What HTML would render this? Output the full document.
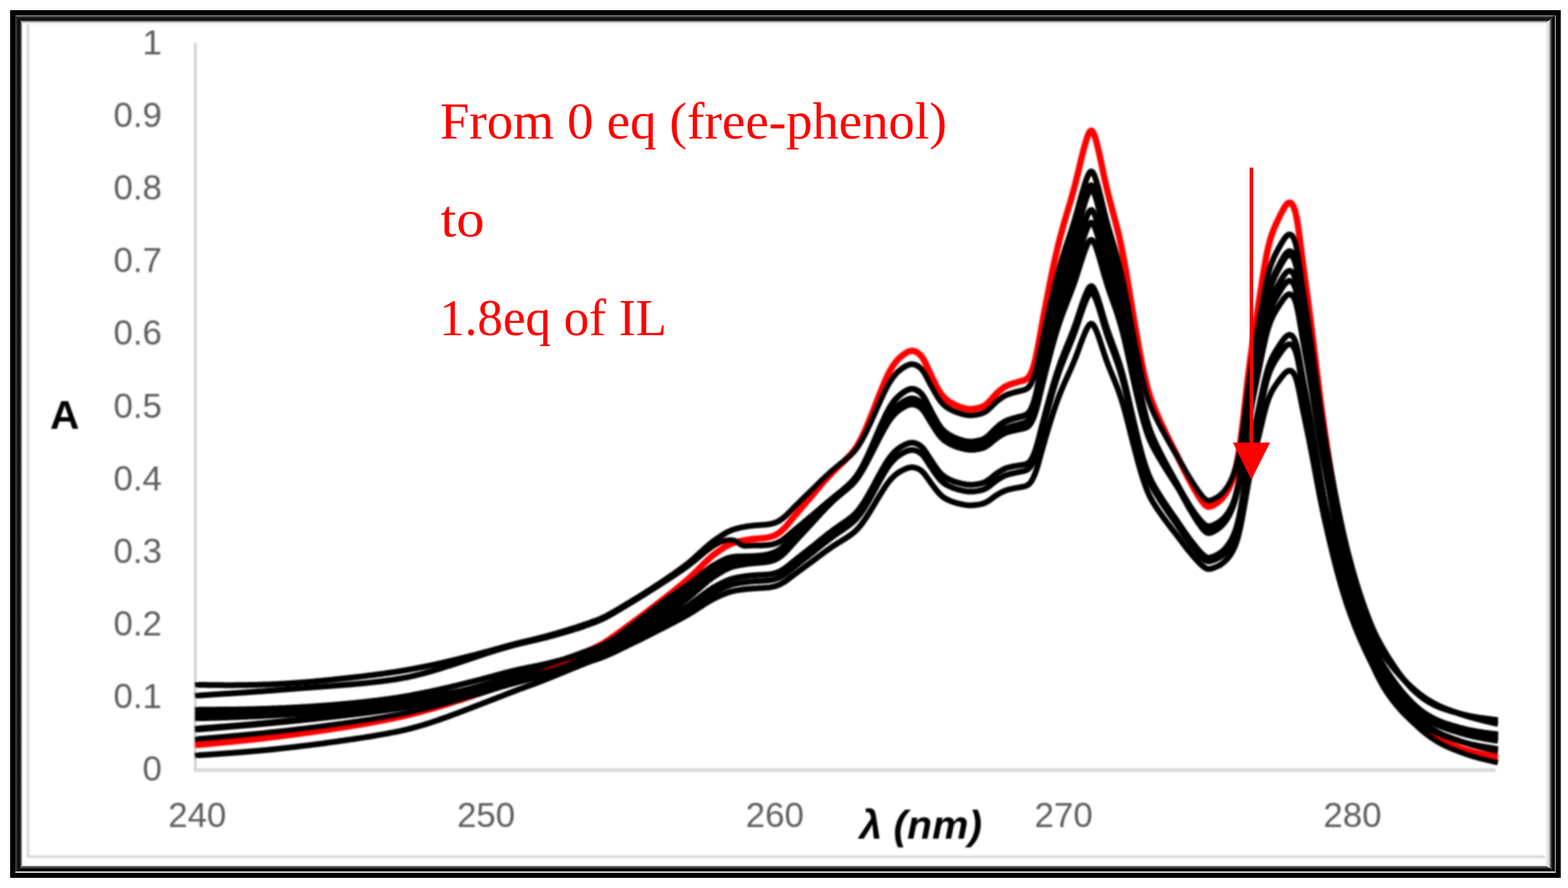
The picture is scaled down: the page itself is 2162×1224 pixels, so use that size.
<!DOCTYPE html>
<html lang="en">
<head>
<meta charset="utf-8">
<title>UV absorption spectra of phenol with increasing IL equivalents</title>
<style>
html,body{margin:0;padding:0;background:#fff;}
body{width:2162px;height:1224px;overflow:hidden;}
svg{display:block;}
.tick{font-family:"Liberation Sans",sans-serif;font-size:48px;fill:#5e5e5e;}
.ttl{font-family:"Liberation Sans",sans-serif;font-weight:bold;fill:#000;}
.note{font-family:"Liberation Serif",serif;font-size:71px;fill:#ff0000;}
.blk{fill:none;stroke:#000;stroke-width:8.0;stroke-linejoin:round;stroke-linecap:butt;}
.red{fill:none;stroke:#ff0000;stroke-width:8.8;stroke-linejoin:round;stroke-linecap:butt;}
</style>
</head>
<body>
<svg xmlns="http://www.w3.org/2000/svg" width="2162" height="1224" viewBox="0 0 2162 1224">
<defs><filter id="soft" x="-2%" y="-2%" width="104%" height="104%"><feGaussianBlur stdDeviation="1.25"/></filter><filter id="soft2" x="-2%" y="-2%" width="104%" height="104%"><feGaussianBlur stdDeviation="1.2"/></filter></defs>
<rect x="0" y="0" width="2162" height="1224" fill="#ffffff"/>
<defs><linearGradient id="gT" x1="0" y1="0" x2="0" y2="1"><stop offset="0" stop-color="#8c8c8c"/><stop offset="0.10" stop-color="#6a6a6a"/><stop offset="0.20" stop-color="#303030"/><stop offset="0.36" stop-color="#141414"/><stop offset="0.52" stop-color="#101010"/><stop offset="0.62" stop-color="#4a4a4a"/><stop offset="0.70" stop-color="#9a9a9a"/><stop offset="0.80" stop-color="#d2d2d2"/><stop offset="0.90" stop-color="#f0f0f0"/><stop offset="1" stop-color="#ffffff"/></linearGradient><linearGradient id="gL" x1="0" y1="0" x2="1" y2="0"><stop offset="0" stop-color="#3a3a3a"/><stop offset="0.22" stop-color="#2c2c2c"/><stop offset="0.34" stop-color="#0c0c0c"/><stop offset="0.62" stop-color="#101010"/><stop offset="0.72" stop-color="#6e6e6e"/><stop offset="0.82" stop-color="#9a9a9a"/><stop offset="0.90" stop-color="#e8e8e8"/><stop offset="1" stop-color="#ffffff"/></linearGradient><linearGradient id="gR" x1="0" y1="0" x2="1" y2="0"><stop offset="0" stop-color="#ffffff"/><stop offset="0.15" stop-color="#f0f0f0"/><stop offset="0.40" stop-color="#d8d8d8"/><stop offset="0.52" stop-color="#8a8a8a"/><stop offset="0.62" stop-color="#404040"/><stop offset="0.72" stop-color="#0c0c0c"/><stop offset="1" stop-color="#080808"/></linearGradient><linearGradient id="gB" x1="0" y1="0" x2="0" y2="1"><stop offset="0" stop-color="#ffffff"/><stop offset="0.12" stop-color="#e2e2e2"/><stop offset="0.22" stop-color="#d0d0d0"/><stop offset="0.26" stop-color="#4c4c4c"/><stop offset="0.48" stop-color="#484848"/><stop offset="0.56" stop-color="#000000"/><stop offset="1" stop-color="#000000"/></linearGradient></defs>
<g id="frame">
<g filter="url(#soft2)"><rect x="38.5" y="31" width="2095" height="1150" fill="none" stroke="#dcdcdc" stroke-width="4"/></g>
<polygon points="20.5,21 2144.7,21 2130,33.5 32,33.5" fill="url(#gT)"/>
<polygon points="20.5,1201.2 32,1192 2130,1192 2144.7,1201.2" fill="url(#gB)"/>
<polygon points="21,20.5 32,33.5 32,1192 21,1201.7" fill="url(#gL)"/>
<polygon points="2144.2,20.5 2144.2,1201.7 2130,1192 2130,33.5" fill="url(#gR)"/>
<rect x="17.5" y="17.5" width="2131" height="1189" fill="none" stroke="#000" stroke-width="7"/>
</g>
<g id="chart" filter="url(#soft)">
<rect x="267.4" y="59" width="3.9" height="1005" fill="#d4d4d4"/>
<rect x="267.4" y="1058.9" width="1795" height="5.2" fill="#dadada"/>
<text class="tick" x="223.2" y="1076.0" text-anchor="end">0</text>
<text class="tick" x="223.2" y="975.9" text-anchor="end">0.1</text>
<text class="tick" x="223.2" y="875.8" text-anchor="end">0.2</text>
<text class="tick" x="223.2" y="775.7" text-anchor="end">0.3</text>
<text class="tick" x="223.2" y="675.6" text-anchor="end">0.4</text>
<text class="tick" x="223.2" y="575.5" text-anchor="end">0.5</text>
<text class="tick" x="223.2" y="475.4" text-anchor="end">0.6</text>
<text class="tick" x="223.2" y="375.3" text-anchor="end">0.7</text>
<text class="tick" x="223.2" y="275.2" text-anchor="end">0.8</text>
<text class="tick" x="223.2" y="175.1" text-anchor="end">0.9</text>
<text class="tick" x="223.2" y="75.0" text-anchor="end">1</text>
<text class="tick" x="272.0" y="1140.3" text-anchor="middle">240</text>
<text class="tick" x="670.2" y="1140.3" text-anchor="middle">250</text>
<text class="tick" x="1068.4" y="1140.3" text-anchor="middle">260</text>
<text class="tick" x="1466.6" y="1140.3" text-anchor="middle">270</text>
<text class="tick" x="1864.8" y="1140.3" text-anchor="middle">280</text>
<text class="ttl" x="69" y="590.5" font-size="56">A</text>
<text class="ttl" x="1185" y="1156" font-size="56" font-style="italic" textLength="169" lengthAdjust="spacingAndGlyphs">λ (nm)</text>
<path class="red" d="M268.4 1027.0L269.9 1026.9L271.4 1026.8L272.9 1026.6L274.4 1026.5L275.9 1026.4L277.4 1026.2L278.9 1026.1L280.4 1026.0L281.9 1025.8L283.4 1025.7L284.9 1025.6L286.4 1025.4L287.9 1025.3L289.4 1025.1L290.9 1025.0L292.4 1024.9L293.9 1024.7L295.4 1024.6L296.9 1024.4L298.4 1024.3L299.9 1024.2L301.4 1024.0L302.9 1023.9L304.4 1023.7L305.9 1023.6L307.4 1023.4L308.9 1023.3L310.4 1023.1L311.9 1023.0L313.4 1022.8L314.9 1022.7L316.4 1022.6L317.9 1022.4L319.4 1022.3L320.9 1022.1L322.4 1022.0L323.9 1021.8L325.4 1021.7L326.9 1021.5L328.4 1021.3L329.9 1021.2L331.4 1021.0L332.9 1020.9L334.4 1020.7L335.9 1020.6L337.4 1020.4L338.9 1020.3L340.4 1020.1L341.9 1019.9L343.4 1019.8L344.9 1019.6L346.4 1019.5L347.9 1019.3L349.4 1019.1L350.9 1019.0L352.4 1018.8L353.9 1018.6L355.4 1018.5L356.9 1018.3L358.4 1018.1L359.9 1017.9L361.4 1017.8L362.9 1017.6L364.4 1017.4L365.9 1017.3L367.4 1017.1L368.9 1016.9L370.4 1016.7L371.9 1016.5L373.4 1016.4L374.9 1016.2L376.4 1016.0L377.9 1015.8L379.4 1015.6L380.9 1015.5L382.4 1015.3L383.9 1015.1L385.4 1014.9L386.9 1014.7L388.4 1014.5L389.9 1014.3L391.4 1014.2L392.9 1014.0L394.4 1013.8L395.9 1013.6L397.4 1013.4L398.9 1013.2L400.4 1013.0L401.9 1012.8L403.4 1012.6L404.9 1012.4L406.4 1012.2L407.9 1012.0L409.4 1011.8L410.9 1011.6L412.4 1011.4L413.9 1011.2L415.4 1011.0L416.9 1010.8L418.4 1010.6L419.9 1010.4L421.4 1010.2L422.9 1010.0L424.4 1009.8L425.9 1009.6L427.4 1009.4L428.9 1009.2L430.4 1008.9L431.9 1008.7L433.4 1008.5L434.9 1008.3L436.4 1008.1L437.9 1007.9L439.4 1007.6L440.9 1007.4L442.4 1007.2L443.9 1007.0L445.4 1006.8L446.9 1006.5L448.4 1006.3L449.9 1006.1L451.4 1005.8L452.9 1005.6L454.4 1005.4L455.9 1005.2L457.4 1004.9L458.9 1004.7L460.4 1004.5L461.9 1004.2L463.4 1004.0L464.9 1003.8L466.4 1003.5L467.9 1003.3L469.4 1003.1L470.9 1002.8L472.4 1002.6L473.9 1002.3L475.4 1002.1L476.9 1001.9L478.4 1001.6L479.9 1001.4L481.4 1001.1L482.9 1000.9L484.4 1000.7L485.9 1000.4L487.4 1000.2L488.9 999.9L490.4 999.7L491.9 999.4L493.4 999.2L494.9 998.9L496.4 998.7L497.9 998.4L499.4 998.2L500.9 997.9L502.4 997.7L503.9 997.4L505.4 997.1L506.9 996.9L508.4 996.6L509.9 996.3L511.4 996.1L512.9 995.8L514.4 995.5L515.9 995.2L517.4 995.0L518.9 994.7L520.4 994.4L521.9 994.1L523.4 993.8L524.9 993.6L526.4 993.3L527.9 993.0L529.4 992.7L530.9 992.4L532.4 992.1L533.9 991.8L535.4 991.5L536.9 991.2L538.4 990.9L539.9 990.6L541.4 990.3L542.9 990.0L544.4 989.6L545.9 989.3L547.4 989.0L548.9 988.7L550.4 988.3L551.9 988.0L553.4 987.7L554.9 987.3L556.4 987.0L557.9 986.6L559.4 986.3L560.9 985.9L562.4 985.5L563.9 985.2L565.4 984.8L566.9 984.4L568.4 984.0L569.9 983.7L571.4 983.3L572.9 982.9L574.4 982.5L575.9 982.1L577.4 981.7L578.9 981.3L580.4 980.9L581.9 980.5L583.4 980.1L584.9 979.7L586.4 979.3L587.9 978.9L589.4 978.5L590.9 978.1L592.4 977.7L593.9 977.2L595.4 976.8L596.9 976.4L598.4 975.9L599.9 975.5L601.4 975.1L602.9 974.6L604.4 974.2L605.9 973.7L607.4 973.3L608.9 972.8L610.4 972.4L611.9 971.9L613.4 971.4L614.9 971.0L616.4 970.5L617.9 970.0L619.4 969.6L620.9 969.1L622.4 968.6L623.9 968.2L625.4 967.7L626.9 967.2L628.4 966.7L629.9 966.2L631.4 965.8L632.9 965.3L634.4 964.8L635.9 964.3L637.4 963.8L638.9 963.3L640.4 962.8L641.9 962.3L643.4 961.8L644.9 961.3L646.4 960.8L647.9 960.3L649.4 959.8L650.9 959.3L652.4 958.8L653.9 958.2L655.4 957.7L656.9 957.2L658.4 956.7L659.9 956.2L661.4 955.6L662.9 955.1L664.4 954.6L665.9 954.0L667.4 953.5L668.9 953.0L670.4 952.4L671.9 951.9L673.4 951.4L674.9 950.8L676.4 950.3L677.9 949.7L679.4 949.1L680.9 948.6L682.4 948.0L683.9 947.5L685.4 946.9L686.9 946.3L688.4 945.8L689.9 945.2L691.4 944.6L692.9 944.0L694.4 943.5L695.9 942.9L697.4 942.3L698.9 941.7L700.4 941.1L701.9 940.6L703.4 940.0L704.9 939.4L706.4 938.8L707.9 938.3L709.4 937.7L710.9 937.2L712.4 936.6L713.9 936.1L715.4 935.5L716.9 935.0L718.4 934.4L719.9 933.9L721.4 933.4L722.9 932.8L724.4 932.3L725.9 931.8L727.4 931.2L728.9 930.7L730.4 930.1L731.9 929.6L733.4 929.1L734.9 928.5L736.4 928.0L737.9 927.4L739.4 926.9L740.9 926.3L742.4 925.8L743.9 925.2L745.4 924.6L746.9 924.1L748.4 923.5L749.9 922.9L751.4 922.3L752.9 921.7L754.4 921.1L755.9 920.5L757.4 919.9L758.9 919.3L760.4 918.7L761.9 918.1L763.4 917.5L764.9 916.8L766.4 916.2L767.9 915.6L769.4 915.0L770.9 914.3L772.4 913.7L773.9 913.1L775.4 912.4L776.9 911.8L778.4 911.2L779.9 910.5L781.4 909.9L782.9 909.2L784.4 908.6L785.9 908.0L787.4 907.3L788.9 906.7L790.4 906.0L791.9 905.4L793.4 904.8L794.9 904.1L796.4 903.5L797.9 902.8L799.4 902.2L800.9 901.5L802.4 900.9L803.9 900.2L805.4 899.6L806.9 898.9L808.4 898.2L809.9 897.6L811.4 896.9L812.9 896.2L814.4 895.5L815.9 894.9L817.4 894.2L818.9 893.5L820.4 892.8L821.9 892.1L823.4 891.3L824.9 890.6L826.4 889.8L827.9 889.0L829.4 888.1L830.9 887.3L832.4 886.4L833.9 885.5L835.4 884.5L836.9 883.6L838.4 882.6L839.9 881.6L841.4 880.6L842.9 879.5L844.4 878.5L845.9 877.4L847.4 876.4L848.9 875.3L850.4 874.2L851.9 873.1L853.4 872.0L854.9 870.9L856.4 869.8L857.9 868.7L859.4 867.6L860.9 866.5L862.4 865.4L863.9 864.3L865.4 863.2L866.9 862.1L868.4 861.0L869.9 859.9L871.4 858.8L872.9 857.7L874.4 856.6L875.9 855.5L877.4 854.4L878.9 853.3L880.4 852.2L881.9 851.1L883.4 849.9L884.9 848.8L886.4 847.7L887.9 846.5L889.4 845.4L890.9 844.3L892.4 843.1L893.9 842.0L895.4 840.8L896.9 839.7L898.4 838.5L899.9 837.4L901.4 836.2L902.9 835.1L904.4 833.9L905.9 832.7L907.4 831.6L908.9 830.4L910.4 829.2L911.9 828.1L913.4 826.9L914.9 825.7L916.4 824.6L917.9 823.4L919.4 822.2L920.9 821.0L922.4 819.8L923.9 818.7L925.4 817.5L926.9 816.3L928.4 815.1L929.9 813.9L931.4 812.7L932.9 811.5L934.4 810.2L935.9 809.0L937.4 807.8L938.9 806.6L940.4 805.3L941.9 804.0L943.4 802.8L944.9 801.5L946.4 800.2L947.9 798.9L949.4 797.6L950.9 796.2L952.4 794.8L953.9 793.4L955.4 791.9L956.9 790.5L958.4 789.0L959.9 787.5L961.4 786.0L962.9 784.5L964.4 783.0L965.9 781.5L967.4 780.0L968.9 778.5L970.4 777.0L971.9 775.6L973.4 774.1L974.9 772.7L976.4 771.3L977.9 770.0L979.4 768.7L980.9 767.4L982.4 766.1L983.9 764.9L985.4 763.8L986.9 762.7L988.4 761.6L989.9 760.5L991.4 759.4L992.9 758.4L994.4 757.4L995.9 756.3L997.4 755.4L998.9 754.4L1000.4 753.5L1001.9 752.6L1003.4 751.8L1004.9 751.0L1006.4 750.3L1007.9 749.7L1009.4 749.1L1010.9 748.6L1012.4 748.1L1013.9 747.6L1015.4 747.2L1016.9 746.8L1018.4 746.4L1019.9 746.1L1021.4 745.8L1022.9 745.4L1024.4 745.1L1025.9 744.9L1027.4 744.6L1028.9 744.3L1030.4 744.1L1031.9 743.8L1033.4 743.6L1034.9 743.4L1036.4 743.2L1037.9 743.1L1039.4 742.9L1040.9 742.7L1042.4 742.6L1043.9 742.5L1045.4 742.3L1046.9 742.2L1048.4 742.1L1049.9 741.9L1051.4 741.8L1052.9 741.6L1054.4 741.5L1055.9 741.3L1057.4 741.0L1058.9 740.8L1060.4 740.4L1061.9 740.1L1063.4 739.7L1064.9 739.2L1066.4 738.6L1067.9 738.0L1069.4 737.3L1070.9 736.5L1072.4 735.6L1073.9 734.6L1075.4 733.5L1076.9 732.3L1078.4 730.9L1079.9 729.5L1081.4 728.0L1082.9 726.5L1084.4 724.8L1085.9 723.1L1087.4 721.3L1088.9 719.5L1090.4 717.6L1091.9 715.8L1093.4 714.0L1094.9 712.2L1096.4 710.4L1097.9 708.6L1099.4 706.8L1100.9 705.1L1102.4 703.3L1103.9 701.5L1105.4 699.8L1106.9 698.0L1108.4 696.3L1109.9 694.5L1111.4 692.8L1112.9 691.1L1114.4 689.3L1115.9 687.6L1117.4 685.8L1118.9 684.1L1120.4 682.3L1121.9 680.6L1123.4 678.8L1124.9 677.0L1126.4 675.2L1127.9 673.4L1129.4 671.7L1130.9 669.9L1132.4 668.1L1133.9 666.4L1135.4 664.6L1136.9 662.9L1138.4 661.3L1139.9 659.6L1141.4 658.0L1142.9 656.4L1144.4 654.8L1145.9 653.2L1147.4 651.6L1148.9 650.1L1150.4 648.6L1151.9 647.1L1153.4 645.6L1154.9 644.2L1156.4 642.7L1157.9 641.3L1159.4 639.9L1160.9 638.5L1162.4 637.1L1163.9 635.6L1165.4 634.2L1166.9 632.7L1168.4 631.2L1169.9 629.7L1171.4 628.1L1172.9 626.5L1174.4 624.8L1175.9 623.0L1177.4 621.1L1178.9 619.1L1180.4 616.9L1181.9 614.6L1183.4 612.0L1184.9 609.4L1186.4 606.6L1187.9 603.7L1189.4 600.7L1190.9 597.5L1192.4 594.3L1193.9 590.9L1195.4 587.3L1196.9 583.8L1198.4 580.1L1199.9 576.4L1201.4 572.6L1202.9 568.8L1204.4 565.0L1205.9 561.2L1207.4 557.3L1208.9 553.4L1210.4 549.6L1211.9 545.7L1213.4 542.0L1214.9 538.3L1216.4 534.6L1217.9 531.0L1219.4 527.4L1220.9 523.9L1222.4 520.6L1223.9 517.4L1225.4 514.4L1226.9 511.5L1228.4 508.9L1229.9 506.4L1231.4 504.1L1232.9 501.9L1234.4 499.8L1235.9 498.0L1237.4 496.3L1238.9 494.7L1240.4 493.3L1241.9 492.0L1243.4 490.7L1244.9 489.5L1246.4 488.4L1247.9 487.3L1249.4 486.4L1250.9 485.5L1252.4 484.8L1253.9 484.2L1255.4 483.8L1256.9 483.6L1258.4 483.6L1259.9 483.9L1261.4 484.3L1262.9 484.9L1264.4 485.8L1265.9 486.7L1267.4 487.9L1268.9 489.3L1270.4 491.0L1271.9 493.0L1273.4 495.4L1274.9 498.1L1276.4 501.1L1277.9 504.4L1279.4 507.6L1280.9 510.9L1282.4 514.1L1283.9 517.3L1285.4 520.4L1286.9 523.4L1288.4 526.5L1289.9 529.5L1291.4 532.5L1292.9 535.3L1294.4 537.9L1295.9 540.4L1297.4 542.6L1298.9 544.6L1300.4 546.4L1301.9 548.0L1303.4 549.4L1304.9 550.7L1306.4 551.9L1307.9 553.0L1309.4 554.0L1310.9 555.0L1312.4 555.8L1313.9 556.7L1315.4 557.4L1316.9 558.1L1318.4 558.8L1319.9 559.4L1321.4 560.0L1322.9 560.6L1324.4 561.1L1325.9 561.6L1327.4 562.1L1328.9 562.5L1330.4 562.9L1331.9 563.3L1333.4 563.5L1334.9 563.7L1336.4 563.9L1337.9 563.9L1339.4 563.9L1340.9 563.8L1342.4 563.6L1343.9 563.4L1345.4 563.2L1346.9 562.9L1348.4 562.5L1349.9 562.2L1351.4 561.7L1352.9 561.2L1354.4 560.7L1355.9 560.0L1357.4 559.2L1358.9 558.1L1360.4 557.0L1361.9 555.6L1363.4 554.1L1364.9 552.5L1366.4 550.9L1367.9 549.2L1369.4 547.5L1370.9 545.8L1372.4 544.2L1373.9 542.7L1375.4 541.2L1376.9 539.9L1378.4 538.5L1379.9 537.3L1381.4 536.1L1382.9 535.0L1384.4 534.0L1385.9 533.0L1387.4 532.2L1388.9 531.5L1390.4 530.8L1391.9 530.2L1393.4 529.7L1394.9 529.2L1396.4 528.7L1397.9 528.2L1399.4 527.8L1400.9 527.3L1402.4 526.9L1403.9 526.4L1405.4 526.0L1406.9 525.6L1408.4 525.2L1409.9 524.8L1411.4 524.3L1412.9 523.7L1414.4 523.0L1415.9 522.1L1417.4 520.8L1418.9 519.0L1420.4 516.6L1421.9 513.5L1423.4 509.8L1424.9 505.3L1426.4 500.0L1427.9 494.0L1429.4 487.1L1430.9 479.6L1432.4 471.5L1433.9 463.1L1435.4 454.7L1436.9 446.5L1438.4 438.4L1439.9 430.4L1441.4 422.5L1442.9 414.7L1444.4 407.0L1445.9 399.3L1447.4 391.7L1448.9 384.3L1450.4 376.9L1451.9 369.7L1453.4 362.7L1454.9 355.9L1456.4 349.3L1457.9 342.8L1459.4 336.6L1460.9 330.7L1462.4 324.9L1463.9 319.3L1465.4 313.8L1466.9 308.5L1468.4 303.3L1469.9 298.2L1471.4 293.1L1472.9 288.1L1474.4 283.0L1475.9 277.9L1477.4 272.7L1478.9 267.3L1480.4 261.9L1481.9 256.2L1483.4 250.4L1484.9 244.3L1486.4 238.1L1487.9 231.8L1489.4 225.4L1490.9 219.1L1492.4 213.0L1493.9 207.2L1495.4 201.6L1496.9 196.4L1498.4 191.5L1499.9 187.1L1501.4 183.6L1502.9 181.1L1504.4 180.1L1505.9 180.7L1507.4 182.9L1508.9 186.3L1510.4 190.9L1511.9 196.2L1513.4 202.0L1514.9 208.3L1516.4 215.0L1517.9 221.9L1519.4 229.1L1520.9 236.2L1522.4 243.3L1523.9 250.1L1525.4 256.7L1526.9 263.0L1528.4 269.0L1529.9 274.9L1531.4 280.6L1532.9 286.2L1534.4 291.8L1535.9 297.4L1537.4 303.0L1538.9 308.8L1540.4 314.7L1541.9 320.8L1543.4 327.2L1544.9 334.0L1546.4 341.0L1547.9 348.5L1549.4 356.4L1550.9 364.6L1552.4 373.1L1553.9 381.9L1555.4 390.9L1556.9 400.0L1558.4 409.1L1559.9 418.3L1561.4 427.3L1562.9 436.2L1564.4 445.0L1565.9 453.7L1567.4 462.3L1568.9 470.8L1570.4 479.2L1571.9 487.4L1573.4 495.3L1574.9 502.8L1576.4 510.0L1577.9 516.9L1579.4 523.3L1580.9 529.4L1582.4 535.1L1583.9 540.3L1585.4 545.2L1586.9 549.7L1588.4 553.8L1589.9 557.7L1591.4 561.5L1592.9 565.0L1594.4 568.6L1595.9 572.0L1597.4 575.4L1598.9 578.7L1600.4 582.0L1601.9 585.3L1603.4 588.4L1604.9 591.6L1606.4 594.7L1607.9 597.8L1609.4 600.9L1610.9 603.9L1612.4 606.9L1613.9 609.9L1615.4 612.9L1616.9 615.9L1618.4 618.8L1619.9 621.8L1621.4 624.8L1622.9 627.8L1624.4 630.8L1625.9 633.9L1627.4 637.0L1628.9 640.1L1630.4 643.1L1631.9 646.2L1633.4 649.2L1634.9 652.1L1636.4 655.1L1637.9 658.0L1639.4 660.8L1640.9 663.6L1642.4 666.4L1643.9 669.1L1645.4 671.7L1646.9 674.4L1648.4 676.9L1649.9 679.5L1651.4 681.9L1652.9 684.4L1654.4 686.7L1655.9 688.9L1657.4 691.0L1658.9 693.0L1660.4 694.8L1661.9 696.3L1663.4 697.5L1664.9 698.2L1666.4 698.5L1667.9 698.4L1669.4 698.0L1670.9 697.4L1672.4 696.7L1673.9 695.9L1675.4 695.0L1676.9 694.0L1678.4 693.0L1679.9 691.9L1681.4 690.7L1682.9 689.3L1684.4 687.8L1685.9 686.1L1687.4 684.2L1688.9 682.2L1690.4 680.0L1691.9 677.6L1693.4 674.9L1694.9 672.0L1696.4 668.8L1697.9 665.2L1699.4 661.2L1700.9 656.7L1702.4 651.6L1703.9 645.8L1705.4 639.1L1706.9 631.4L1708.4 622.5L1709.9 612.5L1711.4 601.4L1712.9 589.4L1714.4 576.8L1715.9 563.6L1717.4 550.2L1718.9 536.8L1720.4 523.7L1721.9 511.1L1723.4 499.2L1724.9 488.0L1726.4 477.3L1727.9 467.0L1729.4 457.1L1730.9 447.4L1732.4 437.9L1733.9 428.4L1735.4 418.9L1736.9 409.3L1738.4 399.6L1739.9 390.0L1741.4 380.4L1742.9 371.2L1744.4 362.3L1745.9 354.1L1747.4 346.6L1748.9 339.9L1750.4 334.0L1751.9 328.7L1753.4 324.0L1754.9 319.8L1756.4 315.9L1757.9 312.3L1759.4 308.9L1760.9 305.7L1762.4 302.6L1763.9 299.5L1765.4 296.4L1766.9 293.4L1768.4 290.5L1769.9 287.8L1771.4 285.3L1772.9 283.1L1774.4 281.4L1775.9 280.1L1777.4 279.4L1778.9 279.5L1780.4 280.2L1781.9 281.9L1783.4 284.5L1784.9 288.2L1786.4 293.4L1787.9 300.3L1789.4 309.2L1790.9 319.6L1792.4 331.0L1793.9 342.8L1795.4 354.5L1796.9 365.9L1798.4 376.9L1799.9 387.9L1801.4 398.8L1802.9 409.8L1804.4 421.1L1805.9 432.6L1807.4 444.3L1808.9 456.3L1810.4 468.5L1811.9 480.7L1813.4 493.0L1814.9 505.3L1816.4 517.5L1817.9 529.6L1819.4 541.5L1820.9 553.2L1822.4 564.5L1823.9 575.6L1825.4 586.3L1826.9 596.8L1828.4 607.0L1829.9 617.1L1831.4 627.0L1832.9 636.8L1834.4 646.5L1835.9 656.0L1837.4 665.4L1838.9 674.7L1840.4 683.8L1841.9 692.7L1843.4 701.5L1844.9 710.1L1846.4 718.5L1847.9 726.8L1849.4 734.8L1850.9 742.6L1852.4 750.2L1853.9 757.7L1855.4 764.9L1856.9 771.9L1858.4 778.7L1859.9 785.4L1861.4 791.9L1862.9 798.3L1864.4 804.5L1865.9 810.6L1867.4 816.6L1868.9 822.4L1870.4 828.0L1871.9 833.6L1873.4 839.0L1874.9 844.3L1876.4 849.5L1877.9 854.6L1879.4 859.6L1880.9 864.4L1882.4 869.2L1883.9 873.9L1885.4 878.5L1886.9 882.9L1888.4 887.3L1889.9 891.5L1891.4 895.7L1892.9 899.7L1894.4 903.5L1895.9 907.2L1897.4 910.8L1898.9 914.3L1900.4 917.6L1901.9 920.8L1903.4 923.9L1904.9 926.9L1906.4 929.9L1907.9 932.7L1909.4 935.5L1910.9 938.3L1912.4 940.9L1913.9 943.5L1915.4 946.1L1916.9 948.6L1918.4 951.0L1919.9 953.4L1921.4 955.7L1922.9 958.1L1924.4 960.3L1925.9 962.6L1927.4 964.7L1928.9 966.9L1930.4 969.0L1931.9 971.1L1933.4 973.1L1934.9 975.1L1936.4 977.0L1937.9 978.9L1939.4 980.8L1940.9 982.6L1942.4 984.4L1943.9 986.1L1945.4 987.8L1946.9 989.5L1948.4 991.1L1949.9 992.7L1951.4 994.3L1952.9 995.9L1954.4 997.4L1955.9 998.9L1957.4 1000.3L1958.9 1001.7L1960.4 1003.1L1961.9 1004.4L1963.4 1005.7L1964.9 1006.9L1966.4 1008.1L1967.9 1009.2L1969.4 1010.4L1970.9 1011.4L1972.4 1012.5L1973.9 1013.5L1975.4 1014.5L1976.9 1015.4L1978.4 1016.3L1979.9 1017.2L1981.4 1018.1L1982.9 1018.9L1984.4 1019.7L1985.9 1020.5L1987.4 1021.3L1988.9 1022.0L1990.4 1022.7L1991.9 1023.3L1993.4 1024.0L1994.9 1024.6L1996.4 1025.2L1997.9 1025.8L1999.4 1026.4L2000.9 1027.0L2002.4 1027.5L2003.9 1028.1L2005.4 1028.6L2006.9 1029.2L2008.4 1029.7L2009.9 1030.2L2011.4 1030.8L2012.9 1031.3L2014.4 1031.8L2015.9 1032.3L2017.4 1032.8L2018.9 1033.3L2020.4 1033.8L2021.9 1034.2L2023.4 1034.7L2024.9 1035.1L2026.4 1035.6L2027.9 1036.0L2029.4 1036.4L2030.9 1036.8L2032.4 1037.2L2033.9 1037.5L2035.4 1037.9L2036.9 1038.2L2038.4 1038.6L2039.9 1038.9L2041.4 1039.3L2042.9 1039.6L2044.4 1039.9L2045.9 1040.2L2047.4 1040.5L2048.9 1040.8L2050.4 1041.1L2051.9 1041.4L2053.4 1041.7L2054.9 1042.0L2056.4 1042.3L2057.9 1042.6L2059.4 1042.9L2060.9 1043.1L2062.4 1043.4L2063.9 1043.7L2065.4 1043.9"/>
<path class="blk" d="M268.4 990.3L269.9 990.3L271.4 990.2L272.9 990.2L274.4 990.1L275.9 990.1L277.4 990.0L278.9 990.0L280.4 989.9L281.9 989.9L283.4 989.9L284.9 989.8L286.4 989.8L287.9 989.7L289.4 989.7L290.9 989.6L292.4 989.6L293.9 989.5L295.4 989.5L296.9 989.4L298.4 989.4L299.9 989.3L301.4 989.3L302.9 989.3L304.4 989.2L305.9 989.1L307.4 989.1L308.9 989.0L310.4 989.0L311.9 988.9L313.4 988.9L314.9 988.8L316.4 988.8L317.9 988.7L319.4 988.7L320.9 988.6L322.4 988.6L323.9 988.5L325.4 988.4L326.9 988.4L328.4 988.3L329.9 988.3L331.4 988.2L332.9 988.1L334.4 988.1L335.9 988.0L337.4 988.0L338.9 987.9L340.4 987.8L341.9 987.8L343.4 987.7L344.9 987.6L346.4 987.6L347.9 987.5L349.4 987.4L350.9 987.4L352.4 987.3L353.9 987.2L355.4 987.2L356.9 987.1L358.4 987.0L359.9 986.9L361.4 986.9L362.9 986.8L364.4 986.7L365.9 986.6L367.4 986.6L368.9 986.5L370.4 986.4L371.9 986.3L373.4 986.3L374.9 986.2L376.4 986.1L377.9 986.0L379.4 985.9L380.9 985.8L382.4 985.8L383.9 985.7L385.4 985.6L386.9 985.5L388.4 985.4L389.9 985.3L391.4 985.2L392.9 985.2L394.4 985.1L395.9 985.0L397.4 984.9L398.9 984.8L400.4 984.7L401.9 984.6L403.4 984.5L404.9 984.4L406.4 984.3L407.9 984.2L409.4 984.1L410.9 984.0L412.4 983.9L413.9 983.8L415.4 983.7L416.9 983.6L418.4 983.5L419.9 983.4L421.4 983.3L422.9 983.2L424.4 983.1L425.9 983.0L427.4 982.9L428.9 982.8L430.4 982.7L431.9 982.6L433.4 982.5L434.9 982.4L436.4 982.3L437.9 982.1L439.4 982.0L440.9 981.9L442.4 981.8L443.9 981.7L445.4 981.6L446.9 981.4L448.4 981.3L449.9 981.2L451.4 981.1L452.9 981.0L454.4 980.8L455.9 980.7L457.4 980.6L458.9 980.5L460.4 980.3L461.9 980.2L463.4 980.1L464.9 980.0L466.4 979.8L467.9 979.7L469.4 979.6L470.9 979.5L472.4 979.3L473.9 979.2L475.4 979.1L476.9 978.9L478.4 978.8L479.9 978.7L481.4 978.5L482.9 978.4L484.4 978.3L485.9 978.1L487.4 978.0L488.9 977.9L490.4 977.7L491.9 977.6L493.4 977.5L494.9 977.3L496.4 977.2L497.9 977.0L499.4 976.9L500.9 976.7L502.4 976.6L503.9 976.4L505.4 976.3L506.9 976.1L508.4 976.0L509.9 975.8L511.4 975.7L512.9 975.5L514.4 975.4L515.9 975.2L517.4 975.0L518.9 974.9L520.4 974.7L521.9 974.6L523.4 974.4L524.9 974.2L526.4 974.1L527.9 973.9L529.4 973.7L530.9 973.5L532.4 973.4L533.9 973.2L535.4 973.0L536.9 972.8L538.4 972.7L539.9 972.5L541.4 972.3L542.9 972.1L544.4 971.9L545.9 971.7L547.4 971.5L548.9 971.3L550.4 971.1L551.9 970.9L553.4 970.7L554.9 970.5L556.4 970.3L557.9 970.1L559.4 969.8L560.9 969.6L562.4 969.4L563.9 969.2L565.4 969.0L566.9 968.7L568.4 968.5L569.9 968.3L571.4 968.0L572.9 967.8L574.4 967.6L575.9 967.3L577.4 967.1L578.9 966.8L580.4 966.6L581.9 966.3L583.4 966.1L584.9 965.8L586.4 965.6L587.9 965.3L589.4 965.1L590.9 964.8L592.4 964.6L593.9 964.3L595.4 964.1L596.9 963.8L598.4 963.5L599.9 963.2L601.4 963.0L602.9 962.7L604.4 962.4L605.9 962.1L607.4 961.9L608.9 961.6L610.4 961.3L611.9 961.0L613.4 960.7L614.9 960.4L616.4 960.1L617.9 959.8L619.4 959.6L620.9 959.3L622.4 959.0L623.9 958.7L625.4 958.4L626.9 958.1L628.4 957.8L629.9 957.5L631.4 957.2L632.9 956.8L634.4 956.5L635.9 956.2L637.4 955.9L638.9 955.6L640.4 955.3L641.9 955.0L643.4 954.7L644.9 954.3L646.4 954.0L647.9 953.7L649.4 953.4L650.9 953.0L652.4 952.7L653.9 952.4L655.4 952.1L656.9 951.7L658.4 951.4L659.9 951.0L661.4 950.7L662.9 950.4L664.4 950.0L665.9 949.7L667.4 949.4L668.9 949.0L670.4 948.7L671.9 948.3L673.4 948.0L674.9 947.6L676.4 947.2L677.9 946.9L679.4 946.5L680.9 946.2L682.4 945.8L683.9 945.4L685.4 945.1L686.9 944.7L688.4 944.3L689.9 943.9L691.4 943.6L692.9 943.2L694.4 942.8L695.9 942.4L697.4 942.1L698.9 941.7L700.4 941.3L701.9 940.9L703.4 940.5L704.9 940.2L706.4 939.8L707.9 939.4L709.4 939.1L710.9 938.7L712.4 938.3L713.9 938.0L715.4 937.6L716.9 937.3L718.4 936.9L719.9 936.5L721.4 936.2L722.9 935.8L724.4 935.5L725.9 935.1L727.4 934.8L728.9 934.4L730.4 934.1L731.9 933.7L733.4 933.4L734.9 933.0L736.4 932.7L737.9 932.3L739.4 931.9L740.9 931.6L742.4 931.2L743.9 930.8L745.4 930.4L746.9 930.1L748.4 929.7L749.9 929.3L751.4 928.9L752.9 928.5L754.4 928.1L755.9 927.7L757.4 927.3L758.9 926.9L760.4 926.5L761.9 926.1L763.4 925.7L764.9 925.3L766.4 924.9L767.9 924.5L769.4 924.1L770.9 923.6L772.4 923.2L773.9 922.8L775.4 922.4L776.9 922.0L778.4 921.5L779.9 921.1L781.4 920.7L782.9 920.3L784.4 919.9L785.9 919.4L787.4 919.0L788.9 918.6L790.4 918.2L791.9 917.8L793.4 917.3L794.9 916.9L796.4 916.5L797.9 916.1L799.4 915.6L800.9 915.2L802.4 914.8L803.9 914.3L805.4 913.9L806.9 913.5L808.4 913.0L809.9 912.6L811.4 912.1L812.9 911.7L814.4 911.2L815.9 910.8L817.4 910.3L818.9 909.9L820.4 909.4L821.9 908.9L823.4 908.4L824.9 907.9L826.4 907.4L827.9 906.9L829.4 906.3L830.9 905.8L832.4 905.2L833.9 904.6L835.4 903.9L836.9 903.3L838.4 902.7L839.9 902.0L841.4 901.3L842.9 900.7L844.4 900.0L845.9 899.3L847.4 898.6L848.9 897.9L850.4 897.1L851.9 896.4L853.4 895.7L854.9 895.0L856.4 894.2L857.9 893.5L859.4 892.8L860.9 892.0L862.4 891.3L863.9 890.6L865.4 889.8L866.9 889.1L868.4 888.4L869.9 887.7L871.4 886.9L872.9 886.2L874.4 885.5L875.9 884.8L877.4 884.0L878.9 883.3L880.4 882.6L881.9 881.8L883.4 881.1L884.9 880.3L886.4 879.6L887.9 878.8L889.4 878.1L890.9 877.3L892.4 876.6L893.9 875.8L895.4 875.1L896.9 874.3L898.4 873.6L899.9 872.8L901.4 872.0L902.9 871.3L904.4 870.5L905.9 869.7L907.4 869.0L908.9 868.2L910.4 867.4L911.9 866.7L913.4 865.9L914.9 865.1L916.4 864.4L917.9 863.6L919.4 862.8L920.9 862.1L922.4 861.3L923.9 860.5L925.4 859.7L926.9 859.0L928.4 858.2L929.9 857.4L931.4 856.6L932.9 855.8L934.4 855.0L935.9 854.2L937.4 853.4L938.9 852.6L940.4 851.8L941.9 851.0L943.4 850.1L944.9 849.3L946.4 848.5L947.9 847.6L949.4 846.7L950.9 845.8L952.4 844.9L953.9 844.0L955.4 843.1L956.9 842.1L958.4 841.2L959.9 840.2L961.4 839.2L962.9 838.2L964.4 837.2L965.9 836.3L967.4 835.3L968.9 834.3L970.4 833.3L971.9 832.4L973.4 831.5L974.9 830.5L976.4 829.6L977.9 828.7L979.4 827.9L980.9 827.0L982.4 826.2L983.9 825.4L985.4 824.7L986.9 824.0L988.4 823.2L989.9 822.5L991.4 821.9L992.9 821.2L994.4 820.5L995.9 819.8L997.4 819.2L998.9 818.6L1000.4 818.0L1001.9 817.4L1003.4 816.9L1004.9 816.4L1006.4 815.9L1007.9 815.5L1009.4 815.1L1010.9 814.8L1012.4 814.4L1013.9 814.1L1015.4 813.9L1016.9 813.6L1018.4 813.4L1019.9 813.1L1021.4 812.9L1022.9 812.7L1024.4 812.5L1025.9 812.3L1027.4 812.2L1028.9 812.0L1030.4 811.8L1031.9 811.7L1033.4 811.5L1034.9 811.4L1036.4 811.3L1037.9 811.2L1039.4 811.1L1040.9 811.0L1042.4 810.9L1043.9 810.8L1045.4 810.7L1046.9 810.6L1048.4 810.6L1049.9 810.5L1051.4 810.4L1052.9 810.3L1054.4 810.2L1055.9 810.1L1057.4 810.0L1058.9 809.9L1060.4 809.7L1061.9 809.5L1063.4 809.2L1064.9 808.9L1066.4 808.6L1067.9 808.3L1069.4 807.8L1070.9 807.4L1072.4 806.8L1073.9 806.2L1075.4 805.5L1076.9 804.7L1078.4 803.9L1079.9 803.0L1081.4 802.1L1082.9 801.1L1084.4 800.1L1085.9 799.0L1087.4 797.9L1088.9 796.7L1090.4 795.6L1091.9 794.4L1093.4 793.3L1094.9 792.2L1096.4 791.0L1097.9 789.9L1099.4 788.8L1100.9 787.7L1102.4 786.6L1103.9 785.5L1105.4 784.4L1106.9 783.3L1108.4 782.2L1109.9 781.1L1111.4 780.0L1112.9 778.9L1114.4 777.8L1115.9 776.7L1117.4 775.6L1118.9 774.5L1120.4 773.4L1121.9 772.3L1123.4 771.2L1124.9 770.1L1126.4 768.9L1127.9 767.8L1129.4 766.6L1130.9 765.5L1132.4 764.4L1133.9 763.3L1135.4 762.2L1136.9 761.1L1138.4 760.0L1139.9 758.9L1141.4 757.9L1142.9 756.8L1144.4 755.8L1145.9 754.7L1147.4 753.7L1148.9 752.7L1150.4 751.7L1151.9 750.8L1153.4 749.8L1154.9 748.9L1156.4 747.9L1157.9 747.0L1159.4 746.1L1160.9 745.2L1162.4 744.2L1163.9 743.3L1165.4 742.3L1166.9 741.4L1168.4 740.4L1169.9 739.4L1171.4 738.4L1172.9 737.3L1174.4 736.2L1175.9 735.1L1177.4 733.8L1178.9 732.5L1180.4 731.1L1181.9 729.5L1183.4 727.9L1184.9 726.2L1186.4 724.4L1187.9 722.5L1189.4 720.5L1190.9 718.4L1192.4 716.3L1193.9 714.1L1195.4 711.8L1196.9 709.4L1198.4 707.1L1199.9 704.6L1201.4 702.2L1202.9 699.7L1204.4 697.2L1205.9 694.7L1207.4 692.2L1208.9 689.6L1210.4 687.1L1211.9 684.6L1213.4 682.2L1214.9 679.8L1216.4 677.4L1217.9 675.0L1219.4 672.7L1220.9 670.4L1222.4 668.2L1223.9 666.2L1225.4 664.2L1226.9 662.3L1228.4 660.6L1229.9 659.0L1231.4 657.5L1232.9 656.0L1234.4 654.7L1235.9 653.5L1237.4 652.4L1238.9 651.4L1240.4 650.4L1241.9 649.6L1243.4 648.7L1244.9 648.0L1246.4 647.2L1247.9 646.5L1249.4 645.9L1250.9 645.4L1252.4 644.9L1253.9 644.5L1255.4 644.3L1256.9 644.1L1258.4 644.1L1259.9 644.3L1261.4 644.6L1262.9 645.0L1264.4 645.5L1265.9 646.2L1267.4 646.9L1268.9 647.8L1270.4 648.9L1271.9 650.2L1273.4 651.8L1274.9 653.6L1276.4 655.6L1277.9 657.7L1279.4 659.8L1280.9 661.9L1282.4 664.0L1283.9 666.1L1285.4 668.1L1286.9 670.1L1288.4 672.1L1289.9 674.1L1291.4 676.0L1292.9 677.8L1294.4 679.5L1295.9 681.2L1297.4 682.6L1298.9 683.9L1300.4 685.1L1301.9 686.1L1303.4 687.1L1304.9 687.9L1306.4 688.7L1307.9 689.4L1309.4 690.0L1310.9 690.7L1312.4 691.2L1313.9 691.8L1315.4 692.3L1316.9 692.7L1318.4 693.2L1319.9 693.6L1321.4 694.0L1322.9 694.3L1324.4 694.7L1325.9 695.0L1327.4 695.3L1328.9 695.6L1330.4 695.9L1331.9 696.1L1333.4 696.3L1334.9 696.4L1336.4 696.5L1337.9 696.5L1339.4 696.5L1340.9 696.4L1342.4 696.3L1343.9 696.2L1345.4 696.0L1346.9 695.8L1348.4 695.6L1349.9 695.4L1351.4 695.1L1352.9 694.8L1354.4 694.4L1355.9 693.9L1357.4 693.4L1358.9 692.7L1360.4 692.0L1361.9 691.1L1363.4 690.1L1364.9 689.1L1366.4 688.0L1367.9 686.9L1369.4 685.8L1370.9 684.7L1372.4 683.6L1373.9 682.6L1375.4 681.7L1376.9 680.8L1378.4 680.0L1379.9 679.1L1381.4 678.4L1382.9 677.6L1384.4 677.0L1385.9 676.4L1387.4 675.8L1388.9 675.3L1390.4 674.9L1391.9 674.5L1393.4 674.2L1394.9 673.9L1396.4 673.5L1397.9 673.2L1399.4 672.9L1400.9 672.6L1402.4 672.3L1403.9 672.1L1405.4 671.8L1406.9 671.5L1408.4 671.3L1409.9 671.0L1411.4 670.7L1412.9 670.3L1414.4 669.8L1415.9 669.2L1417.4 668.3L1418.9 667.2L1420.4 665.6L1421.9 663.6L1423.4 661.2L1424.9 658.2L1426.4 654.8L1427.9 650.9L1429.4 646.4L1430.9 641.5L1432.4 636.2L1433.9 630.8L1435.4 625.3L1436.9 619.9L1438.4 614.6L1439.9 609.4L1441.4 604.2L1442.9 599.2L1444.4 594.1L1445.9 589.1L1447.4 584.2L1448.9 579.3L1450.4 574.5L1451.9 569.8L1453.4 565.3L1454.9 560.8L1456.4 556.5L1457.9 552.3L1459.4 548.2L1460.9 544.3L1462.4 540.6L1463.9 536.9L1465.4 533.4L1466.9 529.9L1468.4 526.5L1469.9 523.2L1471.4 519.8L1472.9 516.5L1474.4 513.2L1475.9 509.9L1477.4 506.5L1478.9 503.0L1480.4 499.5L1481.9 495.8L1483.4 492.0L1484.9 488.0L1486.4 483.9L1487.9 479.8L1489.4 475.7L1490.9 471.6L1492.4 467.6L1493.9 463.8L1495.4 460.2L1496.9 456.7L1498.4 453.5L1499.9 450.7L1501.4 448.4L1502.9 446.8L1504.4 446.1L1505.9 446.5L1507.4 447.9L1508.9 450.2L1510.4 453.1L1511.9 456.6L1513.4 460.4L1514.9 464.5L1516.4 468.9L1517.9 473.4L1519.4 478.1L1520.9 482.7L1522.4 487.3L1523.9 491.8L1525.4 496.1L1526.9 500.2L1528.4 504.1L1529.9 507.9L1531.4 511.7L1532.9 515.3L1534.4 519.0L1535.9 522.6L1537.4 526.3L1538.9 530.1L1540.4 533.9L1541.9 537.9L1543.4 542.1L1544.9 546.5L1546.4 551.1L1547.9 556.0L1549.4 561.1L1550.9 566.5L1552.4 572.0L1553.9 577.8L1555.4 583.6L1556.9 589.6L1558.4 595.5L1559.9 601.5L1561.4 607.4L1562.9 613.2L1564.4 618.9L1565.9 624.6L1567.4 630.2L1568.9 635.8L1570.4 641.2L1571.9 646.6L1573.4 651.7L1574.9 656.7L1576.4 661.4L1577.9 665.8L1579.4 670.0L1580.9 674.0L1582.4 677.7L1583.9 681.1L1585.4 684.3L1586.9 687.2L1588.4 689.9L1589.9 692.5L1591.4 694.9L1592.9 697.2L1594.4 699.5L1595.9 701.8L1597.4 704.0L1598.9 706.2L1600.4 708.3L1601.9 710.4L1603.4 712.5L1604.9 714.6L1606.4 716.6L1607.9 718.6L1609.4 720.6L1610.9 722.6L1612.4 724.6L1613.9 726.5L1615.4 728.5L1616.9 730.4L1618.4 732.3L1619.9 734.3L1621.4 736.2L1622.9 738.2L1624.4 740.2L1625.9 742.2L1627.4 744.2L1628.9 746.2L1630.4 748.2L1631.9 750.2L1633.4 752.1L1634.9 754.1L1636.4 756.0L1637.9 757.9L1639.4 759.7L1640.9 761.5L1642.4 763.3L1643.9 765.1L1645.4 766.9L1646.9 768.6L1648.4 770.2L1649.9 771.9L1651.4 773.5L1652.9 775.1L1654.4 776.6L1655.9 778.1L1657.4 779.4L1658.9 780.7L1660.4 781.9L1661.9 782.9L1663.4 783.6L1664.9 784.1L1666.4 784.3L1667.9 784.3L1669.4 784.0L1670.9 783.6L1672.4 783.1L1673.9 782.6L1675.4 782.0L1676.9 781.4L1678.4 780.7L1679.9 780.0L1681.4 779.2L1682.9 778.3L1684.4 777.3L1685.9 776.2L1687.4 775.0L1688.9 773.7L1690.4 772.2L1691.9 770.7L1693.4 768.9L1694.9 767.0L1696.4 764.9L1697.9 762.6L1699.4 760.0L1700.9 757.0L1702.4 753.7L1703.9 750.0L1705.4 745.6L1706.9 740.5L1708.4 734.7L1709.9 728.2L1711.4 721.0L1712.9 713.2L1714.4 704.9L1715.9 696.3L1717.4 687.5L1718.9 678.8L1720.4 670.2L1721.9 662.1L1723.4 654.3L1724.9 647.0L1726.4 640.0L1727.9 633.3L1729.4 626.8L1730.9 620.5L1732.4 614.3L1733.9 608.1L1735.4 601.9L1736.9 595.6L1738.4 589.3L1739.9 583.0L1741.4 576.8L1742.9 570.8L1744.4 565.0L1745.9 559.6L1747.4 554.7L1748.9 550.4L1750.4 546.5L1751.9 543.1L1753.4 540.0L1754.9 537.2L1756.4 534.7L1757.9 532.4L1759.4 530.2L1760.9 528.0L1762.4 526.0L1763.9 524.0L1765.4 522.0L1766.9 520.0L1768.4 518.1L1769.9 516.4L1771.4 514.7L1772.9 513.3L1774.4 512.2L1775.9 511.4L1777.4 510.9L1778.9 510.9L1780.4 511.4L1781.9 512.5L1783.4 514.2L1784.9 516.6L1786.4 520.0L1787.9 524.5L1789.4 530.3L1790.9 537.1L1792.4 544.6L1793.9 552.3L1795.4 559.9L1796.9 567.3L1798.4 574.5L1799.9 581.6L1801.4 588.8L1802.9 596.0L1804.4 603.3L1805.9 610.8L1807.4 618.5L1808.9 626.3L1810.4 634.2L1811.9 642.2L1813.4 650.3L1814.9 658.3L1816.4 666.3L1817.9 674.1L1819.4 681.9L1820.9 689.5L1822.4 696.9L1823.9 704.1L1825.4 711.1L1826.9 717.9L1828.4 724.6L1829.9 731.2L1831.4 737.7L1832.9 744.1L1834.4 750.4L1835.9 756.6L1837.4 762.7L1838.9 768.8L1840.4 774.7L1841.9 780.6L1843.4 786.3L1844.9 791.9L1846.4 797.4L1847.9 802.7L1849.4 808.0L1850.9 813.1L1852.4 818.1L1853.9 822.9L1855.4 827.6L1856.9 832.2L1858.4 836.6L1859.9 841.0L1861.4 845.3L1862.9 849.4L1864.4 853.5L1865.9 857.4L1867.4 861.3L1868.9 865.1L1870.4 868.8L1871.9 872.5L1873.4 876.0L1874.9 879.5L1876.4 882.9L1877.9 886.2L1879.4 889.4L1880.9 892.6L1882.4 895.7L1883.9 898.8L1885.4 901.8L1886.9 904.7L1888.4 907.6L1889.9 910.4L1891.4 913.1L1892.9 915.7L1894.4 918.2L1895.9 920.7L1897.4 923.0L1898.9 925.3L1900.4 927.5L1901.9 929.6L1903.4 931.7L1904.9 933.7L1906.4 935.6L1907.9 937.5L1909.4 939.3L1910.9 941.1L1912.4 942.9L1913.9 944.6L1915.4 946.3L1916.9 948.0L1918.4 949.6L1919.9 951.2L1921.4 952.7L1922.9 954.3L1924.4 955.8L1925.9 957.3L1927.4 958.7L1928.9 960.2L1930.4 961.6L1931.9 963.0L1933.4 964.3L1934.9 965.6L1936.4 966.9L1937.9 968.2L1939.4 969.5L1940.9 970.7L1942.4 971.9L1943.9 973.0L1945.4 974.2L1946.9 975.3L1948.4 976.4L1949.9 977.5L1951.4 978.6L1952.9 979.6L1954.4 980.7L1955.9 981.7L1957.4 982.7L1958.9 983.6L1960.4 984.6L1961.9 985.5L1963.4 986.3L1964.9 987.2L1966.4 988.0L1967.9 988.8L1969.4 989.6L1970.9 990.3L1972.4 991.0L1973.9 991.7L1975.4 992.4L1976.9 993.1L1978.4 993.7L1979.9 994.4L1981.4 995.0L1982.9 995.5L1984.4 996.1L1985.9 996.7L1987.4 997.2L1988.9 997.7L1990.4 998.2L1991.9 998.7L1993.4 999.2L1994.9 999.6L1996.4 1000.1L1997.9 1000.5L1999.4 1000.9L2000.9 1001.3L2002.4 1001.7L2003.9 1002.1L2005.4 1002.6L2006.9 1003.0L2008.4 1003.3L2009.9 1003.7L2011.4 1004.1L2012.9 1004.5L2014.4 1004.9L2015.9 1005.3L2017.4 1005.7L2018.9 1006.0L2020.4 1006.4L2021.9 1006.7L2023.4 1007.1L2024.9 1007.4L2026.4 1007.7L2027.9 1008.1L2029.4 1008.4L2030.9 1008.7L2032.4 1009.0L2033.9 1009.3L2035.4 1009.5L2036.9 1009.8L2038.4 1010.1L2039.9 1010.3L2041.4 1010.6L2042.9 1010.9L2044.4 1011.1L2045.9 1011.4L2047.4 1011.6L2048.9 1011.9L2050.4 1012.1L2051.9 1012.3L2053.4 1012.6L2054.9 1012.8L2056.4 1013.0L2057.9 1013.3L2059.4 1013.5L2060.9 1013.7L2062.4 1013.9L2063.9 1014.1L2065.4 1014.3"/>
<path class="blk" d="M268.4 1005.8L269.9 1005.7L271.4 1005.6L272.9 1005.5L274.4 1005.4L275.9 1005.2L277.4 1005.1L278.9 1005.0L280.4 1004.9L281.9 1004.7L283.4 1004.6L284.9 1004.5L286.4 1004.4L287.9 1004.2L289.4 1004.1L290.9 1004.0L292.4 1003.9L293.9 1003.7L295.4 1003.6L296.9 1003.5L298.4 1003.4L299.9 1003.2L301.4 1003.1L302.9 1003.0L304.4 1002.9L305.9 1002.7L307.4 1002.6L308.9 1002.5L310.4 1002.4L311.9 1002.2L313.4 1002.1L314.9 1002.0L316.4 1001.9L317.9 1001.7L319.4 1001.6L320.9 1001.5L322.4 1001.4L323.9 1001.2L325.4 1001.1L326.9 1001.0L328.4 1000.8L329.9 1000.7L331.4 1000.6L332.9 1000.5L334.4 1000.3L335.9 1000.2L337.4 1000.1L338.9 999.9L340.4 999.8L341.9 999.7L343.4 999.6L344.9 999.4L346.4 999.3L347.9 999.2L349.4 999.0L350.9 998.9L352.4 998.8L353.9 998.6L355.4 998.5L356.9 998.3L358.4 998.2L359.9 998.1L361.4 997.9L362.9 997.8L364.4 997.7L365.9 997.5L367.4 997.4L368.9 997.2L370.4 997.1L371.9 997.0L373.4 996.8L374.9 996.7L376.4 996.5L377.9 996.4L379.4 996.3L380.9 996.1L382.4 996.0L383.9 995.8L385.4 995.7L386.9 995.5L388.4 995.4L389.9 995.3L391.4 995.1L392.9 995.0L394.4 994.8L395.9 994.7L397.4 994.5L398.9 994.4L400.4 994.2L401.9 994.1L403.4 993.9L404.9 993.8L406.4 993.6L407.9 993.5L409.4 993.3L410.9 993.2L412.4 993.0L413.9 992.9L415.4 992.7L416.9 992.6L418.4 992.4L419.9 992.3L421.4 992.1L422.9 992.0L424.4 991.8L425.9 991.6L427.4 991.5L428.9 991.3L430.4 991.2L431.9 991.0L433.4 990.9L434.9 990.7L436.4 990.5L437.9 990.4L439.4 990.2L440.9 990.1L442.4 989.9L443.9 989.7L445.4 989.6L446.9 989.4L448.4 989.2L449.9 989.1L451.4 988.9L452.9 988.7L454.4 988.6L455.9 988.4L457.4 988.2L458.9 988.0L460.4 987.9L461.9 987.7L463.4 987.5L464.9 987.4L466.4 987.2L467.9 987.0L469.4 986.8L470.9 986.7L472.4 986.5L473.9 986.3L475.4 986.2L476.9 986.0L478.4 985.8L479.9 985.6L481.4 985.5L482.9 985.3L484.4 985.1L485.9 984.9L487.4 984.8L488.9 984.6L490.4 984.4L491.9 984.2L493.4 984.0L494.9 983.9L496.4 983.7L497.9 983.5L499.4 983.3L500.9 983.1L502.4 982.9L503.9 982.7L505.4 982.6L506.9 982.4L508.4 982.2L509.9 982.0L511.4 981.8L512.9 981.6L514.4 981.4L515.9 981.2L517.4 981.0L518.9 980.8L520.4 980.6L521.9 980.4L523.4 980.2L524.9 980.0L526.4 979.8L527.9 979.6L529.4 979.4L530.9 979.2L532.4 979.0L533.9 978.7L535.4 978.5L536.9 978.3L538.4 978.1L539.9 977.9L541.4 977.7L542.9 977.4L544.4 977.2L545.9 977.0L547.4 976.7L548.9 976.5L550.4 976.3L551.9 976.0L553.4 975.8L554.9 975.5L556.4 975.3L557.9 975.1L559.4 974.8L560.9 974.6L562.4 974.3L563.9 974.1L565.4 973.8L566.9 973.5L568.4 973.3L569.9 973.0L571.4 972.8L572.9 972.5L574.4 972.2L575.9 972.0L577.4 971.7L578.9 971.4L580.4 971.2L581.9 970.9L583.4 970.6L584.9 970.4L586.4 970.1L587.9 969.8L589.4 969.5L590.9 969.3L592.4 969.0L593.9 968.7L595.4 968.4L596.9 968.1L598.4 967.9L599.9 967.6L601.4 967.3L602.9 967.0L604.4 966.7L605.9 966.4L607.4 966.1L608.9 965.8L610.4 965.5L611.9 965.2L613.4 964.9L614.9 964.6L616.4 964.3L617.9 964.0L619.4 963.7L620.9 963.3L622.4 963.0L623.9 962.7L625.4 962.4L626.9 962.1L628.4 961.8L629.9 961.4L631.4 961.1L632.9 960.8L634.4 960.5L635.9 960.1L637.4 959.8L638.9 959.5L640.4 959.2L641.9 958.8L643.4 958.5L644.9 958.1L646.4 957.8L647.9 957.5L649.4 957.1L650.9 956.8L652.4 956.4L653.9 956.1L655.4 955.7L656.9 955.4L658.4 955.0L659.9 954.6L661.4 954.3L662.9 953.9L664.4 953.6L665.9 953.2L667.4 952.8L668.9 952.5L670.4 952.1L671.9 951.7L673.4 951.3L674.9 950.9L676.4 950.5L677.9 950.2L679.4 949.8L680.9 949.4L682.4 949.0L683.9 948.6L685.4 948.2L686.9 947.8L688.4 947.4L689.9 946.9L691.4 946.5L692.9 946.1L694.4 945.7L695.9 945.3L697.4 944.9L698.9 944.5L700.4 944.0L701.9 943.6L703.4 943.2L704.9 942.8L706.4 942.4L707.9 942.0L709.4 941.6L710.9 941.2L712.4 940.8L713.9 940.4L715.4 940.0L716.9 939.6L718.4 939.2L719.9 938.8L721.4 938.4L722.9 938.0L724.4 937.6L725.9 937.3L727.4 936.9L728.9 936.5L730.4 936.1L731.9 935.7L733.4 935.3L734.9 934.9L736.4 934.5L737.9 934.1L739.4 933.7L740.9 933.3L742.4 932.9L743.9 932.5L745.4 932.1L746.9 931.7L748.4 931.3L749.9 930.8L751.4 930.4L752.9 930.0L754.4 929.5L755.9 929.1L757.4 928.7L758.9 928.2L760.4 927.8L761.9 927.3L763.4 926.9L764.9 926.4L766.4 926.0L767.9 925.5L769.4 925.0L770.9 924.6L772.4 924.1L773.9 923.7L775.4 923.2L776.9 922.7L778.4 922.3L779.9 921.8L781.4 921.4L782.9 920.9L784.4 920.4L785.9 920.0L787.4 919.5L788.9 919.0L790.4 918.6L791.9 918.1L793.4 917.6L794.9 917.2L796.4 916.7L797.9 916.2L799.4 915.8L800.9 915.3L802.4 914.8L803.9 914.4L805.4 913.9L806.9 913.4L808.4 912.9L809.9 912.4L811.4 911.9L812.9 911.4L814.4 911.0L815.9 910.5L817.4 910.0L818.9 909.5L820.4 909.0L821.9 908.4L823.4 907.9L824.9 907.4L826.4 906.8L827.9 906.2L829.4 905.6L830.9 905.0L832.4 904.3L833.9 903.7L835.4 903.0L836.9 902.3L838.4 901.6L839.9 900.9L841.4 900.2L842.9 899.4L844.4 898.7L845.9 897.9L847.4 897.1L848.9 896.4L850.4 895.6L851.9 894.8L853.4 894.0L854.9 893.2L856.4 892.4L857.9 891.6L859.4 890.8L860.9 890.0L862.4 889.2L863.9 888.4L865.4 887.6L866.9 886.8L868.4 886.0L869.9 885.3L871.4 884.5L872.9 883.7L874.4 882.9L875.9 882.1L877.4 881.3L878.9 880.5L880.4 879.7L881.9 878.9L883.4 878.1L884.9 877.3L886.4 876.5L887.9 875.6L889.4 874.8L890.9 874.0L892.4 873.2L893.9 872.4L895.4 871.5L896.9 870.7L898.4 869.9L899.9 869.0L901.4 868.2L902.9 867.4L904.4 866.5L905.9 865.7L907.4 864.9L908.9 864.0L910.4 863.2L911.9 862.3L913.4 861.5L914.9 860.7L916.4 859.8L917.9 859.0L919.4 858.1L920.9 857.3L922.4 856.4L923.9 855.6L925.4 854.7L926.9 853.9L928.4 853.0L929.9 852.2L931.4 851.3L932.9 850.4L934.4 849.6L935.9 848.7L937.4 847.8L938.9 846.9L940.4 846.0L941.9 845.1L943.4 844.2L944.9 843.3L946.4 842.4L947.9 841.4L949.4 840.5L950.9 839.5L952.4 838.5L953.9 837.5L955.4 836.4L956.9 835.4L958.4 834.3L959.9 833.3L961.4 832.2L962.9 831.1L964.4 830.0L965.9 828.9L967.4 827.9L968.9 826.8L970.4 825.7L971.9 824.7L973.4 823.7L974.9 822.7L976.4 821.7L977.9 820.7L979.4 819.7L980.9 818.8L982.4 817.9L983.9 817.1L985.4 816.2L986.9 815.4L988.4 814.6L989.9 813.9L991.4 813.1L992.9 812.4L994.4 811.6L995.9 810.9L997.4 810.2L998.9 809.5L1000.4 808.9L1001.9 808.2L1003.4 807.7L1004.9 807.1L1006.4 806.6L1007.9 806.1L1009.4 805.7L1010.9 805.3L1012.4 805.0L1013.9 804.6L1015.4 804.3L1016.9 804.1L1018.4 803.8L1019.9 803.5L1021.4 803.3L1022.9 803.1L1024.4 802.9L1025.9 802.6L1027.4 802.5L1028.9 802.3L1030.4 802.1L1031.9 801.9L1033.4 801.8L1034.9 801.6L1036.4 801.5L1037.9 801.4L1039.4 801.2L1040.9 801.1L1042.4 801.0L1043.9 801.0L1045.4 800.9L1046.9 800.8L1048.4 800.7L1049.9 800.7L1051.4 800.6L1052.9 800.5L1054.4 800.4L1055.9 800.3L1057.4 800.2L1058.9 800.1L1060.4 799.9L1061.9 799.7L1063.4 799.4L1064.9 799.2L1066.4 798.8L1067.9 798.5L1069.4 798.0L1070.9 797.5L1072.4 797.0L1073.9 796.3L1075.4 795.6L1076.9 794.8L1078.4 793.9L1079.9 793.0L1081.4 792.0L1082.9 791.0L1084.4 789.9L1085.9 788.7L1087.4 787.6L1088.9 786.3L1090.4 785.1L1091.9 783.9L1093.4 782.7L1094.9 781.5L1096.4 780.3L1097.9 779.1L1099.4 777.9L1100.9 776.8L1102.4 775.6L1103.9 774.4L1105.4 773.2L1106.9 772.1L1108.4 770.9L1109.9 769.7L1111.4 768.6L1112.9 767.4L1114.4 766.3L1115.9 765.1L1117.4 763.9L1118.9 762.7L1120.4 761.6L1121.9 760.4L1123.4 759.2L1124.9 758.0L1126.4 756.7L1127.9 755.5L1129.4 754.3L1130.9 753.0L1132.4 751.8L1133.9 750.6L1135.4 749.4L1136.9 748.2L1138.4 747.1L1139.9 745.9L1141.4 744.8L1142.9 743.6L1144.4 742.5L1145.9 741.4L1147.4 740.3L1148.9 739.2L1150.4 738.1L1151.9 737.0L1153.4 736.0L1154.9 734.9L1156.4 733.9L1157.9 732.9L1159.4 731.9L1160.9 730.9L1162.4 729.9L1163.9 728.8L1165.4 727.8L1166.9 726.7L1168.4 725.7L1169.9 724.6L1171.4 723.4L1172.9 722.3L1174.4 721.1L1175.9 719.8L1177.4 718.5L1178.9 717.0L1180.4 715.5L1181.9 713.8L1183.4 712.0L1184.9 710.1L1186.4 708.1L1187.9 706.0L1189.4 703.9L1190.9 701.6L1192.4 699.3L1193.9 696.8L1195.4 694.3L1196.9 691.8L1198.4 689.2L1199.9 686.5L1201.4 683.8L1202.9 681.1L1204.4 678.4L1205.9 675.6L1207.4 672.9L1208.9 670.1L1210.4 667.3L1211.9 664.6L1213.4 661.9L1214.9 659.3L1216.4 656.7L1217.9 654.1L1219.4 651.5L1220.9 649.1L1222.4 646.7L1223.9 644.4L1225.4 642.2L1226.9 640.2L1228.4 638.3L1229.9 636.5L1231.4 634.8L1232.9 633.3L1234.4 631.8L1235.9 630.5L1237.4 629.3L1238.9 628.2L1240.4 627.2L1241.9 626.2L1243.4 625.3L1244.9 624.4L1246.4 623.6L1247.9 622.9L1249.4 622.2L1250.9 621.6L1252.4 621.1L1253.9 620.7L1255.4 620.4L1256.9 620.3L1258.4 620.3L1259.9 620.4L1261.4 620.7L1262.9 621.2L1264.4 621.8L1265.9 622.5L1267.4 623.3L1268.9 624.3L1270.4 625.5L1271.9 626.9L1273.4 628.6L1274.9 630.6L1276.4 632.8L1277.9 635.1L1279.4 637.4L1280.9 639.7L1282.4 642.0L1283.9 644.3L1285.4 646.5L1286.9 648.7L1288.4 650.9L1289.9 653.0L1291.4 655.1L1292.9 657.1L1294.4 659.0L1295.9 660.8L1297.4 662.4L1298.9 663.8L1300.4 665.1L1301.9 666.2L1303.4 667.3L1304.9 668.2L1306.4 669.0L1307.9 669.8L1309.4 670.5L1310.9 671.2L1312.4 671.8L1313.9 672.4L1315.4 673.0L1316.9 673.5L1318.4 674.0L1319.9 674.4L1321.4 674.8L1322.9 675.2L1324.4 675.6L1325.9 675.9L1327.4 676.3L1328.9 676.6L1330.4 676.9L1331.9 677.1L1333.4 677.3L1334.9 677.5L1336.4 677.6L1337.9 677.6L1339.4 677.6L1340.9 677.5L1342.4 677.4L1343.9 677.3L1345.4 677.1L1346.9 676.9L1348.4 676.6L1349.9 676.3L1351.4 676.0L1352.9 675.7L1354.4 675.3L1355.9 674.8L1357.4 674.2L1358.9 673.5L1360.4 672.6L1361.9 671.7L1363.4 670.6L1364.9 669.5L1366.4 668.3L1367.9 667.1L1369.4 665.8L1370.9 664.7L1372.4 663.5L1373.9 662.4L1375.4 661.4L1376.9 660.4L1378.4 659.5L1379.9 658.6L1381.4 657.7L1382.9 656.9L1384.4 656.2L1385.9 655.5L1387.4 654.9L1388.9 654.4L1390.4 654.0L1391.9 653.5L1393.4 653.2L1394.9 652.8L1396.4 652.5L1397.9 652.1L1399.4 651.8L1400.9 651.5L1402.4 651.1L1403.9 650.8L1405.4 650.5L1406.9 650.3L1408.4 650.0L1409.9 649.6L1411.4 649.3L1412.9 648.9L1414.4 648.4L1415.9 647.7L1417.4 646.8L1418.9 645.5L1420.4 643.8L1421.9 641.6L1423.4 638.9L1424.9 635.7L1426.4 632.0L1427.9 627.7L1429.4 622.8L1430.9 617.4L1432.4 611.6L1433.9 605.6L1435.4 599.6L1436.9 593.7L1438.4 587.9L1439.9 582.2L1441.4 576.6L1442.9 571.0L1444.4 565.5L1445.9 560.0L1447.4 554.6L1448.9 549.3L1450.4 544.0L1451.9 538.9L1453.4 533.9L1454.9 529.0L1456.4 524.3L1457.9 519.7L1459.4 515.3L1460.9 511.0L1462.4 506.9L1463.9 502.9L1465.4 499.0L1466.9 495.2L1468.4 491.5L1469.9 487.8L1471.4 484.2L1472.9 480.6L1474.4 476.9L1475.9 473.3L1477.4 469.6L1478.9 465.8L1480.4 461.9L1481.9 457.8L1483.4 453.7L1484.9 449.3L1486.4 444.9L1487.9 440.3L1489.4 435.8L1490.9 431.3L1492.4 427.0L1493.9 422.8L1495.4 418.8L1496.9 415.1L1498.4 411.6L1499.9 408.5L1501.4 405.9L1502.9 404.2L1504.4 403.5L1505.9 403.9L1507.4 405.4L1508.9 407.9L1510.4 411.2L1511.9 414.9L1513.4 419.1L1514.9 423.6L1516.4 428.4L1517.9 433.3L1519.4 438.4L1520.9 443.5L1522.4 448.6L1523.9 453.5L1525.4 458.2L1526.9 462.7L1528.4 467.0L1529.9 471.1L1531.4 475.2L1532.9 479.2L1534.4 483.2L1535.9 487.2L1537.4 491.2L1538.9 495.4L1540.4 499.6L1541.9 504.0L1543.4 508.5L1544.9 513.3L1546.4 518.4L1547.9 523.7L1549.4 529.3L1550.9 535.2L1552.4 541.3L1553.9 547.6L1555.4 554.0L1556.9 560.5L1558.4 567.0L1559.9 573.6L1561.4 580.0L1562.9 586.4L1564.4 592.7L1565.9 598.9L1567.4 605.0L1568.9 611.1L1570.4 617.1L1571.9 622.9L1573.4 628.6L1574.9 634.0L1576.4 639.1L1577.9 644.0L1579.4 648.6L1580.9 653.0L1582.4 657.0L1583.9 660.8L1585.4 664.2L1586.9 667.4L1588.4 670.4L1589.9 673.2L1591.4 675.8L1592.9 678.4L1594.4 680.9L1595.9 683.4L1597.4 685.8L1598.9 688.2L1600.4 690.5L1601.9 692.8L1603.4 695.1L1604.9 697.4L1606.4 699.6L1607.9 701.8L1609.4 704.0L1610.9 706.2L1612.4 708.3L1613.9 710.5L1615.4 712.6L1616.9 714.7L1618.4 716.8L1619.9 718.9L1621.4 721.1L1622.9 723.2L1624.4 725.4L1625.9 727.6L1627.4 729.8L1628.9 732.0L1630.4 734.2L1631.9 736.4L1633.4 738.5L1634.9 740.6L1636.4 742.7L1637.9 744.8L1639.4 746.8L1640.9 748.8L1642.4 750.8L1643.9 752.7L1645.4 754.6L1646.9 756.5L1648.4 758.3L1649.9 760.1L1651.4 761.9L1652.9 763.6L1654.4 765.3L1655.9 766.9L1657.4 768.4L1658.9 769.8L1660.4 771.1L1661.9 772.2L1663.4 773.0L1664.9 773.5L1666.4 773.7L1667.9 773.7L1669.4 773.4L1670.9 773.0L1672.4 772.4L1673.9 771.9L1675.4 771.2L1676.9 770.6L1678.4 769.8L1679.9 769.0L1681.4 768.2L1682.9 767.2L1684.4 766.1L1685.9 764.9L1687.4 763.6L1688.9 762.1L1690.4 760.5L1691.9 758.8L1693.4 756.9L1694.9 754.8L1696.4 752.5L1697.9 749.9L1699.4 747.1L1700.9 743.9L1702.4 740.3L1703.9 736.1L1705.4 731.3L1706.9 725.8L1708.4 719.4L1709.9 712.3L1711.4 704.4L1712.9 695.8L1714.4 686.8L1715.9 677.4L1717.4 667.8L1718.9 658.2L1720.4 648.8L1721.9 639.9L1723.4 631.4L1724.9 623.4L1726.4 615.7L1727.9 608.4L1729.4 601.3L1730.9 594.4L1732.4 587.6L1733.9 580.8L1735.4 574.0L1736.9 567.1L1738.4 560.2L1739.9 553.4L1741.4 546.5L1742.9 539.9L1744.4 533.6L1745.9 527.7L1747.4 522.4L1748.9 517.6L1750.4 513.3L1751.9 509.6L1753.4 506.3L1754.9 503.2L1756.4 500.5L1757.9 497.9L1759.4 495.5L1760.9 493.2L1762.4 490.9L1763.9 488.7L1765.4 486.5L1766.9 484.4L1768.4 482.3L1769.9 480.4L1771.4 478.6L1772.9 477.0L1774.4 475.8L1775.9 474.9L1777.4 474.4L1778.9 474.4L1780.4 475.0L1781.9 476.1L1783.4 478.0L1784.9 480.6L1786.4 484.3L1787.9 489.3L1789.4 495.6L1790.9 503.1L1792.4 511.3L1793.9 519.7L1795.4 528.0L1796.9 536.1L1798.4 544.1L1799.9 551.9L1801.4 559.7L1802.9 567.5L1804.4 575.6L1805.9 583.8L1807.4 592.2L1808.9 600.8L1810.4 609.4L1811.9 618.2L1813.4 627.0L1814.9 635.8L1816.4 644.5L1817.9 653.1L1819.4 661.6L1820.9 669.9L1822.4 678.0L1823.9 685.9L1825.4 693.6L1826.9 701.1L1828.4 708.4L1829.9 715.6L1831.4 722.7L1832.9 729.7L1834.4 736.6L1835.9 743.4L1837.4 750.1L1838.9 756.7L1840.4 763.2L1841.9 769.6L1843.4 775.9L1844.9 782.0L1846.4 788.1L1847.9 793.9L1849.4 799.7L1850.9 805.3L1852.4 810.7L1853.9 816.0L1855.4 821.1L1856.9 826.2L1858.4 831.0L1859.9 835.8L1861.4 840.5L1862.9 845.0L1864.4 849.5L1865.9 853.8L1867.4 858.1L1868.9 862.2L1870.4 866.3L1871.9 870.2L1873.4 874.1L1874.9 877.9L1876.4 881.6L1877.9 885.2L1879.4 888.8L1880.9 892.3L1882.4 895.7L1883.9 899.0L1885.4 902.3L1886.9 905.5L1888.4 908.6L1889.9 911.6L1891.4 914.6L1892.9 917.4L1894.4 920.2L1895.9 922.8L1897.4 925.4L1898.9 927.9L1900.4 930.2L1901.9 932.5L1903.4 934.7L1904.9 936.9L1906.4 939.0L1907.9 941.1L1909.4 943.1L1910.9 945.1L1912.4 947.0L1913.9 949.0L1915.4 950.8L1916.9 952.7L1918.4 954.5L1919.9 956.3L1921.4 958.0L1922.9 959.8L1924.4 961.5L1925.9 963.2L1927.4 964.8L1928.9 966.5L1930.4 968.1L1931.9 969.7L1933.4 971.3L1934.9 972.8L1936.4 974.3L1937.9 975.8L1939.4 977.3L1940.9 978.7L1942.4 980.1L1943.9 981.5L1945.4 982.9L1946.9 984.2L1948.4 985.6L1949.9 986.9L1951.4 988.2L1952.9 989.5L1954.4 990.7L1955.9 991.9L1957.4 993.1L1958.9 994.3L1960.4 995.5L1961.9 996.6L1963.4 997.7L1964.9 998.7L1966.4 999.8L1967.9 1000.8L1969.4 1001.7L1970.9 1002.7L1972.4 1003.6L1973.9 1004.5L1975.4 1005.4L1976.9 1006.3L1978.4 1007.1L1979.9 1007.9L1981.4 1008.7L1982.9 1009.5L1984.4 1010.2L1985.9 1011.0L1987.4 1011.7L1988.9 1012.4L1990.4 1013.0L1991.9 1013.7L1993.4 1014.3L1994.9 1014.9L1996.4 1015.5L1997.9 1016.1L1999.4 1016.6L2000.9 1017.2L2002.4 1017.8L2003.9 1018.3L2005.4 1018.8L2006.9 1019.4L2008.4 1019.9L2009.9 1020.4L2011.4 1020.9L2012.9 1021.5L2014.4 1022.0L2015.9 1022.5L2017.4 1023.0L2018.9 1023.5L2020.4 1024.0L2021.9 1024.5L2023.4 1025.0L2024.9 1025.4L2026.4 1025.9L2027.9 1026.4L2029.4 1026.8L2030.9 1027.2L2032.4 1027.7L2033.9 1028.1L2035.4 1028.5L2036.9 1028.9L2038.4 1029.3L2039.9 1029.7L2041.4 1030.1L2042.9 1030.5L2044.4 1030.9L2045.9 1031.3L2047.4 1031.7L2048.9 1032.0L2050.4 1032.4L2051.9 1032.8L2053.4 1033.2L2054.9 1033.5L2056.4 1033.9L2057.9 1034.3L2059.4 1034.6L2060.9 1035.0L2062.4 1035.3L2063.9 1035.5L2065.4 1035.7"/>
<path class="blk" d="M268.4 984.4L269.9 984.3L271.4 984.2L272.9 984.2L274.4 984.1L275.9 984.1L277.4 984.0L278.9 984.0L280.4 983.9L281.9 983.9L283.4 983.8L284.9 983.8L286.4 983.7L287.9 983.6L289.4 983.6L290.9 983.5L292.4 983.5L293.9 983.4L295.4 983.4L296.9 983.3L298.4 983.3L299.9 983.2L301.4 983.1L302.9 983.1L304.4 983.0L305.9 983.0L307.4 982.9L308.9 982.9L310.4 982.8L311.9 982.7L313.4 982.7L314.9 982.6L316.4 982.6L317.9 982.5L319.4 982.4L320.9 982.4L322.4 982.3L323.9 982.3L325.4 982.2L326.9 982.1L328.4 982.1L329.9 982.0L331.4 981.9L332.9 981.9L334.4 981.8L335.9 981.8L337.4 981.7L338.9 981.6L340.4 981.6L341.9 981.5L343.4 981.4L344.9 981.4L346.4 981.3L347.9 981.2L349.4 981.1L350.9 981.1L352.4 981.0L353.9 980.9L355.4 980.9L356.9 980.8L358.4 980.7L359.9 980.6L361.4 980.6L362.9 980.5L364.4 980.4L365.9 980.3L367.4 980.3L368.9 980.2L370.4 980.1L371.9 980.0L373.4 980.0L374.9 979.9L376.4 979.8L377.9 979.7L379.4 979.6L380.9 979.5L382.4 979.5L383.9 979.4L385.4 979.3L386.9 979.2L388.4 979.1L389.9 979.0L391.4 979.0L392.9 978.9L394.4 978.8L395.9 978.7L397.4 978.6L398.9 978.5L400.4 978.4L401.9 978.4L403.4 978.3L404.9 978.2L406.4 978.1L407.9 978.0L409.4 977.9L410.9 977.8L412.4 977.7L413.9 977.6L415.4 977.5L416.9 977.4L418.4 977.3L419.9 977.2L421.4 977.1L422.9 977.0L424.4 976.9L425.9 976.9L427.4 976.8L428.9 976.7L430.4 976.6L431.9 976.4L433.4 976.3L434.9 976.2L436.4 976.1L437.9 976.0L439.4 975.9L440.9 975.8L442.4 975.7L443.9 975.6L445.4 975.5L446.9 975.4L448.4 975.3L449.9 975.2L451.4 975.1L452.9 975.0L454.4 974.8L455.9 974.7L457.4 974.6L458.9 974.5L460.4 974.4L461.9 974.3L463.4 974.2L464.9 974.0L466.4 973.9L467.9 973.8L469.4 973.7L470.9 973.6L472.4 973.5L473.9 973.3L475.4 973.2L476.9 973.1L478.4 973.0L479.9 972.9L481.4 972.7L482.9 972.6L484.4 972.5L485.9 972.4L487.4 972.3L488.9 972.1L490.4 972.0L491.9 971.9L493.4 971.8L494.9 971.6L496.4 971.5L497.9 971.4L499.4 971.3L500.9 971.1L502.4 971.0L503.9 970.9L505.4 970.7L506.9 970.6L508.4 970.5L509.9 970.3L511.4 970.2L512.9 970.0L514.4 969.9L515.9 969.8L517.4 969.6L518.9 969.5L520.4 969.3L521.9 969.2L523.4 969.0L524.9 968.9L526.4 968.7L527.9 968.6L529.4 968.4L530.9 968.3L532.4 968.1L533.9 967.9L535.4 967.8L536.9 967.6L538.4 967.5L539.9 967.3L541.4 967.1L542.9 967.0L544.4 966.8L545.9 966.6L547.4 966.4L548.9 966.2L550.4 966.1L551.9 965.9L553.4 965.7L554.9 965.5L556.4 965.3L557.9 965.1L559.4 964.9L560.9 964.7L562.4 964.5L563.9 964.3L565.4 964.1L566.9 963.9L568.4 963.7L569.9 963.5L571.4 963.2L572.9 963.0L574.4 962.8L575.9 962.6L577.4 962.4L578.9 962.1L580.4 961.9L581.9 961.7L583.4 961.5L584.9 961.2L586.4 961.0L587.9 960.8L589.4 960.5L590.9 960.3L592.4 960.1L593.9 959.8L595.4 959.6L596.9 959.3L598.4 959.1L599.9 958.8L601.4 958.6L602.9 958.3L604.4 958.1L605.9 957.8L607.4 957.5L608.9 957.3L610.4 957.0L611.9 956.7L613.4 956.5L614.9 956.2L616.4 955.9L617.9 955.7L619.4 955.4L620.9 955.1L622.4 954.8L623.9 954.6L625.4 954.3L626.9 954.0L628.4 953.7L629.9 953.4L631.4 953.1L632.9 952.9L634.4 952.6L635.9 952.3L637.4 952.0L638.9 951.7L640.4 951.4L641.9 951.1L643.4 950.8L644.9 950.5L646.4 950.2L647.9 949.9L649.4 949.6L650.9 949.3L652.4 949.0L653.9 948.7L655.4 948.3L656.9 948.0L658.4 947.7L659.9 947.4L661.4 947.1L662.9 946.8L664.4 946.4L665.9 946.1L667.4 945.8L668.9 945.5L670.4 945.1L671.9 944.8L673.4 944.5L674.9 944.1L676.4 943.8L677.9 943.4L679.4 943.1L680.9 942.7L682.4 942.4L683.9 942.0L685.4 941.7L686.9 941.3L688.4 941.0L689.9 940.6L691.4 940.3L692.9 939.9L694.4 939.5L695.9 939.2L697.4 938.8L698.9 938.5L700.4 938.1L701.9 937.7L703.4 937.4L704.9 937.0L706.4 936.7L707.9 936.3L709.4 936.0L710.9 935.7L712.4 935.3L713.9 935.0L715.4 934.7L716.9 934.3L718.4 934.0L719.9 933.7L721.4 933.4L722.9 933.0L724.4 932.7L725.9 932.4L727.4 932.1L728.9 931.7L730.4 931.4L731.9 931.1L733.4 930.8L734.9 930.4L736.4 930.1L737.9 929.8L739.4 929.4L740.9 929.1L742.4 928.8L743.9 928.4L745.4 928.1L746.9 927.7L748.4 927.3L749.9 927.0L751.4 926.6L752.9 926.2L754.4 925.9L755.9 925.5L757.4 925.1L758.9 924.7L760.4 924.3L761.9 923.9L763.4 923.5L764.9 923.1L766.4 922.7L767.9 922.3L769.4 921.9L770.9 921.5L772.4 921.1L773.9 920.7L775.4 920.2L776.9 919.8L778.4 919.4L779.9 919.0L781.4 918.6L782.9 918.1L784.4 917.7L785.9 917.3L787.4 916.8L788.9 916.4L790.4 916.0L791.9 915.5L793.4 915.1L794.9 914.6L796.4 914.2L797.9 913.7L799.4 913.3L800.9 912.8L802.4 912.4L803.9 911.9L805.4 911.4L806.9 911.0L808.4 910.5L809.9 910.0L811.4 909.5L812.9 909.0L814.4 908.5L815.9 908.0L817.4 907.5L818.9 907.0L820.4 906.5L821.9 906.0L823.4 905.4L824.9 904.8L826.4 904.3L827.9 903.7L829.4 903.0L830.9 902.4L832.4 901.7L833.9 901.0L835.4 900.3L836.9 899.6L838.4 898.9L839.9 898.1L841.4 897.4L842.9 896.6L844.4 895.8L845.9 895.0L847.4 894.2L848.9 893.4L850.4 892.6L851.9 891.7L853.4 890.9L854.9 890.1L856.4 889.2L857.9 888.4L859.4 887.6L860.9 886.7L862.4 885.9L863.9 885.0L865.4 884.2L866.9 883.4L868.4 882.5L869.9 881.7L871.4 880.9L872.9 880.0L874.4 879.2L875.9 878.3L877.4 877.5L878.9 876.6L880.4 875.8L881.9 874.9L883.4 874.1L884.9 873.2L886.4 872.3L887.9 871.5L889.4 870.6L890.9 869.7L892.4 868.9L893.9 868.0L895.4 867.1L896.9 866.2L898.4 865.3L899.9 864.5L901.4 863.6L902.9 862.7L904.4 861.8L905.9 860.9L907.4 860.0L908.9 859.1L910.4 858.2L911.9 857.4L913.4 856.5L914.9 855.6L916.4 854.7L917.9 853.8L919.4 852.9L920.9 852.0L922.4 851.1L923.9 850.2L925.4 849.3L926.9 848.4L928.4 847.5L929.9 846.6L931.4 845.7L932.9 844.8L934.4 843.9L935.9 843.0L937.4 842.0L938.9 841.1L940.4 840.2L941.9 839.2L943.4 838.3L944.9 837.3L946.4 836.3L947.9 835.3L949.4 834.3L950.9 833.3L952.4 832.3L953.9 831.2L955.4 830.1L956.9 829.0L958.4 827.9L959.9 826.8L961.4 825.7L962.9 824.5L964.4 823.4L965.9 822.3L967.4 821.2L968.9 820.0L970.4 818.9L971.9 817.8L973.4 816.8L974.9 815.7L976.4 814.6L977.9 813.6L979.4 812.6L980.9 811.7L982.4 810.7L983.9 809.8L985.4 808.9L986.9 808.1L988.4 807.2L989.9 806.4L991.4 805.6L992.9 804.8L994.4 804.1L995.9 803.3L997.4 802.6L998.9 801.8L1000.4 801.1L1001.9 800.5L1003.4 799.9L1004.9 799.3L1006.4 798.7L1007.9 798.2L1009.4 797.8L1010.9 797.3L1012.4 797.0L1013.9 796.6L1015.4 796.3L1016.9 796.0L1018.4 795.7L1019.9 795.4L1021.4 795.2L1022.9 794.9L1024.4 794.7L1025.9 794.5L1027.4 794.2L1028.9 794.0L1030.4 793.9L1031.9 793.7L1033.4 793.5L1034.9 793.4L1036.4 793.2L1037.9 793.1L1039.4 793.0L1040.9 792.9L1042.4 792.8L1043.9 792.7L1045.4 792.6L1046.9 792.5L1048.4 792.5L1049.9 792.4L1051.4 792.3L1052.9 792.2L1054.4 792.2L1055.9 792.1L1057.4 791.9L1058.9 791.8L1060.4 791.6L1061.9 791.4L1063.4 791.2L1064.9 790.9L1066.4 790.6L1067.9 790.2L1069.4 789.8L1070.9 789.3L1072.4 788.7L1073.9 788.1L1075.4 787.4L1076.9 786.6L1078.4 785.7L1079.9 784.8L1081.4 783.8L1082.9 782.7L1084.4 781.6L1085.9 780.5L1087.4 779.3L1088.9 778.1L1090.4 776.8L1091.9 775.6L1093.4 774.4L1094.9 773.2L1096.4 772.0L1097.9 770.8L1099.4 769.6L1100.9 768.4L1102.4 767.3L1103.9 766.1L1105.4 764.9L1106.9 763.7L1108.4 762.6L1109.9 761.4L1111.4 760.2L1112.9 759.1L1114.4 757.9L1115.9 756.7L1117.4 755.6L1118.9 754.4L1120.4 753.2L1121.9 752.0L1123.4 750.8L1124.9 749.5L1126.4 748.3L1127.9 747.1L1129.4 745.8L1130.9 744.6L1132.4 743.4L1133.9 742.2L1135.4 741.0L1136.9 739.8L1138.4 738.6L1139.9 737.4L1141.4 736.2L1142.9 735.1L1144.4 734.0L1145.9 732.8L1147.4 731.7L1148.9 730.6L1150.4 729.5L1151.9 728.4L1153.4 727.3L1154.9 726.3L1156.4 725.3L1157.9 724.2L1159.4 723.2L1160.9 722.2L1162.4 721.2L1163.9 720.1L1165.4 719.1L1166.9 718.0L1168.4 716.9L1169.9 715.8L1171.4 714.7L1172.9 713.5L1174.4 712.3L1175.9 711.0L1177.4 709.6L1178.9 708.2L1180.4 706.6L1181.9 704.9L1183.4 703.1L1184.9 701.2L1186.4 699.1L1187.9 697.0L1189.4 694.9L1190.9 692.6L1192.4 690.2L1193.9 687.7L1195.4 685.2L1196.9 682.6L1198.4 680.0L1199.9 677.3L1201.4 674.6L1202.9 671.8L1204.4 669.1L1205.9 666.3L1207.4 663.5L1208.9 660.7L1210.4 657.9L1211.9 655.1L1213.4 652.4L1214.9 649.7L1216.4 647.1L1217.9 644.5L1219.4 641.9L1220.9 639.4L1222.4 636.9L1223.9 634.6L1225.4 632.4L1226.9 630.4L1228.4 628.5L1229.9 626.7L1231.4 625.0L1232.9 623.4L1234.4 621.9L1235.9 620.6L1237.4 619.4L1238.9 618.2L1240.4 617.2L1241.9 616.2L1243.4 615.3L1244.9 614.5L1246.4 613.6L1247.9 612.9L1249.4 612.2L1250.9 611.6L1252.4 611.1L1253.9 610.7L1255.4 610.4L1256.9 610.2L1258.4 610.2L1259.9 610.4L1261.4 610.7L1262.9 611.2L1264.4 611.8L1265.9 612.5L1267.4 613.3L1268.9 614.3L1270.4 615.5L1271.9 617.0L1273.4 618.7L1274.9 620.7L1276.4 622.9L1277.9 625.2L1279.4 627.6L1280.9 629.9L1282.4 632.3L1283.9 634.5L1285.4 636.8L1286.9 639.0L1288.4 641.2L1289.9 643.4L1291.4 645.5L1292.9 647.6L1294.4 649.5L1295.9 651.3L1297.4 652.9L1298.9 654.3L1300.4 655.6L1301.9 656.8L1303.4 657.8L1304.9 658.7L1306.4 659.6L1307.9 660.4L1309.4 661.1L1310.9 661.8L1312.4 662.4L1313.9 663.0L1315.4 663.6L1316.9 664.1L1318.4 664.6L1319.9 665.0L1321.4 665.4L1322.9 665.8L1324.4 666.2L1325.9 666.6L1327.4 666.9L1328.9 667.3L1330.4 667.5L1331.9 667.8L1333.4 668.0L1334.9 668.1L1336.4 668.2L1337.9 668.3L1339.4 668.2L1340.9 668.2L1342.4 668.1L1343.9 667.9L1345.4 667.7L1346.9 667.5L1348.4 667.3L1349.9 667.0L1351.4 666.7L1352.9 666.3L1354.4 665.9L1355.9 665.4L1357.4 664.8L1358.9 664.1L1360.4 663.2L1361.9 662.3L1363.4 661.2L1364.9 660.0L1366.4 658.8L1367.9 657.6L1369.4 656.4L1370.9 655.2L1372.4 654.0L1373.9 652.9L1375.4 651.9L1376.9 650.9L1378.4 649.9L1379.9 649.0L1381.4 648.2L1382.9 647.4L1384.4 646.6L1385.9 645.9L1387.4 645.3L1388.9 644.8L1390.4 644.4L1391.9 644.0L1393.4 643.6L1394.9 643.3L1396.4 643.0L1397.9 642.7L1399.4 642.4L1400.9 642.2L1402.4 641.9L1403.9 641.7L1405.4 641.4L1406.9 641.2L1408.4 641.0L1409.9 640.8L1411.4 640.5L1412.9 640.2L1414.4 639.7L1415.9 639.2L1417.4 638.3L1418.9 637.1L1420.4 635.5L1421.9 633.4L1423.4 630.7L1424.9 627.6L1426.4 623.9L1427.9 619.6L1429.4 614.8L1430.9 609.4L1432.4 603.7L1433.9 597.7L1435.4 591.7L1436.9 585.9L1438.4 580.1L1439.9 574.4L1441.4 568.8L1442.9 563.2L1444.4 557.7L1445.9 552.2L1447.4 546.8L1448.9 541.5L1450.4 536.3L1451.9 531.1L1453.4 526.1L1454.9 521.2L1456.4 516.5L1457.9 511.9L1459.4 507.4L1460.9 503.1L1462.4 498.9L1463.9 494.9L1465.4 491.0L1466.9 487.1L1468.4 483.4L1469.9 479.7L1471.4 476.0L1472.9 472.3L1474.4 468.7L1475.9 465.0L1477.4 461.2L1478.9 457.4L1480.4 453.4L1481.9 449.3L1483.4 445.1L1484.9 440.7L1486.4 436.2L1487.9 431.6L1489.4 427.0L1490.9 422.5L1492.4 418.1L1493.9 413.9L1495.4 409.8L1496.9 406.0L1498.4 402.5L1499.9 399.3L1501.4 396.8L1502.9 395.0L1504.4 394.3L1505.9 394.7L1507.4 396.3L1508.9 398.8L1510.4 402.1L1511.9 405.9L1513.4 410.1L1514.9 414.7L1516.4 419.5L1517.9 424.5L1519.4 429.7L1520.9 434.8L1522.4 439.9L1523.9 444.9L1525.4 449.6L1526.9 454.2L1528.4 458.5L1529.9 462.8L1531.4 466.9L1532.9 470.9L1534.4 475.0L1535.9 479.0L1537.4 483.1L1538.9 487.3L1540.4 491.5L1541.9 496.0L1543.4 500.6L1544.9 505.5L1546.4 510.6L1547.9 516.0L1549.4 521.7L1550.9 527.6L1552.4 533.8L1553.9 540.1L1555.4 546.6L1556.9 553.2L1558.4 559.8L1559.9 566.4L1561.4 572.9L1562.9 579.4L1564.4 585.7L1565.9 592.0L1567.4 598.3L1568.9 604.4L1570.4 610.5L1571.9 616.4L1573.4 622.1L1574.9 627.5L1576.4 632.7L1577.9 637.7L1579.4 642.3L1580.9 646.7L1582.4 650.8L1583.9 654.6L1585.4 658.1L1586.9 661.4L1588.4 664.4L1589.9 667.2L1591.4 669.9L1592.9 672.5L1594.4 675.0L1595.9 677.5L1597.4 679.9L1598.9 682.3L1600.4 684.7L1601.9 687.1L1603.4 689.4L1604.9 691.6L1606.4 693.9L1607.9 696.1L1609.4 698.3L1610.9 700.5L1612.4 702.7L1613.9 704.9L1615.4 707.0L1616.9 709.2L1618.4 711.3L1619.9 713.4L1621.4 715.6L1622.9 717.8L1624.4 720.0L1625.9 722.2L1627.4 724.4L1628.9 726.6L1630.4 728.8L1631.9 731.0L1633.4 733.2L1634.9 735.3L1636.4 737.5L1637.9 739.5L1639.4 741.6L1640.9 743.6L1642.4 745.6L1643.9 747.6L1645.4 749.5L1646.9 751.4L1648.4 753.2L1649.9 755.1L1651.4 756.8L1652.9 758.6L1654.4 760.3L1655.9 761.9L1657.4 763.4L1658.9 764.8L1660.4 766.1L1661.9 767.2L1663.4 768.0L1664.9 768.6L1666.4 768.8L1667.9 768.7L1669.4 768.4L1670.9 767.9L1672.4 767.4L1673.9 766.8L1675.4 766.1L1676.9 765.4L1678.4 764.6L1679.9 763.8L1681.4 762.8L1682.9 761.8L1684.4 760.7L1685.9 759.4L1687.4 758.0L1688.9 756.5L1690.4 754.8L1691.9 753.0L1693.4 751.0L1694.9 748.8L1696.4 746.4L1697.9 743.8L1699.4 740.8L1700.9 737.5L1702.4 733.8L1703.9 729.5L1705.4 724.6L1706.9 718.9L1708.4 712.4L1709.9 705.1L1711.4 697.0L1712.9 688.3L1714.4 679.0L1715.9 669.4L1717.4 659.6L1718.9 649.8L1720.4 640.3L1721.9 631.1L1723.4 622.5L1724.9 614.3L1726.4 606.4L1727.9 599.0L1729.4 591.7L1730.9 584.6L1732.4 577.7L1733.9 570.7L1735.4 563.7L1736.9 556.7L1738.4 549.7L1739.9 542.6L1741.4 535.7L1742.9 528.9L1744.4 522.4L1745.9 516.4L1747.4 510.9L1748.9 506.0L1750.4 501.7L1751.9 497.8L1753.4 494.4L1754.9 491.3L1756.4 488.4L1757.9 485.8L1759.4 483.3L1760.9 480.9L1762.4 478.6L1763.9 476.3L1765.4 474.0L1766.9 471.8L1768.4 469.7L1769.9 467.7L1771.4 465.9L1772.9 464.3L1774.4 463.0L1775.9 462.1L1777.4 461.6L1778.9 461.6L1780.4 462.2L1781.9 463.4L1783.4 465.2L1784.9 467.9L1786.4 471.7L1787.9 476.7L1789.4 483.1L1790.9 490.7L1792.4 499.0L1793.9 507.6L1795.4 516.0L1796.9 524.3L1798.4 532.3L1799.9 540.2L1801.4 548.2L1802.9 556.2L1804.4 564.4L1805.9 572.7L1807.4 581.3L1808.9 590.0L1810.4 598.8L1811.9 607.7L1813.4 616.7L1814.9 625.6L1816.4 634.5L1817.9 643.3L1819.4 651.9L1820.9 660.4L1822.4 668.7L1823.9 676.7L1825.4 684.5L1826.9 692.2L1828.4 699.7L1829.9 707.0L1831.4 714.2L1832.9 721.4L1834.4 728.4L1835.9 735.4L1837.4 742.3L1838.9 749.0L1840.4 755.7L1841.9 762.2L1843.4 768.6L1844.9 774.9L1846.4 781.0L1847.9 787.0L1849.4 792.9L1850.9 798.6L1852.4 804.2L1853.9 809.6L1855.4 814.9L1856.9 820.0L1858.4 825.0L1859.9 829.9L1861.4 834.7L1862.9 839.4L1864.4 843.9L1865.9 848.4L1867.4 852.7L1868.9 857.0L1870.4 861.1L1871.9 865.2L1873.4 869.2L1874.9 873.1L1876.4 876.8L1877.9 880.6L1879.4 884.2L1880.9 887.7L1882.4 891.2L1883.9 894.6L1885.4 898.0L1886.9 901.3L1888.4 904.4L1889.9 907.5L1891.4 910.5L1892.9 913.4L1894.4 916.3L1895.9 919.0L1897.4 921.6L1898.9 924.1L1900.4 926.5L1901.9 928.8L1903.4 931.0L1904.9 933.2L1906.4 935.4L1907.9 937.4L1909.4 939.5L1910.9 941.4L1912.4 943.3L1913.9 945.2L1915.4 947.1L1916.9 948.9L1918.4 950.6L1919.9 952.4L1921.4 954.1L1922.9 955.7L1924.4 957.4L1925.9 959.0L1927.4 960.6L1928.9 962.1L1930.4 963.7L1931.9 965.1L1933.4 966.6L1934.9 968.0L1936.4 969.4L1937.9 970.8L1939.4 972.2L1940.9 973.5L1942.4 974.8L1943.9 976.0L1945.4 977.2L1946.9 978.4L1948.4 979.6L1949.9 980.8L1951.4 981.9L1952.9 983.1L1954.4 984.2L1955.9 985.2L1957.4 986.3L1958.9 987.3L1960.4 988.3L1961.9 989.3L1963.4 990.2L1964.9 991.1L1966.4 991.9L1967.9 992.7L1969.4 993.5L1970.9 994.3L1972.4 995.1L1973.9 995.8L1975.4 996.5L1976.9 997.2L1978.4 997.9L1979.9 998.5L1981.4 999.2L1982.9 999.8L1984.4 1000.3L1985.9 1000.9L1987.4 1001.4L1988.9 1002.0L1990.4 1002.5L1991.9 1002.9L1993.4 1003.4L1994.9 1003.9L1996.4 1004.3L1997.9 1004.7L1999.4 1005.1L2000.9 1005.6L2002.4 1006.0L2003.9 1006.4L2005.4 1006.8L2006.9 1007.1L2008.4 1007.5L2009.9 1007.9L2011.4 1008.3L2012.9 1008.7L2014.4 1009.0L2015.9 1009.4L2017.4 1009.8L2018.9 1010.1L2020.4 1010.5L2021.9 1010.8L2023.4 1011.1L2024.9 1011.5L2026.4 1011.8L2027.9 1012.1L2029.4 1012.4L2030.9 1012.7L2032.4 1012.9L2033.9 1013.2L2035.4 1013.5L2036.9 1013.7L2038.4 1014.0L2039.9 1014.2L2041.4 1014.4L2042.9 1014.7L2044.4 1014.9L2045.9 1015.1L2047.4 1015.4L2048.9 1015.6L2050.4 1015.8L2051.9 1016.0L2053.4 1016.2L2054.9 1016.4L2056.4 1016.6L2057.9 1016.8L2059.4 1017.0L2060.9 1017.2L2062.4 1017.4L2063.9 1017.6L2065.4 1017.8"/>
<path class="blk" d="M268.4 978.3L269.9 978.2L271.4 978.2L272.9 978.2L274.4 978.2L275.9 978.2L277.4 978.2L278.9 978.2L280.4 978.2L281.9 978.2L283.4 978.2L284.9 978.2L286.4 978.2L287.9 978.2L289.4 978.2L290.9 978.2L292.4 978.2L293.9 978.2L295.4 978.2L296.9 978.2L298.4 978.2L299.9 978.1L301.4 978.1L302.9 978.1L304.4 978.1L305.9 978.1L307.4 978.1L308.9 978.1L310.4 978.1L311.9 978.0L313.4 978.0L314.9 978.0L316.4 978.0L317.9 978.0L319.4 978.0L320.9 977.9L322.4 977.9L323.9 977.9L325.4 977.9L326.9 977.9L328.4 977.8L329.9 977.8L331.4 977.8L332.9 977.8L334.4 977.7L335.9 977.7L337.4 977.7L338.9 977.7L340.4 977.6L341.9 977.6L343.4 977.6L344.9 977.5L346.4 977.5L347.9 977.5L349.4 977.4L350.9 977.4L352.4 977.3L353.9 977.3L355.4 977.3L356.9 977.2L358.4 977.2L359.9 977.1L361.4 977.1L362.9 977.0L364.4 977.0L365.9 976.9L367.4 976.9L368.9 976.8L370.4 976.8L371.9 976.7L373.4 976.7L374.9 976.6L376.4 976.6L377.9 976.5L379.4 976.4L380.9 976.4L382.4 976.3L383.9 976.3L385.4 976.2L386.9 976.1L388.4 976.1L389.9 976.0L391.4 975.9L392.9 975.9L394.4 975.8L395.9 975.7L397.4 975.6L398.9 975.6L400.4 975.5L401.9 975.4L403.4 975.3L404.9 975.3L406.4 975.2L407.9 975.1L409.4 975.0L410.9 974.9L412.4 974.9L413.9 974.8L415.4 974.7L416.9 974.6L418.4 974.5L419.9 974.4L421.4 974.3L422.9 974.2L424.4 974.2L425.9 974.1L427.4 974.0L428.9 973.9L430.4 973.8L431.9 973.7L433.4 973.6L434.9 973.5L436.4 973.4L437.9 973.2L439.4 973.1L440.9 973.0L442.4 972.9L443.9 972.8L445.4 972.7L446.9 972.6L448.4 972.5L449.9 972.4L451.4 972.2L452.9 972.1L454.4 972.0L455.9 971.9L457.4 971.8L458.9 971.6L460.4 971.5L461.9 971.4L463.4 971.2L464.9 971.1L466.4 971.0L467.9 970.9L469.4 970.7L470.9 970.6L472.4 970.5L473.9 970.3L475.4 970.2L476.9 970.1L478.4 969.9L479.9 969.8L481.4 969.6L482.9 969.5L484.4 969.4L485.9 969.2L487.4 969.1L488.9 968.9L490.4 968.8L491.9 968.6L493.4 968.5L494.9 968.3L496.4 968.2L497.9 968.0L499.4 967.8L500.9 967.7L502.4 967.5L503.9 967.4L505.4 967.2L506.9 967.0L508.4 966.8L509.9 966.7L511.4 966.5L512.9 966.3L514.4 966.1L515.9 966.0L517.4 965.8L518.9 965.6L520.4 965.4L521.9 965.2L523.4 965.0L524.9 964.8L526.4 964.6L527.9 964.4L529.4 964.3L530.9 964.0L532.4 963.8L533.9 963.6L535.4 963.4L536.9 963.2L538.4 963.0L539.9 962.8L541.4 962.6L542.9 962.3L544.4 962.1L545.9 961.9L547.4 961.7L548.9 961.4L550.4 961.2L551.9 960.9L553.4 960.7L554.9 960.4L556.4 960.2L557.9 959.9L559.4 959.7L560.9 959.4L562.4 959.1L563.9 958.9L565.4 958.6L566.9 958.3L568.4 958.0L569.9 957.8L571.4 957.5L572.9 957.2L574.4 956.9L575.9 956.6L577.4 956.3L578.9 956.0L580.4 955.7L581.9 955.4L583.4 955.1L584.9 954.8L586.4 954.5L587.9 954.2L589.4 953.9L590.9 953.6L592.4 953.3L593.9 953.0L595.4 952.7L596.9 952.3L598.4 952.0L599.9 951.7L601.4 951.4L602.9 951.0L604.4 950.7L605.9 950.4L607.4 950.0L608.9 949.7L610.4 949.3L611.9 949.0L613.4 948.7L614.9 948.3L616.4 948.0L617.9 947.6L619.4 947.3L620.9 946.9L622.4 946.6L623.9 946.2L625.4 945.8L626.9 945.5L628.4 945.1L629.9 944.8L631.4 944.4L632.9 944.0L634.4 943.7L635.9 943.3L637.4 943.0L638.9 942.6L640.4 942.2L641.9 941.8L643.4 941.5L644.9 941.1L646.4 940.7L647.9 940.3L649.4 940.0L650.9 939.6L652.4 939.2L653.9 938.8L655.4 938.4L656.9 938.0L658.4 937.6L659.9 937.3L661.4 936.9L662.9 936.5L664.4 936.1L665.9 935.7L667.4 935.3L668.9 934.9L670.4 934.5L671.9 934.1L673.4 933.7L674.9 933.3L676.4 932.9L677.9 932.5L679.4 932.1L680.9 931.7L682.4 931.3L683.9 930.8L685.4 930.4L686.9 930.0L688.4 929.6L689.9 929.2L691.4 928.8L692.9 928.4L694.4 928.0L695.9 927.6L697.4 927.2L698.9 926.8L700.4 926.4L701.9 926.0L703.4 925.7L704.9 925.3L706.4 924.9L707.9 924.6L709.4 924.2L710.9 923.9L712.4 923.5L713.9 923.2L715.4 922.9L716.9 922.5L718.4 922.2L719.9 921.9L721.4 921.6L722.9 921.3L724.4 921.0L725.9 920.7L727.4 920.3L728.9 920.0L730.4 919.7L731.9 919.4L733.4 919.1L734.9 918.8L736.4 918.5L737.9 918.2L739.4 917.9L740.9 917.6L742.4 917.3L743.9 916.9L745.4 916.6L746.9 916.3L748.4 916.0L749.9 915.6L751.4 915.3L752.9 914.9L754.4 914.6L755.9 914.2L757.4 913.9L758.9 913.5L760.4 913.2L761.9 912.8L763.4 912.4L764.9 912.1L766.4 911.7L767.9 911.3L769.4 910.9L770.9 910.5L772.4 910.2L773.9 909.8L775.4 909.4L776.9 909.0L778.4 908.6L779.9 908.2L781.4 907.8L782.9 907.3L784.4 906.9L785.9 906.5L787.4 906.1L788.9 905.7L790.4 905.2L791.9 904.8L793.4 904.4L794.9 903.9L796.4 903.5L797.9 903.1L799.4 902.6L800.9 902.1L802.4 901.7L803.9 901.2L805.4 900.7L806.9 900.2L808.4 899.7L809.9 899.2L811.4 898.7L812.9 898.2L814.4 897.6L815.9 897.1L817.4 896.5L818.9 895.9L820.4 895.3L821.9 894.6L823.4 893.9L824.9 893.3L826.4 892.5L827.9 891.8L829.4 891.0L830.9 890.2L832.4 889.3L833.9 888.5L835.4 887.6L836.9 886.6L838.4 885.7L839.9 884.7L841.4 883.7L842.9 882.7L844.4 881.7L845.9 880.6L847.4 879.6L848.9 878.5L850.4 877.4L851.9 876.3L853.4 875.2L854.9 874.1L856.4 873.0L857.9 871.9L859.4 870.7L860.9 869.6L862.4 868.5L863.9 867.3L865.4 866.2L866.9 865.1L868.4 864.0L869.9 862.8L871.4 861.7L872.9 860.5L874.4 859.4L875.9 858.2L877.4 857.1L878.9 855.9L880.4 854.8L881.9 853.6L883.4 852.5L884.9 851.3L886.4 850.2L887.9 849.0L889.4 847.8L890.9 846.7L892.4 845.5L893.9 844.4L895.4 843.2L896.9 842.1L898.4 840.9L899.9 839.8L901.4 838.6L902.9 837.5L904.4 836.3L905.9 835.2L907.4 834.1L908.9 833.0L910.4 831.9L911.9 830.8L913.4 829.7L914.9 828.6L916.4 827.5L917.9 826.4L919.4 825.3L920.9 824.3L922.4 823.2L923.9 822.2L925.4 821.1L926.9 820.1L928.4 819.1L929.9 818.1L931.4 817.1L932.9 816.1L934.4 815.1L935.9 814.1L937.4 813.1L938.9 812.1L940.4 811.1L941.9 810.1L943.4 809.1L944.9 808.0L946.4 807.0L947.9 806.0L949.4 804.9L950.9 803.8L952.4 802.7L953.9 801.6L955.4 800.4L956.9 799.3L958.4 798.1L959.9 797.0L961.4 795.8L962.9 794.6L964.4 793.4L965.9 792.2L967.4 791.0L968.9 789.9L970.4 788.7L971.9 787.6L973.4 786.5L974.9 785.4L976.4 784.3L977.9 783.2L979.4 782.2L980.9 781.2L982.4 780.2L983.9 779.3L985.4 778.4L986.9 777.5L988.4 776.7L989.9 775.8L991.4 775.0L992.9 774.2L994.4 773.4L995.9 772.7L997.4 771.9L998.9 771.2L1000.4 770.5L1001.9 769.9L1003.4 769.4L1004.9 768.9L1006.4 768.5L1007.9 768.1L1009.4 767.8L1010.9 767.6L1012.4 767.4L1013.9 767.2L1015.4 767.1L1016.9 767.0L1018.4 767.0L1019.9 766.9L1021.4 766.9L1022.9 766.9L1024.4 766.9L1025.9 766.8L1027.4 766.8L1028.9 766.8L1030.4 766.8L1031.9 766.8L1033.4 766.7L1034.9 766.7L1036.4 766.6L1037.9 766.6L1039.4 766.5L1040.9 766.4L1042.4 766.3L1043.9 766.1L1045.4 766.0L1046.9 765.9L1048.4 765.7L1049.9 765.6L1051.4 765.4L1052.9 765.2L1054.4 764.9L1055.9 764.7L1057.4 764.4L1058.9 764.1L1060.4 763.7L1061.9 763.3L1063.4 762.9L1064.9 762.4L1066.4 761.8L1067.9 761.2L1069.4 760.5L1070.9 759.8L1072.4 758.9L1073.9 758.0L1075.4 757.0L1076.9 755.8L1078.4 754.7L1079.9 753.4L1081.4 752.1L1082.9 750.7L1084.4 749.3L1085.9 747.8L1087.4 746.3L1088.9 744.7L1090.4 743.2L1091.9 741.6L1093.4 740.0L1094.9 738.5L1096.4 737.0L1097.9 735.4L1099.4 733.9L1100.9 732.4L1102.4 731.0L1103.9 729.5L1105.4 728.0L1106.9 726.5L1108.4 725.1L1109.9 723.6L1111.4 722.1L1112.9 720.7L1114.4 719.2L1115.9 717.7L1117.4 716.2L1118.9 714.7L1120.4 713.2L1121.9 711.7L1123.4 710.2L1124.9 708.7L1126.4 707.2L1127.9 705.7L1129.4 704.1L1130.9 702.6L1132.4 701.1L1133.9 699.7L1135.4 698.2L1136.9 696.8L1138.4 695.4L1139.9 694.0L1141.4 692.6L1142.9 691.3L1144.4 690.0L1145.9 688.7L1147.4 687.4L1148.9 686.1L1150.4 684.9L1151.9 683.7L1153.4 682.5L1154.9 681.4L1156.4 680.2L1157.9 679.1L1159.4 678.0L1160.9 676.9L1162.4 675.7L1163.9 674.6L1165.4 673.4L1166.9 672.2L1168.4 671.0L1169.9 669.8L1171.4 668.6L1172.9 667.3L1174.4 666.0L1175.9 664.6L1177.4 663.1L1178.9 661.5L1180.4 659.8L1181.9 658.0L1183.4 656.0L1184.9 654.0L1186.4 651.8L1187.9 649.6L1189.4 647.2L1190.9 644.8L1192.4 642.3L1193.9 639.7L1195.4 637.0L1196.9 634.2L1198.4 631.4L1199.9 628.5L1201.4 625.7L1202.9 622.7L1204.4 619.8L1205.9 616.8L1207.4 613.9L1208.9 610.9L1210.4 608.0L1211.9 605.0L1213.4 602.2L1214.9 599.3L1216.4 596.5L1217.9 593.7L1219.4 591.0L1220.9 588.4L1222.4 585.8L1223.9 583.3L1225.4 581.0L1226.9 578.9L1228.4 576.8L1229.9 574.9L1231.4 573.1L1232.9 571.4L1234.4 569.9L1235.9 568.5L1237.4 567.1L1238.9 565.9L1240.4 564.8L1241.9 563.8L1243.4 562.9L1244.9 561.9L1246.4 561.1L1247.9 560.2L1249.4 559.5L1250.9 558.9L1252.4 558.3L1253.9 557.9L1255.4 557.6L1256.9 557.4L1258.4 557.4L1259.9 557.6L1261.4 557.9L1262.9 558.4L1264.4 559.0L1265.9 559.7L1267.4 560.6L1268.9 561.7L1270.4 563.0L1271.9 564.5L1273.4 566.3L1274.9 568.4L1276.4 570.7L1277.9 573.2L1279.4 575.7L1280.9 578.2L1282.4 580.6L1283.9 583.1L1285.4 585.4L1286.9 587.8L1288.4 590.2L1289.9 592.5L1291.4 594.7L1292.9 596.9L1294.4 599.0L1295.9 600.9L1297.4 602.6L1298.9 604.2L1300.4 605.6L1301.9 606.9L1303.4 608.0L1304.9 609.0L1306.4 610.0L1307.9 610.8L1309.4 611.7L1310.9 612.4L1312.4 613.2L1313.9 613.8L1315.4 614.5L1316.9 615.1L1318.4 615.6L1319.9 616.1L1321.4 616.6L1322.9 617.1L1324.4 617.5L1325.9 618.0L1327.4 618.4L1328.9 618.7L1330.4 619.1L1331.9 619.4L1333.4 619.6L1334.9 619.8L1336.4 619.9L1337.9 620.0L1339.4 620.0L1340.9 620.0L1342.4 619.9L1343.9 619.7L1345.4 619.5L1346.9 619.3L1348.4 619.1L1349.9 618.8L1351.4 618.5L1352.9 618.1L1354.4 617.7L1355.9 617.2L1357.4 616.6L1358.9 615.8L1360.4 615.0L1361.9 614.0L1363.4 612.8L1364.9 611.6L1366.4 610.4L1367.9 609.1L1369.4 607.8L1370.9 606.6L1372.4 605.4L1373.9 604.3L1375.4 603.2L1376.9 602.1L1378.4 601.2L1379.9 600.2L1381.4 599.3L1382.9 598.5L1384.4 597.7L1385.9 597.0L1387.4 596.4L1388.9 595.9L1390.4 595.4L1391.9 595.0L1393.4 594.6L1394.9 594.2L1396.4 593.8L1397.9 593.5L1399.4 593.2L1400.9 592.8L1402.4 592.5L1403.9 592.2L1405.4 591.9L1406.9 591.6L1408.4 591.3L1409.9 590.9L1411.4 590.6L1412.9 590.2L1414.4 589.6L1415.9 588.9L1417.4 587.9L1418.9 586.6L1420.4 584.8L1421.9 582.5L1423.4 579.6L1424.9 576.3L1426.4 572.3L1427.9 567.7L1429.4 562.6L1430.9 556.9L1432.4 550.7L1433.9 544.4L1435.4 538.1L1436.9 531.8L1438.4 525.7L1439.9 519.7L1441.4 513.7L1442.9 507.8L1444.4 502.0L1445.9 496.2L1447.4 490.5L1448.9 484.8L1450.4 479.3L1451.9 473.9L1453.4 468.6L1454.9 463.4L1456.4 458.4L1457.9 453.5L1459.4 448.8L1460.9 444.3L1462.4 439.9L1463.9 435.7L1465.4 431.6L1466.9 427.6L1468.4 423.7L1469.9 419.8L1471.4 416.0L1472.9 412.1L1474.4 408.3L1475.9 404.4L1477.4 400.5L1478.9 396.5L1480.4 392.3L1481.9 388.1L1483.4 383.7L1484.9 379.1L1486.4 374.4L1487.9 369.6L1489.4 364.7L1490.9 360.0L1492.4 355.4L1493.9 351.0L1495.4 346.8L1496.9 342.8L1498.4 339.1L1499.9 335.8L1501.4 333.1L1502.9 331.3L1504.4 330.5L1505.9 331.0L1507.4 332.6L1508.9 335.2L1510.4 338.7L1511.9 342.7L1513.4 347.1L1514.9 351.8L1516.4 356.9L1517.9 362.1L1519.4 367.5L1520.9 373.0L1522.4 378.3L1523.9 383.5L1525.4 388.4L1526.9 393.2L1528.4 397.8L1529.9 402.2L1531.4 406.5L1532.9 410.7L1534.4 415.0L1535.9 419.2L1537.4 423.5L1538.9 427.8L1540.4 432.3L1541.9 436.9L1543.4 441.8L1544.9 446.9L1546.4 452.2L1547.9 457.9L1549.4 463.8L1550.9 470.0L1552.4 476.5L1553.9 483.1L1555.4 489.9L1556.9 496.8L1558.4 503.7L1559.9 510.6L1561.4 517.5L1562.9 524.2L1564.4 530.9L1565.9 537.5L1567.4 544.0L1568.9 550.4L1570.4 556.7L1571.9 562.9L1573.4 568.9L1574.9 574.6L1576.4 580.1L1577.9 585.2L1579.4 590.1L1580.9 594.7L1582.4 599.0L1583.9 603.0L1585.4 606.6L1586.9 610.0L1588.4 613.2L1589.9 616.2L1591.4 619.0L1592.9 621.8L1594.4 624.4L1595.9 627.1L1597.4 629.7L1598.9 632.3L1600.4 634.8L1601.9 637.3L1603.4 639.8L1604.9 642.2L1606.4 644.6L1607.9 647.0L1609.4 649.4L1610.9 651.8L1612.4 654.1L1613.9 656.5L1615.4 658.8L1616.9 661.1L1618.4 663.4L1619.9 665.7L1621.4 668.1L1622.9 670.4L1624.4 672.8L1625.9 675.2L1627.4 677.6L1628.9 680.0L1630.4 682.4L1631.9 684.8L1633.4 687.2L1634.9 689.5L1636.4 691.8L1637.9 694.0L1639.4 696.3L1640.9 698.4L1642.4 700.6L1643.9 702.7L1645.4 704.8L1646.9 706.8L1648.4 708.8L1649.9 710.8L1651.4 712.7L1652.9 714.6L1654.4 716.4L1655.9 718.1L1657.4 719.7L1658.9 721.2L1660.4 722.6L1661.9 723.7L1663.4 724.6L1664.9 725.2L1666.4 725.4L1667.9 725.3L1669.4 725.0L1670.9 724.5L1672.4 724.0L1673.9 723.3L1675.4 722.6L1676.9 721.9L1678.4 721.0L1679.9 720.1L1681.4 719.2L1682.9 718.1L1684.4 716.9L1685.9 715.5L1687.4 714.1L1688.9 712.4L1690.4 710.7L1691.9 708.8L1693.4 706.7L1694.9 704.4L1696.4 701.9L1697.9 699.1L1699.4 696.0L1700.9 692.5L1702.4 688.6L1703.9 684.2L1705.4 679.0L1706.9 673.1L1708.4 666.3L1709.9 658.6L1711.4 650.2L1712.9 641.1L1714.4 631.4L1715.9 621.4L1717.4 611.1L1718.9 600.9L1720.4 590.9L1721.9 581.4L1723.4 572.3L1724.9 563.8L1726.4 555.6L1727.9 547.8L1729.4 540.3L1730.9 532.9L1732.4 525.6L1733.9 518.4L1735.4 511.2L1736.9 503.9L1738.4 496.6L1739.9 489.3L1741.4 482.0L1742.9 475.0L1744.4 468.3L1745.9 462.1L1747.4 456.4L1748.9 451.4L1750.4 446.9L1751.9 442.9L1753.4 439.4L1754.9 436.2L1756.4 433.2L1757.9 430.5L1759.4 428.0L1760.9 425.5L1762.4 423.1L1763.9 420.8L1765.4 418.5L1766.9 416.2L1768.4 414.0L1769.9 411.9L1771.4 410.1L1772.9 408.4L1774.4 407.1L1775.9 406.1L1777.4 405.6L1778.9 405.6L1780.4 406.2L1781.9 407.5L1783.4 409.4L1784.9 412.2L1786.4 416.2L1787.9 421.4L1789.4 428.1L1790.9 436.0L1792.4 444.7L1793.9 453.6L1795.4 462.5L1796.9 471.0L1798.4 479.4L1799.9 487.7L1801.4 496.0L1802.9 504.3L1804.4 512.9L1805.9 521.6L1807.4 530.5L1808.9 539.6L1810.4 548.8L1811.9 558.0L1813.4 567.4L1814.9 576.7L1816.4 586.0L1817.9 595.1L1819.4 604.1L1820.9 613.0L1822.4 621.6L1823.9 629.9L1825.4 638.1L1826.9 646.0L1828.4 653.8L1829.9 661.5L1831.4 669.0L1832.9 676.4L1834.4 683.8L1835.9 691.0L1837.4 698.2L1838.9 705.2L1840.4 712.1L1841.9 718.9L1843.4 725.6L1844.9 732.1L1846.4 738.5L1847.9 744.8L1849.4 750.9L1850.9 756.9L1852.4 762.7L1853.9 768.3L1855.4 773.8L1856.9 779.2L1858.4 784.4L1859.9 789.5L1861.4 794.4L1862.9 799.3L1864.4 804.1L1865.9 808.7L1867.4 813.3L1868.9 817.7L1870.4 822.1L1871.9 826.3L1873.4 830.5L1874.9 834.5L1876.4 838.5L1877.9 842.4L1879.4 846.2L1880.9 849.9L1882.4 853.6L1883.9 857.2L1885.4 860.7L1886.9 864.2L1888.4 867.5L1889.9 870.8L1891.4 874.0L1892.9 877.1L1894.4 880.0L1895.9 882.9L1897.4 885.7L1898.9 888.3L1900.4 890.9L1901.9 893.4L1903.4 895.8L1904.9 898.2L1906.4 900.5L1907.9 902.7L1909.4 904.9L1910.9 907.0L1912.4 909.1L1913.9 911.2L1915.4 913.2L1916.9 915.1L1918.4 917.0L1919.9 918.9L1921.4 920.8L1922.9 922.6L1924.4 924.4L1925.9 926.2L1927.4 927.9L1928.9 929.6L1930.4 931.3L1931.9 932.9L1933.4 934.5L1934.9 936.1L1936.4 937.7L1937.9 939.2L1939.4 940.7L1940.9 942.1L1942.4 943.6L1943.9 945.0L1945.4 946.3L1946.9 947.7L1948.4 949.0L1949.9 950.3L1951.4 951.6L1952.9 952.9L1954.4 954.1L1955.9 955.3L1957.4 956.5L1958.9 957.7L1960.4 958.8L1961.9 959.9L1963.4 961.0L1964.9 962.0L1966.4 963.0L1967.9 964.0L1969.4 964.9L1970.9 965.8L1972.4 966.7L1973.9 967.6L1975.4 968.4L1976.9 969.2L1978.4 970.0L1979.9 970.8L1981.4 971.6L1982.9 972.3L1984.4 973.0L1985.9 973.7L1987.4 974.4L1988.9 975.0L1990.4 975.7L1991.9 976.3L1993.4 976.9L1994.9 977.5L1996.4 978.0L1997.9 978.6L1999.4 979.1L2000.9 979.7L2002.4 980.2L2003.9 980.8L2005.4 981.3L2006.9 981.8L2008.4 982.3L2009.9 982.9L2011.4 983.4L2012.9 983.9L2014.4 984.4L2015.9 984.9L2017.4 985.4L2018.9 985.9L2020.4 986.4L2021.9 986.9L2023.4 987.3L2024.9 987.8L2026.4 988.2L2027.9 988.7L2029.4 989.1L2030.9 989.5L2032.4 989.9L2033.9 990.3L2035.4 990.7L2036.9 991.1L2038.4 991.5L2039.9 991.9L2041.4 992.3L2042.9 992.7L2044.4 993.0L2045.9 993.4L2047.4 993.8L2048.9 994.1L2050.4 994.5L2051.9 994.9L2053.4 995.2L2054.9 995.6L2056.4 995.9L2057.9 996.3L2059.4 996.6L2060.9 997.0L2062.4 997.3L2063.9 997.5L2065.4 997.7"/>
<path class="blk" d="M268.4 959.0L269.9 958.8L271.4 958.8L272.9 958.7L274.4 958.6L275.9 958.5L277.4 958.4L278.9 958.3L280.4 958.2L281.9 958.1L283.4 958.0L284.9 957.9L286.4 957.8L287.9 957.7L289.4 957.6L290.9 957.5L292.4 957.4L293.9 957.3L295.4 957.2L296.9 957.1L298.4 957.0L299.9 956.9L301.4 956.8L302.9 956.7L304.4 956.6L305.9 956.5L307.4 956.4L308.9 956.3L310.4 956.2L311.9 956.1L313.4 956.0L314.9 956.0L316.4 955.9L317.9 955.8L319.4 955.7L320.9 955.6L322.4 955.5L323.9 955.4L325.4 955.3L326.9 955.2L328.4 955.1L329.9 955.0L331.4 954.9L332.9 954.8L334.4 954.7L335.9 954.6L337.4 954.5L338.9 954.4L340.4 954.3L341.9 954.2L343.4 954.1L344.9 954.0L346.4 953.8L347.9 953.7L349.4 953.6L350.9 953.5L352.4 953.4L353.9 953.3L355.4 953.2L356.9 953.1L358.4 953.0L359.9 952.9L361.4 952.8L362.9 952.7L364.4 952.6L365.9 952.4L367.4 952.3L368.9 952.2L370.4 952.1L371.9 952.0L373.4 951.9L374.9 951.8L376.4 951.7L377.9 951.5L379.4 951.4L380.9 951.3L382.4 951.2L383.9 951.1L385.4 951.0L386.9 950.8L388.4 950.7L389.9 950.6L391.4 950.5L392.9 950.4L394.4 950.2L395.9 950.1L397.4 950.0L398.9 949.9L400.4 949.7L401.9 949.6L403.4 949.5L404.9 949.4L406.4 949.3L407.9 949.1L409.4 949.0L410.9 948.9L412.4 948.8L413.9 948.7L415.4 948.6L416.9 948.4L418.4 948.3L419.9 948.2L421.4 948.1L422.9 948.0L424.4 947.9L425.9 947.8L427.4 947.7L428.9 947.5L430.4 947.4L431.9 947.3L433.4 947.2L434.9 947.1L436.4 947.0L437.9 946.9L439.4 946.8L440.9 946.7L442.4 946.5L443.9 946.4L445.4 946.3L446.9 946.2L448.4 946.1L449.9 946.0L451.4 945.9L452.9 945.8L454.4 945.6L455.9 945.5L457.4 945.4L458.9 945.3L460.4 945.2L461.9 945.1L463.4 945.0L464.9 944.8L466.4 944.7L467.9 944.6L469.4 944.5L470.9 944.4L472.4 944.3L473.9 944.1L475.4 944.0L476.9 943.9L478.4 943.8L479.9 943.7L481.4 943.5L482.9 943.4L484.4 943.3L485.9 943.2L487.4 943.0L488.9 942.9L490.4 942.8L491.9 942.6L493.4 942.5L494.9 942.4L496.4 942.2L497.9 942.1L499.4 941.9L500.9 941.8L502.4 941.7L503.9 941.5L505.4 941.4L506.9 941.2L508.4 941.1L509.9 940.9L511.4 940.7L512.9 940.6L514.4 940.4L515.9 940.2L517.4 940.1L518.9 939.9L520.4 939.7L521.9 939.5L523.4 939.4L524.9 939.2L526.4 939.0L527.9 938.8L529.4 938.6L530.9 938.4L532.4 938.2L533.9 938.0L535.4 937.8L536.9 937.6L538.4 937.4L539.9 937.2L541.4 936.9L542.9 936.7L544.4 936.5L545.9 936.2L547.4 936.0L548.9 935.7L550.4 935.5L551.9 935.2L553.4 935.0L554.9 934.7L556.4 934.4L557.9 934.1L559.4 933.9L560.9 933.6L562.4 933.3L563.9 933.0L565.4 932.6L566.9 932.3L568.4 932.0L569.9 931.6L571.4 931.3L572.9 931.0L574.4 930.6L575.9 930.2L577.4 929.9L578.9 929.5L580.4 929.1L581.9 928.7L583.4 928.3L584.9 927.9L586.4 927.5L587.9 927.1L589.4 926.7L590.9 926.3L592.4 925.9L593.9 925.5L595.4 925.0L596.9 924.6L598.4 924.1L599.9 923.7L601.4 923.2L602.9 922.8L604.4 922.3L605.9 921.9L607.4 921.4L608.9 920.9L610.4 920.5L611.9 920.0L613.4 919.5L614.9 919.0L616.4 918.5L617.9 918.0L619.4 917.6L620.9 917.1L622.4 916.6L623.9 916.1L625.4 915.6L626.9 915.1L628.4 914.6L629.9 914.1L631.4 913.6L632.9 913.1L634.4 912.6L635.9 912.1L637.4 911.6L638.9 911.1L640.4 910.6L641.9 910.1L643.4 909.6L644.9 909.1L646.4 908.6L647.9 908.1L649.4 907.6L650.9 907.1L652.4 906.6L653.9 906.1L655.4 905.6L656.9 905.1L658.4 904.6L659.9 904.1L661.4 903.6L662.9 903.1L664.4 902.6L665.9 902.1L667.4 901.6L668.9 901.2L670.4 900.7L671.9 900.2L673.4 899.7L674.9 899.2L676.4 898.8L677.9 898.3L679.4 897.8L680.9 897.4L682.4 896.9L683.9 896.4L685.4 896.0L686.9 895.5L688.4 895.1L689.9 894.6L691.4 894.2L692.9 893.7L694.4 893.3L695.9 892.9L697.4 892.4L698.9 892.0L700.4 891.6L701.9 891.1L703.4 890.7L704.9 890.3L706.4 889.9L707.9 889.5L709.4 889.1L710.9 888.7L712.4 888.3L713.9 888.0L715.4 887.6L716.9 887.2L718.4 886.9L719.9 886.5L721.4 886.1L722.9 885.8L724.4 885.4L725.9 885.1L727.4 884.7L728.9 884.4L730.4 884.1L731.9 883.7L733.4 883.4L734.9 883.0L736.4 882.7L737.9 882.3L739.4 882.0L740.9 881.6L742.4 881.3L743.9 880.9L745.4 880.5L746.9 880.2L748.4 879.8L749.9 879.4L751.4 879.0L752.9 878.7L754.4 878.3L755.9 877.9L757.4 877.5L758.9 877.1L760.4 876.7L761.9 876.3L763.4 875.9L764.9 875.5L766.4 875.0L767.9 874.6L769.4 874.2L770.9 873.8L772.4 873.3L773.9 872.9L775.4 872.5L776.9 872.0L778.4 871.6L779.9 871.2L781.4 870.7L782.9 870.3L784.4 869.8L785.9 869.4L787.4 868.9L788.9 868.4L790.4 868.0L791.9 867.5L793.4 867.0L794.9 866.6L796.4 866.1L797.9 865.6L799.4 865.1L800.9 864.6L802.4 864.1L803.9 863.6L805.4 863.1L806.9 862.5L808.4 862.0L809.9 861.5L811.4 860.9L812.9 860.4L814.4 859.8L815.9 859.3L817.4 858.7L818.9 858.2L820.4 857.6L821.9 857.0L823.4 856.4L824.9 855.8L826.4 855.1L827.9 854.5L829.4 853.8L830.9 853.1L832.4 852.4L833.9 851.6L835.4 850.9L836.9 850.1L838.4 849.3L839.9 848.5L841.4 847.6L842.9 846.8L844.4 845.9L845.9 845.1L847.4 844.2L848.9 843.3L850.4 842.4L851.9 841.5L853.4 840.6L854.9 839.7L856.4 838.8L857.9 837.9L859.4 837.0L860.9 836.1L862.4 835.2L863.9 834.3L865.4 833.4L866.9 832.5L868.4 831.6L869.9 830.7L871.4 829.8L872.9 828.9L874.4 828.0L875.9 827.1L877.4 826.2L878.9 825.2L880.4 824.3L881.9 823.4L883.4 822.5L884.9 821.5L886.4 820.6L887.9 819.7L889.4 818.7L890.9 817.8L892.4 816.9L893.9 815.9L895.4 815.0L896.9 814.0L898.4 813.1L899.9 812.1L901.4 811.1L902.9 810.2L904.4 809.2L905.9 808.3L907.4 807.3L908.9 806.3L910.4 805.4L911.9 804.4L913.4 803.5L914.9 802.5L916.4 801.5L917.9 800.6L919.4 799.6L920.9 798.6L922.4 797.6L923.9 796.7L925.4 795.7L926.9 794.7L928.4 793.7L929.9 792.7L931.4 791.7L932.9 790.7L934.4 789.7L935.9 788.7L937.4 787.7L938.9 786.7L940.4 785.6L941.9 784.6L943.4 783.5L944.9 782.5L946.4 781.4L947.9 780.3L949.4 779.2L950.9 778.0L952.4 776.9L953.9 775.7L955.4 774.5L956.9 773.3L958.4 772.0L959.9 770.8L961.4 769.6L962.9 768.3L964.4 767.1L965.9 765.8L967.4 764.6L968.9 763.3L970.4 762.1L971.9 760.9L973.4 759.7L974.9 758.5L976.4 757.4L977.9 756.3L979.4 755.2L980.9 754.1L982.4 753.1L983.9 752.2L985.4 751.2L986.9 750.3L988.4 749.4L989.9 748.7L991.4 748.0L992.9 747.3L994.4 746.8L995.9 746.3L997.4 745.8L998.9 745.5L1000.4 745.2L1001.9 744.9L1003.4 744.8L1004.9 744.7L1006.4 744.6L1007.9 744.7L1009.4 744.7L1010.9 744.9L1012.4 745.2L1013.9 745.7L1015.4 746.5L1016.9 747.4L1018.4 748.4L1019.9 749.4L1021.4 750.4L1022.9 751.2L1024.4 751.8L1025.9 752.2L1027.4 752.3L1028.9 752.2L1030.4 752.2L1031.9 752.1L1033.4 752.0L1034.9 752.0L1036.4 751.9L1037.9 751.8L1039.4 751.8L1040.9 751.8L1042.4 751.8L1043.9 751.7L1045.4 751.7L1046.9 751.7L1048.4 751.7L1049.9 751.7L1051.4 751.7L1052.9 751.6L1054.4 751.6L1055.9 751.5L1057.4 751.4L1058.9 751.2L1060.4 751.1L1061.9 750.9L1063.4 750.6L1064.9 750.3L1066.4 749.9L1067.9 749.5L1069.4 749.1L1070.9 748.5L1072.4 747.9L1073.9 747.2L1075.4 746.4L1076.9 745.5L1078.4 744.5L1079.9 743.5L1081.4 742.4L1082.9 741.3L1084.4 740.1L1085.9 738.9L1087.4 737.6L1088.9 736.3L1090.4 735.0L1091.9 733.7L1093.4 732.5L1094.9 731.2L1096.4 729.9L1097.9 728.7L1099.4 727.5L1100.9 726.2L1102.4 725.0L1103.9 723.7L1105.4 722.5L1106.9 721.2L1108.4 719.9L1109.9 718.7L1111.4 717.4L1112.9 716.2L1114.4 714.9L1115.9 713.7L1117.4 712.4L1118.9 711.2L1120.4 709.9L1121.9 708.6L1123.4 707.4L1124.9 706.1L1126.4 704.8L1127.9 703.5L1129.4 702.2L1130.9 700.9L1132.4 699.6L1133.9 698.3L1135.4 697.0L1136.9 695.8L1138.4 694.5L1139.9 693.3L1141.4 692.0L1142.9 690.8L1144.4 689.6L1145.9 688.4L1147.4 687.2L1148.9 686.0L1150.4 684.7L1151.9 683.6L1153.4 682.4L1154.9 681.2L1156.4 680.1L1157.9 678.9L1159.4 677.8L1160.9 676.7L1162.4 675.5L1163.9 674.4L1165.4 673.2L1166.9 672.0L1168.4 670.8L1169.9 669.6L1171.4 668.3L1172.9 667.0L1174.4 665.7L1175.9 664.2L1177.4 662.7L1178.9 661.1L1180.4 659.3L1181.9 657.4L1183.4 655.4L1184.9 653.3L1186.4 651.0L1187.9 648.7L1189.4 646.2L1190.9 643.7L1192.4 641.1L1193.9 638.3L1195.4 635.5L1196.9 632.6L1198.4 629.6L1199.9 626.7L1201.4 623.6L1202.9 620.6L1204.4 617.5L1205.9 614.4L1207.4 611.2L1208.9 608.1L1210.4 605.0L1211.9 601.9L1213.4 598.9L1214.9 595.9L1216.4 593.0L1217.9 590.0L1219.4 587.2L1220.9 584.4L1222.4 581.7L1223.9 579.1L1225.4 576.6L1226.9 574.4L1228.4 572.2L1229.9 570.2L1231.4 568.3L1232.9 566.6L1234.4 564.9L1235.9 563.4L1237.4 562.1L1238.9 560.8L1240.4 559.6L1241.9 558.6L1243.4 557.6L1244.9 556.6L1246.4 555.7L1247.9 554.8L1249.4 554.1L1250.9 553.4L1252.4 552.8L1253.9 552.3L1255.4 552.0L1256.9 551.9L1258.4 551.9L1259.9 552.0L1261.4 552.4L1262.9 552.9L1264.4 553.6L1265.9 554.4L1267.4 555.3L1268.9 556.4L1270.4 557.8L1271.9 559.4L1273.4 561.3L1274.9 563.5L1276.4 566.0L1277.9 568.6L1279.4 571.2L1280.9 573.9L1282.4 576.5L1283.9 579.0L1285.4 581.5L1286.9 584.0L1288.4 586.5L1289.9 588.9L1291.4 591.3L1292.9 593.5L1294.4 595.7L1295.9 597.7L1297.4 599.5L1298.9 601.1L1300.4 602.5L1301.9 603.8L1303.4 605.0L1304.9 606.0L1306.4 606.9L1307.9 607.8L1309.4 608.6L1310.9 609.4L1312.4 610.1L1313.9 610.8L1315.4 611.4L1316.9 612.0L1318.4 612.5L1319.9 613.0L1321.4 613.5L1322.9 613.9L1324.4 614.4L1325.9 614.8L1327.4 615.2L1328.9 615.5L1330.4 615.8L1331.9 616.1L1333.4 616.3L1334.9 616.5L1336.4 616.6L1337.9 616.6L1339.4 616.6L1340.9 616.5L1342.4 616.4L1343.9 616.3L1345.4 616.0L1346.9 615.8L1348.4 615.5L1349.9 615.2L1351.4 614.9L1352.9 614.5L1354.4 614.0L1355.9 613.5L1357.4 612.8L1358.9 612.0L1360.4 611.0L1361.9 609.9L1363.4 608.7L1364.9 607.4L1366.4 606.1L1367.9 604.7L1369.4 603.4L1370.9 602.0L1372.4 600.7L1373.9 599.5L1375.4 598.3L1376.9 597.2L1378.4 596.2L1379.9 595.2L1381.4 594.2L1382.9 593.3L1384.4 592.5L1385.9 591.7L1387.4 591.0L1388.9 590.5L1390.4 589.9L1391.9 589.5L1393.4 589.0L1394.9 588.6L1396.4 588.2L1397.9 587.9L1399.4 587.5L1400.9 587.1L1402.4 586.8L1403.9 586.4L1405.4 586.1L1406.9 585.7L1408.4 585.4L1409.9 585.1L1411.4 584.7L1412.9 584.2L1414.4 583.6L1415.9 582.9L1417.4 581.8L1418.9 580.4L1420.4 578.5L1421.9 576.0L1423.4 572.9L1424.9 569.3L1426.4 565.1L1427.9 560.2L1429.4 554.7L1430.9 548.6L1432.4 542.1L1433.9 535.3L1435.4 528.5L1436.9 521.9L1438.4 515.3L1439.9 508.9L1441.4 502.5L1442.9 496.2L1444.4 490.0L1445.9 483.8L1447.4 477.7L1448.9 471.7L1450.4 465.7L1451.9 460.0L1453.4 454.3L1454.9 448.8L1456.4 443.4L1457.9 438.2L1459.4 433.2L1460.9 428.4L1462.4 423.7L1463.9 419.2L1465.4 414.8L1466.9 410.6L1468.4 406.4L1469.9 402.2L1471.4 398.1L1472.9 394.0L1474.4 389.9L1475.9 385.8L1477.4 381.6L1478.9 377.3L1480.4 372.9L1481.9 368.4L1483.4 363.6L1484.9 358.7L1486.4 353.7L1487.9 348.6L1489.4 343.5L1490.9 338.4L1492.4 333.5L1493.9 328.8L1495.4 324.3L1496.9 320.0L1498.4 316.1L1499.9 312.6L1501.4 309.7L1502.9 307.7L1504.4 306.9L1505.9 307.4L1507.4 309.1L1508.9 311.9L1510.4 315.6L1511.9 319.9L1513.4 324.6L1514.9 329.7L1516.4 335.1L1517.9 340.7L1519.4 346.4L1520.9 352.2L1522.4 357.9L1523.9 363.4L1525.4 368.7L1526.9 373.8L1528.4 378.7L1529.9 383.4L1531.4 388.0L1532.9 392.5L1534.4 397.0L1535.9 401.5L1537.4 406.1L1538.9 410.7L1540.4 415.5L1541.9 420.5L1543.4 425.6L1544.9 431.1L1546.4 436.8L1547.9 442.8L1549.4 449.1L1550.9 455.8L1552.4 462.7L1553.9 469.8L1555.4 477.0L1556.9 484.4L1558.4 491.7L1559.9 499.1L1561.4 506.4L1562.9 513.6L1564.4 520.7L1565.9 527.7L1567.4 534.7L1568.9 541.5L1570.4 548.3L1571.9 554.9L1573.4 561.2L1574.9 567.3L1576.4 573.2L1577.9 578.7L1579.4 583.9L1580.9 588.8L1582.4 593.4L1583.9 597.6L1585.4 601.5L1586.9 605.1L1588.4 608.5L1589.9 611.7L1591.4 614.7L1592.9 617.6L1594.4 620.5L1595.9 623.3L1597.4 626.0L1598.9 628.7L1600.4 631.4L1601.9 634.1L1603.4 636.7L1604.9 639.3L1606.4 641.8L1607.9 644.4L1609.4 646.9L1610.9 649.4L1612.4 651.9L1613.9 654.3L1615.4 656.8L1616.9 659.2L1618.4 661.6L1619.9 664.1L1621.4 666.6L1622.9 669.0L1624.4 671.5L1625.9 674.1L1627.4 676.6L1628.9 679.1L1630.4 681.7L1631.9 684.2L1633.4 686.7L1634.9 689.1L1636.4 691.5L1637.9 693.9L1639.4 696.2L1640.9 698.5L1642.4 700.8L1643.9 703.0L1645.4 705.2L1646.9 707.4L1648.4 709.5L1649.9 711.6L1651.4 713.6L1652.9 715.5L1654.4 717.4L1655.9 719.3L1657.4 721.0L1658.9 722.6L1660.4 724.0L1661.9 725.3L1663.4 726.2L1664.9 726.8L1666.4 727.1L1667.9 727.0L1669.4 726.7L1670.9 726.1L1672.4 725.5L1673.9 724.9L1675.4 724.1L1676.9 723.3L1678.4 722.5L1679.9 721.6L1681.4 720.5L1682.9 719.4L1684.4 718.1L1685.9 716.7L1687.4 715.2L1688.9 713.5L1690.4 711.7L1691.9 709.7L1693.4 707.5L1694.9 705.1L1696.4 702.4L1697.9 699.5L1699.4 696.2L1700.9 692.5L1702.4 688.4L1703.9 683.7L1705.4 678.2L1706.9 671.9L1708.4 664.7L1709.9 656.5L1711.4 647.5L1712.9 637.8L1714.4 627.6L1715.9 616.9L1717.4 606.0L1718.9 595.1L1720.4 584.5L1721.9 574.4L1723.4 564.7L1724.9 555.6L1726.4 547.0L1727.9 538.7L1729.4 530.6L1730.9 522.8L1732.4 515.0L1733.9 507.4L1735.4 499.7L1736.9 491.9L1738.4 484.1L1739.9 476.3L1741.4 468.6L1742.9 461.1L1744.4 454.0L1745.9 447.3L1747.4 441.3L1748.9 435.9L1750.4 431.1L1751.9 426.8L1753.4 423.1L1754.9 419.6L1756.4 416.5L1757.9 413.6L1759.4 410.9L1760.9 408.3L1762.4 405.7L1763.9 403.2L1765.4 400.8L1766.9 398.4L1768.4 396.0L1769.9 393.8L1771.4 391.8L1772.9 390.1L1774.4 388.6L1775.9 387.6L1777.4 387.1L1778.9 387.1L1780.4 387.7L1781.9 389.0L1783.4 391.1L1784.9 394.1L1786.4 398.3L1787.9 403.9L1789.4 411.0L1790.9 419.5L1792.4 428.7L1793.9 438.2L1795.4 447.7L1796.9 456.8L1798.4 465.8L1799.9 474.6L1801.4 483.4L1802.9 492.3L1804.4 501.4L1805.9 510.7L1807.4 520.2L1808.9 529.8L1810.4 539.6L1811.9 549.5L1813.4 559.4L1814.9 569.4L1816.4 579.2L1817.9 589.0L1819.4 598.6L1820.9 608.0L1822.4 617.1L1823.9 626.0L1825.4 634.7L1826.9 643.2L1828.4 651.4L1829.9 659.6L1831.4 667.6L1832.9 675.5L1834.4 683.3L1835.9 691.0L1837.4 698.6L1838.9 706.0L1840.4 713.4L1841.9 720.6L1843.4 727.7L1844.9 734.6L1846.4 741.4L1847.9 748.1L1849.4 754.5L1850.9 760.9L1852.4 767.0L1853.9 773.0L1855.4 778.8L1856.9 784.5L1858.4 790.0L1859.9 795.4L1861.4 800.6L1862.9 805.8L1864.4 810.8L1865.9 815.8L1867.4 820.6L1868.9 825.3L1870.4 830.0L1871.9 834.6L1873.4 839.0L1874.9 843.4L1876.4 847.7L1877.9 851.9L1879.4 856.1L1880.9 860.2L1882.4 864.2L1883.9 868.1L1885.4 871.9L1886.9 875.7L1888.4 879.4L1889.9 883.0L1891.4 886.5L1892.9 889.9L1894.4 893.1L1895.9 896.3L1897.4 899.4L1898.9 902.3L1900.4 905.1L1901.9 907.8L1903.4 910.5L1904.9 913.1L1906.4 915.6L1907.9 918.1L1909.4 920.5L1910.9 922.8L1912.4 925.1L1913.9 927.4L1915.4 929.6L1916.9 931.8L1918.4 934.0L1919.9 936.1L1921.4 938.2L1922.9 940.2L1924.4 942.3L1925.9 944.2L1927.4 946.2L1928.9 948.1L1930.4 950.0L1931.9 951.9L1933.4 953.7L1934.9 955.5L1936.4 957.2L1937.9 958.9L1939.4 960.6L1940.9 962.2L1942.4 963.8L1943.9 965.4L1945.4 966.9L1946.9 968.4L1948.4 969.8L1949.9 971.3L1951.4 972.7L1952.9 974.0L1954.4 975.3L1955.9 976.6L1957.4 977.9L1958.9 979.1L1960.4 980.3L1961.9 981.4L1963.4 982.4L1964.9 983.4L1966.4 984.4L1967.9 985.3L1969.4 986.2L1970.9 987.1L1972.4 987.9L1973.9 988.8L1975.4 989.5L1976.9 990.3L1978.4 991.1L1979.9 991.8L1981.4 992.5L1982.9 993.2L1984.4 993.8L1985.9 994.4L1987.4 995.0L1988.9 995.6L1990.4 996.2L1991.9 996.7L1993.4 997.2L1994.9 997.7L1996.4 998.2L1997.9 998.7L1999.4 999.1L2000.9 999.6L2002.4 1000.0L2003.9 1000.5L2005.4 1000.9L2006.9 1001.3L2008.4 1001.7L2009.9 1002.2L2011.4 1002.6L2012.9 1003.0L2014.4 1003.4L2015.9 1003.8L2017.4 1004.2L2018.9 1004.6L2020.4 1004.9L2021.9 1005.3L2023.4 1005.6L2024.9 1006.0L2026.4 1006.3L2027.9 1006.6L2029.4 1006.9L2030.9 1007.2L2032.4 1007.5L2033.9 1007.8L2035.4 1008.0L2036.9 1008.3L2038.4 1008.6L2039.9 1008.8L2041.4 1009.0L2042.9 1009.3L2044.4 1009.5L2045.9 1009.7L2047.4 1009.9L2048.9 1010.1L2050.4 1010.3L2051.9 1010.5L2053.4 1010.7L2054.9 1010.9L2056.4 1011.1L2057.9 1011.3L2059.4 1011.5L2060.9 1011.6L2062.4 1011.8L2063.9 1012.0L2065.4 1012.2"/>
<path class="blk" d="M268.4 1004.4L269.9 1004.3L271.4 1004.2L272.9 1004.1L274.4 1004.0L275.9 1003.9L277.4 1003.8L278.9 1003.7L280.4 1003.5L281.9 1003.4L283.4 1003.3L284.9 1003.2L286.4 1003.1L287.9 1003.0L289.4 1002.9L290.9 1002.8L292.4 1002.7L293.9 1002.5L295.4 1002.4L296.9 1002.3L298.4 1002.2L299.9 1002.1L301.4 1002.0L302.9 1001.8L304.4 1001.7L305.9 1001.6L307.4 1001.5L308.9 1001.4L310.4 1001.3L311.9 1001.1L313.4 1001.0L314.9 1000.9L316.4 1000.8L317.9 1000.7L319.4 1000.5L320.9 1000.4L322.4 1000.3L323.9 1000.2L325.4 1000.0L326.9 999.9L328.4 999.8L329.9 999.7L331.4 999.6L332.9 999.4L334.4 999.3L335.9 999.2L337.4 999.0L338.9 998.9L340.4 998.8L341.9 998.7L343.4 998.5L344.9 998.4L346.4 998.3L347.9 998.1L349.4 998.0L350.9 997.9L352.4 997.7L353.9 997.6L355.4 997.5L356.9 997.3L358.4 997.2L359.9 997.0L361.4 996.9L362.9 996.8L364.4 996.6L365.9 996.5L367.4 996.3L368.9 996.2L370.4 996.0L371.9 995.9L373.4 995.8L374.9 995.6L376.4 995.5L377.9 995.3L379.4 995.2L380.9 995.0L382.4 994.9L383.9 994.7L385.4 994.6L386.9 994.4L388.4 994.3L389.9 994.1L391.4 994.0L392.9 993.8L394.4 993.6L395.9 993.5L397.4 993.3L398.9 993.2L400.4 993.0L401.9 992.9L403.4 992.7L404.9 992.5L406.4 992.4L407.9 992.2L409.4 992.0L410.9 991.9L412.4 991.7L413.9 991.6L415.4 991.4L416.9 991.2L418.4 991.1L419.9 990.9L421.4 990.7L422.9 990.5L424.4 990.4L425.9 990.2L427.4 990.0L428.9 989.9L430.4 989.7L431.9 989.5L433.4 989.3L434.9 989.2L436.4 989.0L437.9 988.8L439.4 988.6L440.9 988.4L442.4 988.3L443.9 988.1L445.4 987.9L446.9 987.7L448.4 987.5L449.9 987.3L451.4 987.2L452.9 987.0L454.4 986.8L455.9 986.6L457.4 986.4L458.9 986.2L460.4 986.0L461.9 985.8L463.4 985.6L464.9 985.4L466.4 985.2L467.9 985.1L469.4 984.9L470.9 984.7L472.4 984.5L473.9 984.3L475.4 984.1L476.9 983.9L478.4 983.7L479.9 983.5L481.4 983.3L482.9 983.1L484.4 982.9L485.9 982.7L487.4 982.5L488.9 982.3L490.4 982.1L491.9 981.9L493.4 981.7L494.9 981.5L496.4 981.3L497.9 981.1L499.4 980.8L500.9 980.6L502.4 980.4L503.9 980.2L505.4 980.0L506.9 979.8L508.4 979.5L509.9 979.3L511.4 979.1L512.9 978.9L514.4 978.7L515.9 978.4L517.4 978.2L518.9 978.0L520.4 977.7L521.9 977.5L523.4 977.3L524.9 977.0L526.4 976.8L527.9 976.6L529.4 976.3L530.9 976.1L532.4 975.8L533.9 975.6L535.4 975.4L536.9 975.1L538.4 974.9L539.9 974.6L541.4 974.3L542.9 974.1L544.4 973.8L545.9 973.5L547.4 973.3L548.9 973.0L550.4 972.7L551.9 972.5L553.4 972.2L554.9 971.9L556.4 971.6L557.9 971.3L559.4 971.0L560.9 970.7L562.4 970.4L563.9 970.1L565.4 969.8L566.9 969.5L568.4 969.2L569.9 968.9L571.4 968.5L572.9 968.2L574.4 967.9L575.9 967.6L577.4 967.2L578.9 966.9L580.4 966.6L581.9 966.3L583.4 965.9L584.9 965.6L586.4 965.2L587.9 964.9L589.4 964.6L590.9 964.2L592.4 963.9L593.9 963.5L595.4 963.2L596.9 962.8L598.4 962.4L599.9 962.1L601.4 961.7L602.9 961.4L604.4 961.0L605.9 960.6L607.4 960.2L608.9 959.9L610.4 959.5L611.9 959.1L613.4 958.7L614.9 958.3L616.4 957.9L617.9 957.5L619.4 957.2L620.9 956.8L622.4 956.4L623.9 956.0L625.4 955.6L626.9 955.2L628.4 954.8L629.9 954.4L631.4 954.0L632.9 953.6L634.4 953.2L635.9 952.8L637.4 952.3L638.9 951.9L640.4 951.5L641.9 951.1L643.4 950.7L644.9 950.3L646.4 949.8L647.9 949.4L649.4 949.0L650.9 948.6L652.4 948.1L653.9 947.7L655.4 947.3L656.9 946.8L658.4 946.4L659.9 946.0L661.4 945.5L662.9 945.1L664.4 944.7L665.9 944.2L667.4 943.8L668.9 943.3L670.4 942.9L671.9 942.4L673.4 942.0L674.9 941.5L676.4 941.1L677.9 940.6L679.4 940.1L680.9 939.7L682.4 939.2L683.9 938.7L685.4 938.3L686.9 937.8L688.4 937.3L689.9 936.8L691.4 936.4L692.9 935.9L694.4 935.4L695.9 934.9L697.4 934.4L698.9 933.9L700.4 933.5L701.9 933.0L703.4 932.5L704.9 932.0L706.4 931.5L707.9 931.1L709.4 930.6L710.9 930.1L712.4 929.7L713.9 929.2L715.4 928.8L716.9 928.3L718.4 927.9L719.9 927.4L721.4 927.0L722.9 926.5L724.4 926.1L725.9 925.6L727.4 925.2L728.9 924.7L730.4 924.3L731.9 923.8L733.4 923.4L734.9 922.9L736.4 922.5L737.9 922.0L739.4 921.6L740.9 921.1L742.4 920.7L743.9 920.2L745.4 919.7L746.9 919.2L748.4 918.7L749.9 918.3L751.4 917.8L752.9 917.3L754.4 916.8L755.9 916.3L757.4 915.8L758.9 915.3L760.4 914.7L761.9 914.2L763.4 913.7L764.9 913.2L766.4 912.7L767.9 912.2L769.4 911.6L770.9 911.1L772.4 910.6L773.9 910.0L775.4 909.5L776.9 909.0L778.4 908.5L779.9 907.9L781.4 907.4L782.9 906.9L784.4 906.3L785.9 905.8L787.4 905.3L788.9 904.7L790.4 904.2L791.9 903.7L793.4 903.1L794.9 902.6L796.4 902.1L797.9 901.5L799.4 901.0L800.9 900.4L802.4 899.9L803.9 899.3L805.4 898.8L806.9 898.2L808.4 897.7L809.9 897.1L811.4 896.5L812.9 896.0L814.4 895.4L815.9 894.8L817.4 894.3L818.9 893.7L820.4 893.1L821.9 892.5L823.4 891.9L824.9 891.2L826.4 890.6L827.9 889.9L829.4 889.2L830.9 888.5L832.4 887.7L833.9 887.0L835.4 886.2L836.9 885.4L838.4 884.6L839.9 883.7L841.4 882.9L842.9 882.0L844.4 881.1L845.9 880.3L847.4 879.4L848.9 878.5L850.4 877.6L851.9 876.6L853.4 875.7L854.9 874.8L856.4 873.9L857.9 872.9L859.4 872.0L860.9 871.1L862.4 870.1L863.9 869.2L865.4 868.3L866.9 867.4L868.4 866.5L869.9 865.6L871.4 864.6L872.9 863.7L874.4 862.8L875.9 861.9L877.4 860.9L878.9 860.0L880.4 859.1L881.9 858.1L883.4 857.2L884.9 856.2L886.4 855.3L887.9 854.3L889.4 853.4L890.9 852.4L892.4 851.5L893.9 850.5L895.4 849.6L896.9 848.6L898.4 847.6L899.9 846.6L901.4 845.7L902.9 844.7L904.4 843.7L905.9 842.8L907.4 841.8L908.9 840.8L910.4 839.8L911.9 838.8L913.4 837.9L914.9 836.9L916.4 835.9L917.9 834.9L919.4 833.9L920.9 832.9L922.4 831.9L923.9 831.0L925.4 830.0L926.9 829.0L928.4 828.0L929.9 826.9L931.4 825.9L932.9 824.9L934.4 823.9L935.9 822.9L937.4 821.8L938.9 820.8L940.4 819.7L941.9 818.7L943.4 817.6L944.9 816.6L946.4 815.5L947.9 814.4L949.4 813.2L950.9 812.1L952.4 810.9L953.9 809.8L955.4 808.5L956.9 807.3L958.4 806.1L959.9 804.8L961.4 803.6L962.9 802.3L964.4 801.0L965.9 799.8L967.4 798.5L968.9 797.3L970.4 796.0L971.9 794.8L973.4 793.6L974.9 792.4L976.4 791.2L977.9 790.1L979.4 789.0L980.9 787.9L982.4 786.9L983.9 785.9L985.4 784.9L986.9 784.0L988.4 783.0L989.9 782.1L991.4 781.3L992.9 780.4L994.4 779.5L995.9 778.7L997.4 777.9L998.9 777.1L1000.4 776.3L1001.9 775.6L1003.4 774.9L1004.9 774.2L1006.4 773.7L1007.9 773.1L1009.4 772.6L1010.9 772.2L1012.4 771.8L1013.9 771.4L1015.4 771.0L1016.9 770.7L1018.4 770.4L1019.9 770.1L1021.4 769.9L1022.9 769.6L1024.4 769.4L1025.9 769.1L1027.4 768.9L1028.9 768.7L1030.4 768.5L1031.9 768.3L1033.4 768.1L1034.9 768.0L1036.4 767.8L1037.9 767.7L1039.4 767.5L1040.9 767.4L1042.4 767.3L1043.9 767.2L1045.4 767.1L1046.9 767.0L1048.4 766.9L1049.9 766.8L1051.4 766.7L1052.9 766.5L1054.4 766.4L1055.9 766.2L1057.4 766.1L1058.9 765.8L1060.4 765.6L1061.9 765.3L1063.4 764.9L1064.9 764.5L1066.4 764.1L1067.9 763.6L1069.4 763.0L1070.9 762.4L1072.4 761.6L1073.9 760.8L1075.4 759.8L1076.9 758.8L1078.4 757.7L1079.9 756.5L1081.4 755.2L1082.9 753.9L1084.4 752.5L1085.9 751.1L1087.4 749.6L1088.9 748.1L1090.4 746.5L1091.9 745.0L1093.4 743.4L1094.9 741.9L1096.4 740.4L1097.9 738.9L1099.4 737.4L1100.9 735.9L1102.4 734.5L1103.9 733.0L1105.4 731.5L1106.9 730.0L1108.4 728.6L1109.9 727.1L1111.4 725.7L1112.9 724.2L1114.4 722.7L1115.9 721.3L1117.4 719.8L1118.9 718.3L1120.4 716.9L1121.9 715.4L1123.4 713.9L1124.9 712.4L1126.4 710.9L1127.9 709.4L1129.4 707.9L1130.9 706.4L1132.4 704.9L1133.9 703.4L1135.4 702.0L1136.9 700.5L1138.4 699.1L1139.9 697.7L1141.4 696.4L1142.9 695.0L1144.4 693.6L1145.9 692.3L1147.4 691.0L1148.9 689.7L1150.4 688.4L1151.9 687.1L1153.4 685.9L1154.9 684.7L1156.4 683.5L1157.9 682.3L1159.4 681.1L1160.9 679.9L1162.4 678.7L1163.9 677.5L1165.4 676.3L1166.9 675.0L1168.4 673.7L1169.9 672.4L1171.4 671.1L1172.9 669.8L1174.4 668.3L1175.9 666.8L1177.4 665.2L1178.9 663.5L1180.4 661.7L1181.9 659.7L1183.4 657.6L1184.9 655.3L1186.4 653.0L1187.9 650.5L1189.4 648.0L1190.9 645.3L1192.4 642.6L1193.9 639.7L1195.4 636.7L1196.9 633.7L1198.4 630.6L1199.9 627.5L1201.4 624.3L1202.9 621.1L1204.4 617.9L1205.9 614.6L1207.4 611.3L1208.9 608.1L1210.4 604.8L1211.9 601.6L1213.4 598.4L1214.9 595.3L1216.4 592.2L1217.9 589.1L1219.4 586.1L1220.9 583.2L1222.4 580.4L1223.9 577.7L1225.4 575.1L1226.9 572.7L1228.4 570.5L1229.9 568.4L1231.4 566.4L1232.9 564.6L1234.4 562.9L1235.9 561.3L1237.4 559.8L1238.9 558.5L1240.4 557.3L1241.9 556.2L1243.4 555.1L1244.9 554.1L1246.4 553.2L1247.9 552.3L1249.4 551.5L1250.9 550.8L1252.4 550.2L1253.9 549.7L1255.4 549.3L1256.9 549.2L1258.4 549.2L1259.9 549.4L1261.4 549.7L1262.9 550.3L1264.4 551.0L1265.9 551.8L1267.4 552.8L1268.9 554.0L1270.4 555.4L1271.9 557.1L1273.4 559.1L1274.9 561.4L1276.4 564.0L1277.9 566.7L1279.4 569.4L1280.9 572.2L1282.4 574.9L1283.9 577.6L1285.4 580.2L1286.9 582.8L1288.4 585.4L1289.9 587.9L1291.4 590.4L1292.9 592.8L1294.4 595.0L1295.9 597.1L1297.4 599.0L1298.9 600.7L1300.4 602.2L1301.9 603.5L1303.4 604.7L1304.9 605.8L1306.4 606.8L1307.9 607.7L1309.4 608.6L1310.9 609.4L1312.4 610.1L1313.9 610.8L1315.4 611.5L1316.9 612.1L1318.4 612.6L1319.9 613.1L1321.4 613.6L1322.9 614.1L1324.4 614.6L1325.9 615.0L1327.4 615.4L1328.9 615.8L1330.4 616.1L1331.9 616.4L1333.4 616.6L1334.9 616.8L1336.4 616.9L1337.9 616.9L1339.4 616.9L1340.9 616.8L1342.4 616.7L1343.9 616.5L1345.4 616.3L1346.9 616.1L1348.4 615.8L1349.9 615.5L1351.4 615.1L1352.9 614.7L1354.4 614.2L1355.9 613.6L1357.4 612.9L1358.9 612.1L1360.4 611.1L1361.9 609.9L1363.4 608.7L1364.9 607.3L1366.4 605.9L1367.9 604.5L1369.4 603.0L1370.9 601.6L1372.4 600.3L1373.9 599.0L1375.4 597.8L1376.9 596.6L1378.4 595.5L1379.9 594.5L1381.4 593.5L1382.9 592.5L1384.4 591.7L1385.9 590.9L1387.4 590.2L1388.9 589.5L1390.4 589.0L1391.9 588.5L1393.4 588.0L1394.9 587.6L1396.4 587.1L1397.9 586.7L1399.4 586.3L1400.9 585.9L1402.4 585.5L1403.9 585.1L1405.4 584.7L1406.9 584.3L1408.4 583.9L1409.9 583.5L1411.4 583.1L1412.9 582.5L1414.4 581.9L1415.9 581.0L1417.4 579.9L1418.9 578.3L1420.4 576.3L1421.9 573.6L1423.4 570.4L1424.9 566.5L1426.4 562.1L1427.9 556.9L1429.4 551.1L1430.9 544.6L1432.4 537.7L1433.9 530.6L1435.4 523.5L1436.9 516.4L1438.4 509.5L1439.9 502.7L1441.4 496.0L1442.9 489.3L1444.4 482.7L1445.9 476.2L1447.4 469.7L1448.9 463.4L1450.4 457.1L1451.9 451.0L1453.4 445.0L1454.9 439.2L1456.4 433.5L1457.9 428.0L1459.4 422.7L1460.9 417.6L1462.4 412.7L1463.9 407.9L1465.4 403.2L1466.9 398.7L1468.4 394.2L1469.9 389.9L1471.4 385.5L1472.9 381.2L1474.4 376.8L1475.9 372.5L1477.4 368.0L1478.9 363.5L1480.4 358.8L1481.9 354.0L1483.4 349.1L1484.9 343.9L1486.4 338.6L1487.9 333.2L1489.4 327.8L1490.9 322.5L1492.4 317.3L1493.9 312.4L1495.4 307.7L1496.9 303.2L1498.4 299.1L1499.9 295.4L1501.4 292.4L1502.9 290.3L1504.4 289.4L1505.9 289.9L1507.4 291.8L1508.9 294.7L1510.4 298.5L1511.9 303.0L1513.4 308.0L1514.9 313.3L1516.4 318.9L1517.9 324.7L1519.4 330.8L1520.9 336.8L1522.4 342.8L1523.9 348.6L1525.4 354.1L1526.9 359.4L1528.4 364.5L1529.9 369.4L1531.4 374.2L1532.9 379.0L1534.4 383.7L1535.9 388.4L1537.4 393.2L1538.9 398.1L1540.4 403.1L1541.9 408.2L1543.4 413.6L1544.9 419.3L1546.4 425.3L1547.9 431.6L1549.4 438.2L1550.9 445.2L1552.4 452.4L1553.9 459.8L1555.4 467.4L1556.9 475.1L1558.4 482.8L1559.9 490.5L1561.4 498.1L1562.9 505.6L1564.4 513.1L1565.9 520.4L1567.4 527.7L1568.9 534.9L1570.4 541.9L1571.9 548.8L1573.4 555.5L1574.9 561.9L1576.4 568.0L1577.9 573.7L1579.4 579.2L1580.9 584.3L1582.4 589.1L1583.9 593.5L1585.4 597.6L1586.9 601.4L1588.4 604.9L1589.9 608.2L1591.4 611.4L1592.9 614.4L1594.4 617.4L1595.9 620.3L1597.4 623.1L1598.9 625.9L1600.4 628.7L1601.9 631.5L1603.4 634.2L1604.9 636.8L1606.4 639.5L1607.9 642.1L1609.4 644.6L1610.9 647.2L1612.4 649.8L1613.9 652.3L1615.4 654.8L1616.9 657.3L1618.4 659.8L1619.9 662.3L1621.4 664.8L1622.9 667.4L1624.4 669.9L1625.9 672.5L1627.4 675.1L1628.9 677.7L1630.4 680.3L1631.9 682.9L1633.4 685.4L1634.9 687.9L1636.4 690.4L1637.9 692.8L1639.4 695.2L1640.9 697.6L1642.4 699.9L1643.9 702.2L1645.4 704.5L1646.9 706.7L1648.4 708.9L1649.9 711.0L1651.4 713.1L1652.9 715.1L1654.4 717.1L1655.9 719.0L1657.4 720.7L1658.9 722.4L1660.4 723.9L1661.9 725.2L1663.4 726.2L1664.9 726.8L1666.4 727.1L1667.9 727.0L1669.4 726.7L1670.9 726.1L1672.4 725.5L1673.9 724.8L1675.4 724.1L1676.9 723.3L1678.4 722.4L1679.9 721.5L1681.4 720.5L1682.9 719.3L1684.4 718.0L1685.9 716.6L1687.4 715.0L1688.9 713.3L1690.4 711.4L1691.9 709.4L1693.4 707.2L1694.9 704.7L1696.4 702.0L1697.9 698.9L1699.4 695.6L1700.9 691.8L1702.4 687.5L1703.9 682.6L1705.4 677.0L1706.9 670.4L1708.4 662.9L1709.9 654.4L1711.4 645.1L1712.9 635.0L1714.4 624.3L1715.9 613.2L1717.4 601.8L1718.9 590.5L1720.4 579.5L1721.9 568.9L1723.4 558.8L1724.9 549.3L1726.4 540.3L1727.9 531.7L1729.4 523.3L1730.9 515.1L1732.4 507.1L1733.9 499.0L1735.4 491.0L1736.9 482.9L1738.4 474.7L1739.9 466.6L1741.4 458.5L1742.9 450.7L1744.4 443.3L1745.9 436.3L1747.4 430.0L1748.9 424.3L1750.4 419.3L1751.9 414.9L1753.4 410.9L1754.9 407.4L1756.4 404.1L1757.9 401.1L1759.4 398.2L1760.9 395.5L1762.4 392.8L1763.9 390.2L1765.4 387.6L1766.9 385.1L1768.4 382.6L1769.9 380.3L1771.4 378.2L1772.9 376.4L1774.4 374.9L1775.9 373.9L1777.4 373.3L1778.9 373.3L1780.4 374.0L1781.9 375.3L1783.4 377.5L1784.9 380.7L1786.4 385.0L1787.9 390.9L1789.4 398.4L1790.9 407.2L1792.4 416.9L1793.9 426.8L1795.4 436.7L1796.9 446.3L1798.4 455.6L1799.9 464.8L1801.4 474.0L1802.9 483.4L1804.4 492.9L1805.9 502.6L1807.4 512.5L1808.9 522.6L1810.4 532.9L1811.9 543.2L1813.4 553.6L1814.9 564.0L1816.4 574.3L1817.9 584.5L1819.4 594.5L1820.9 604.4L1822.4 614.0L1823.9 623.3L1825.4 632.3L1826.9 641.2L1828.4 649.8L1829.9 658.3L1831.4 666.7L1832.9 675.0L1834.4 683.2L1835.9 691.2L1837.4 699.2L1838.9 707.0L1840.4 714.7L1841.9 722.2L1843.4 729.6L1844.9 736.9L1846.4 744.0L1847.9 750.9L1849.4 757.7L1850.9 764.3L1852.4 770.7L1853.9 777.0L1855.4 783.1L1856.9 789.0L1858.4 794.8L1859.9 800.4L1861.4 805.9L1862.9 811.3L1864.4 816.6L1865.9 821.7L1867.4 826.7L1868.9 831.6L1870.4 836.4L1871.9 841.1L1873.4 845.7L1874.9 850.2L1876.4 854.6L1877.9 858.8L1879.4 863.0L1880.9 867.1L1882.4 871.2L1883.9 875.1L1885.4 879.0L1886.9 882.8L1888.4 886.4L1889.9 890.0L1891.4 893.5L1892.9 896.9L1894.4 900.1L1895.9 903.3L1897.4 906.3L1898.9 909.2L1900.4 912.0L1901.9 914.7L1903.4 917.3L1904.9 919.9L1906.4 922.4L1907.9 924.8L1909.4 927.2L1910.9 929.5L1912.4 931.8L1913.9 934.0L1915.4 936.2L1916.9 938.3L1918.4 940.4L1919.9 942.4L1921.4 944.4L1922.9 946.4L1924.4 948.4L1925.9 950.3L1927.4 952.2L1928.9 954.0L1930.4 955.8L1931.9 957.6L1933.4 959.4L1934.9 961.1L1936.4 962.8L1937.9 964.4L1939.4 966.0L1940.9 967.6L1942.4 969.1L1943.9 970.7L1945.4 972.1L1946.9 973.6L1948.4 975.0L1949.9 976.4L1951.4 977.8L1952.9 979.2L1954.4 980.5L1955.9 981.8L1957.4 983.1L1958.9 984.3L1960.4 985.5L1961.9 986.7L1963.4 987.8L1964.9 988.9L1966.4 989.9L1967.9 990.9L1969.4 991.9L1970.9 992.8L1972.4 993.7L1973.9 994.6L1975.4 995.5L1976.9 996.3L1978.4 997.1L1979.9 997.9L1981.4 998.7L1982.9 999.4L1984.4 1000.1L1985.9 1000.8L1987.4 1001.4L1988.9 1002.0L1990.4 1002.6L1991.9 1003.2L1993.4 1003.8L1994.9 1004.3L1996.4 1004.9L1997.9 1005.4L1999.4 1005.9L2000.9 1006.4L2002.4 1006.9L2003.9 1007.3L2005.4 1007.8L2006.9 1008.3L2008.4 1008.8L2009.9 1009.2L2011.4 1009.7L2012.9 1010.2L2014.4 1010.6L2015.9 1011.0L2017.4 1011.5L2018.9 1011.9L2020.4 1012.3L2021.9 1012.7L2023.4 1013.1L2024.9 1013.5L2026.4 1013.9L2027.9 1014.3L2029.4 1014.6L2030.9 1015.0L2032.4 1015.3L2033.9 1015.6L2035.4 1015.9L2036.9 1016.3L2038.4 1016.6L2039.9 1016.9L2041.4 1017.1L2042.9 1017.4L2044.4 1017.7L2045.9 1018.0L2047.4 1018.2L2048.9 1018.5L2050.4 1018.8L2051.9 1019.0L2053.4 1019.3L2054.9 1019.5L2056.4 1019.8L2057.9 1020.0L2059.4 1020.3L2060.9 1020.5L2062.4 1020.7L2063.9 1021.0L2065.4 1021.2"/>
<path class="blk" d="M268.4 1019.0L269.9 1018.9L271.4 1018.8L272.9 1018.7L274.4 1018.5L275.9 1018.4L277.4 1018.3L278.9 1018.2L280.4 1018.1L281.9 1017.9L283.4 1017.8L284.9 1017.7L286.4 1017.6L287.9 1017.4L289.4 1017.3L290.9 1017.2L292.4 1017.1L293.9 1016.9L295.4 1016.8L296.9 1016.7L298.4 1016.6L299.9 1016.4L301.4 1016.3L302.9 1016.2L304.4 1016.0L305.9 1015.9L307.4 1015.8L308.9 1015.6L310.4 1015.5L311.9 1015.4L313.4 1015.3L314.9 1015.1L316.4 1015.0L317.9 1014.9L319.4 1014.7L320.9 1014.6L322.4 1014.5L323.9 1014.3L325.4 1014.2L326.9 1014.1L328.4 1013.9L329.9 1013.8L331.4 1013.6L332.9 1013.5L334.4 1013.4L335.9 1013.2L337.4 1013.1L338.9 1012.9L340.4 1012.8L341.9 1012.7L343.4 1012.5L344.9 1012.4L346.4 1012.2L347.9 1012.1L349.4 1011.9L350.9 1011.8L352.4 1011.7L353.9 1011.5L355.4 1011.4L356.9 1011.2L358.4 1011.1L359.9 1010.9L361.4 1010.8L362.9 1010.6L364.4 1010.4L365.9 1010.3L367.4 1010.1L368.9 1010.0L370.4 1009.8L371.9 1009.7L373.4 1009.5L374.9 1009.3L376.4 1009.2L377.9 1009.0L379.4 1008.9L380.9 1008.7L382.4 1008.5L383.9 1008.4L385.4 1008.2L386.9 1008.1L388.4 1007.9L389.9 1007.7L391.4 1007.6L392.9 1007.4L394.4 1007.2L395.9 1007.1L397.4 1006.9L398.9 1006.7L400.4 1006.5L401.9 1006.4L403.4 1006.2L404.9 1006.0L406.4 1005.9L407.9 1005.7L409.4 1005.5L410.9 1005.3L412.4 1005.1L413.9 1005.0L415.4 1004.8L416.9 1004.6L418.4 1004.4L419.9 1004.3L421.4 1004.1L422.9 1003.9L424.4 1003.7L425.9 1003.5L427.4 1003.3L428.9 1003.1L430.4 1003.0L431.9 1002.8L433.4 1002.6L434.9 1002.4L436.4 1002.2L437.9 1002.0L439.4 1001.8L440.9 1001.6L442.4 1001.4L443.9 1001.2L445.4 1001.0L446.9 1000.8L448.4 1000.6L449.9 1000.4L451.4 1000.2L452.9 1000.0L454.4 999.8L455.9 999.6L457.4 999.4L458.9 999.2L460.4 999.0L461.9 998.8L463.4 998.6L464.9 998.4L466.4 998.2L467.9 998.0L469.4 997.8L470.9 997.6L472.4 997.4L473.9 997.2L475.4 996.9L476.9 996.7L478.4 996.5L479.9 996.3L481.4 996.1L482.9 995.9L484.4 995.7L485.9 995.5L487.4 995.2L488.9 995.0L490.4 994.8L491.9 994.6L493.4 994.4L494.9 994.2L496.4 993.9L497.9 993.7L499.4 993.5L500.9 993.3L502.4 993.0L503.9 992.8L505.4 992.6L506.9 992.3L508.4 992.1L509.9 991.9L511.4 991.6L512.9 991.4L514.4 991.1L515.9 990.9L517.4 990.7L518.9 990.4L520.4 990.2L521.9 989.9L523.4 989.7L524.9 989.4L526.4 989.2L527.9 988.9L529.4 988.7L530.9 988.4L532.4 988.1L533.9 987.9L535.4 987.6L536.9 987.3L538.4 987.1L539.9 986.8L541.4 986.5L542.9 986.2L544.4 986.0L545.9 985.7L547.4 985.4L548.9 985.1L550.4 984.8L551.9 984.5L553.4 984.2L554.9 983.9L556.4 983.6L557.9 983.3L559.4 983.0L560.9 982.6L562.4 982.3L563.9 982.0L565.4 981.7L566.9 981.3L568.4 981.0L569.9 980.7L571.4 980.3L572.9 980.0L574.4 979.6L575.9 979.3L577.4 978.9L578.9 978.6L580.4 978.2L581.9 977.9L583.4 977.5L584.9 977.2L586.4 976.8L587.9 976.5L589.4 976.1L590.9 975.7L592.4 975.3L593.9 975.0L595.4 974.6L596.9 974.2L598.4 973.8L599.9 973.5L601.4 973.1L602.9 972.7L604.4 972.3L605.9 971.9L607.4 971.5L608.9 971.1L610.4 970.7L611.9 970.3L613.4 969.9L614.9 969.5L616.4 969.0L617.9 968.6L619.4 968.2L620.9 967.8L622.4 967.4L623.9 967.0L625.4 966.5L626.9 966.1L628.4 965.7L629.9 965.3L631.4 964.9L632.9 964.4L634.4 964.0L635.9 963.6L637.4 963.1L638.9 962.7L640.4 962.3L641.9 961.8L643.4 961.4L644.9 960.9L646.4 960.5L647.9 960.0L649.4 959.6L650.9 959.1L652.4 958.7L653.9 958.2L655.4 957.8L656.9 957.3L658.4 956.9L659.9 956.4L661.4 955.9L662.9 955.5L664.4 955.0L665.9 954.6L667.4 954.1L668.9 953.6L670.4 953.2L671.9 952.7L673.4 952.2L674.9 951.7L676.4 951.2L677.9 950.8L679.4 950.3L680.9 949.8L682.4 949.3L683.9 948.8L685.4 948.3L686.9 947.8L688.4 947.3L689.9 946.8L691.4 946.3L692.9 945.8L694.4 945.3L695.9 944.8L697.4 944.3L698.9 943.8L700.4 943.3L701.9 942.8L703.4 942.3L704.9 941.8L706.4 941.4L707.9 940.9L709.4 940.4L710.9 939.9L712.4 939.5L713.9 939.0L715.4 938.5L716.9 938.1L718.4 937.6L719.9 937.2L721.4 936.7L722.9 936.3L724.4 935.8L725.9 935.4L727.4 934.9L728.9 934.5L730.4 934.0L731.9 933.6L733.4 933.1L734.9 932.7L736.4 932.2L737.9 931.8L739.4 931.3L740.9 930.9L742.4 930.4L743.9 929.9L745.4 929.5L746.9 929.0L748.4 928.5L749.9 928.0L751.4 927.5L752.9 927.0L754.4 926.5L755.9 926.0L757.4 925.5L758.9 925.0L760.4 924.5L761.9 924.0L763.4 923.5L764.9 923.0L766.4 922.4L767.9 921.9L769.4 921.4L770.9 920.9L772.4 920.3L773.9 919.8L775.4 919.3L776.9 918.7L778.4 918.2L779.9 917.7L781.4 917.1L782.9 916.6L784.4 916.1L785.9 915.5L787.4 915.0L788.9 914.4L790.4 913.9L791.9 913.4L793.4 912.8L794.9 912.3L796.4 911.7L797.9 911.2L799.4 910.6L800.9 910.1L802.4 909.5L803.9 908.9L805.4 908.4L806.9 907.8L808.4 907.2L809.9 906.6L811.4 906.1L812.9 905.5L814.4 904.9L815.9 904.3L817.4 903.7L818.9 903.1L820.4 902.5L821.9 901.9L823.4 901.2L824.9 900.6L826.4 899.9L827.9 899.2L829.4 898.5L830.9 897.7L832.4 896.9L833.9 896.1L835.4 895.3L836.9 894.5L838.4 893.6L839.9 892.7L841.4 891.8L842.9 890.9L844.4 890.0L845.9 889.1L847.4 888.1L848.9 887.2L850.4 886.2L851.9 885.3L853.4 884.3L854.9 883.3L856.4 882.3L857.9 881.4L859.4 880.4L860.9 879.4L862.4 878.4L863.9 877.5L865.4 876.5L866.9 875.5L868.4 874.6L869.9 873.6L871.4 872.6L872.9 871.7L874.4 870.7L875.9 869.7L877.4 868.7L878.9 867.7L880.4 866.8L881.9 865.8L883.4 864.8L884.9 863.8L886.4 862.8L887.9 861.8L889.4 860.8L890.9 859.8L892.4 858.8L893.9 857.7L895.4 856.7L896.9 855.7L898.4 854.7L899.9 853.7L901.4 852.6L902.9 851.6L904.4 850.6L905.9 849.5L907.4 848.5L908.9 847.5L910.4 846.4L911.9 845.4L913.4 844.4L914.9 843.3L916.4 842.3L917.9 841.3L919.4 840.2L920.9 839.2L922.4 838.1L923.9 837.1L925.4 836.0L926.9 835.0L928.4 833.9L929.9 832.8L931.4 831.8L932.9 830.7L934.4 829.6L935.9 828.5L937.4 827.4L938.9 826.3L940.4 825.2L941.9 824.1L943.4 823.0L944.9 821.9L946.4 820.7L947.9 819.6L949.4 818.4L950.9 817.2L952.4 815.9L953.9 814.7L955.4 813.4L956.9 812.1L958.4 810.8L959.9 809.5L961.4 808.1L962.9 806.8L964.4 805.5L965.9 804.1L967.4 802.8L968.9 801.5L970.4 800.2L971.9 798.9L973.4 797.6L974.9 796.3L976.4 795.1L977.9 793.9L979.4 792.7L980.9 791.6L982.4 790.5L983.9 789.4L985.4 788.4L986.9 787.4L988.4 786.4L989.9 785.5L991.4 784.5L992.9 783.6L994.4 782.7L995.9 781.8L997.4 781.0L998.9 780.1L1000.4 779.3L1001.9 778.6L1003.4 777.8L1004.9 777.2L1006.4 776.5L1007.9 776.0L1009.4 775.5L1010.9 775.0L1012.4 774.6L1013.9 774.2L1015.4 773.8L1016.9 773.5L1018.4 773.2L1019.9 772.9L1021.4 772.6L1022.9 772.3L1024.4 772.1L1025.9 771.8L1027.4 771.6L1028.9 771.4L1030.4 771.2L1031.9 771.0L1033.4 770.8L1034.9 770.6L1036.4 770.4L1037.9 770.3L1039.4 770.2L1040.9 770.0L1042.4 769.9L1043.9 769.8L1045.4 769.7L1046.9 769.6L1048.4 769.5L1049.9 769.4L1051.4 769.3L1052.9 769.1L1054.4 769.0L1055.9 768.8L1057.4 768.6L1058.9 768.4L1060.4 768.1L1061.9 767.8L1063.4 767.4L1064.9 767.0L1066.4 766.5L1067.9 766.0L1069.4 765.3L1070.9 764.6L1072.4 763.8L1073.9 762.9L1075.4 761.9L1076.9 760.8L1078.4 759.6L1079.9 758.3L1081.4 757.0L1082.9 755.6L1084.4 754.1L1085.9 752.5L1087.4 750.9L1088.9 749.3L1090.4 747.6L1091.9 746.0L1093.4 744.3L1094.9 742.7L1096.4 741.1L1097.9 739.5L1099.4 737.9L1100.9 736.3L1102.4 734.7L1103.9 733.1L1105.4 731.6L1106.9 730.0L1108.4 728.4L1109.9 726.8L1111.4 725.3L1112.9 723.7L1114.4 722.1L1115.9 720.6L1117.4 719.0L1118.9 717.4L1120.4 715.8L1121.9 714.2L1123.4 712.7L1124.9 711.0L1126.4 709.4L1127.9 707.8L1129.4 706.2L1130.9 704.6L1132.4 703.0L1133.9 701.4L1135.4 699.9L1136.9 698.3L1138.4 696.8L1139.9 695.3L1141.4 693.8L1142.9 692.4L1144.4 690.9L1145.9 689.5L1147.4 688.1L1148.9 686.7L1150.4 685.3L1151.9 684.0L1153.4 682.6L1154.9 681.3L1156.4 680.0L1157.9 678.8L1159.4 677.5L1160.9 676.2L1162.4 674.9L1163.9 673.6L1165.4 672.3L1166.9 670.9L1168.4 669.6L1169.9 668.2L1171.4 666.8L1172.9 665.3L1174.4 663.8L1175.9 662.2L1177.4 660.5L1178.9 658.6L1180.4 656.7L1181.9 654.5L1183.4 652.3L1184.9 649.9L1186.4 647.3L1187.9 644.7L1189.4 642.0L1190.9 639.1L1192.4 636.2L1193.9 633.1L1195.4 629.9L1196.9 626.7L1198.4 623.3L1199.9 620.0L1201.4 616.6L1202.9 613.2L1204.4 609.7L1205.9 606.2L1207.4 602.7L1208.9 599.2L1210.4 595.7L1211.9 592.2L1213.4 588.8L1214.9 585.5L1216.4 582.2L1217.9 578.9L1219.4 575.7L1220.9 572.5L1222.4 569.5L1223.9 566.6L1225.4 563.9L1226.9 561.3L1228.4 558.9L1229.9 556.6L1231.4 554.5L1232.9 552.6L1234.4 550.7L1235.9 549.0L1237.4 547.5L1238.9 546.1L1240.4 544.8L1241.9 543.6L1243.4 542.4L1244.9 541.4L1246.4 540.3L1247.9 539.4L1249.4 538.5L1250.9 537.7L1252.4 537.1L1253.9 536.6L1255.4 536.2L1256.9 536.1L1258.4 536.1L1259.9 536.3L1261.4 536.6L1262.9 537.2L1264.4 538.0L1265.9 538.9L1267.4 539.9L1268.9 541.2L1270.4 542.7L1271.9 544.5L1273.4 546.7L1274.9 549.1L1276.4 551.9L1277.9 554.8L1279.4 557.8L1280.9 560.7L1282.4 563.6L1283.9 566.5L1285.4 569.3L1286.9 572.1L1288.4 574.8L1289.9 577.6L1291.4 580.2L1292.9 582.8L1294.4 585.2L1295.9 587.4L1297.4 589.4L1298.9 591.3L1300.4 592.9L1301.9 594.3L1303.4 595.6L1304.9 596.7L1306.4 597.8L1307.9 598.8L1309.4 599.7L1310.9 600.6L1312.4 601.4L1313.9 602.1L1315.4 602.8L1316.9 603.5L1318.4 604.1L1319.9 604.6L1321.4 605.2L1322.9 605.7L1324.4 606.1L1325.9 606.6L1327.4 607.0L1328.9 607.4L1330.4 607.8L1331.9 608.1L1333.4 608.4L1334.9 608.5L1336.4 608.7L1337.9 608.7L1339.4 608.7L1340.9 608.6L1342.4 608.4L1343.9 608.3L1345.4 608.0L1346.9 607.8L1348.4 607.4L1349.9 607.1L1351.4 606.7L1352.9 606.3L1354.4 605.8L1355.9 605.2L1357.4 604.4L1358.9 603.5L1360.4 602.4L1361.9 601.2L1363.4 599.8L1364.9 598.4L1366.4 596.9L1367.9 595.3L1369.4 593.8L1370.9 592.3L1372.4 590.8L1373.9 589.5L1375.4 588.2L1376.9 586.9L1378.4 585.7L1379.9 584.6L1381.4 583.5L1382.9 582.5L1384.4 581.6L1385.9 580.7L1387.4 580.0L1388.9 579.3L1390.4 578.7L1391.9 578.2L1393.4 577.7L1394.9 577.3L1396.4 576.8L1397.9 576.4L1399.4 576.0L1400.9 575.6L1402.4 575.2L1403.9 574.8L1405.4 574.4L1406.9 574.0L1408.4 573.7L1409.9 573.3L1411.4 572.8L1412.9 572.3L1414.4 571.7L1415.9 570.8L1417.4 569.6L1418.9 568.0L1420.4 565.9L1421.9 563.1L1423.4 559.7L1424.9 555.6L1426.4 550.9L1427.9 545.4L1429.4 539.2L1430.9 532.4L1432.4 525.1L1433.9 517.5L1435.4 509.9L1436.9 502.4L1438.4 495.1L1439.9 487.9L1441.4 480.7L1442.9 473.7L1444.4 466.7L1445.9 459.7L1447.4 452.9L1448.9 446.1L1450.4 439.5L1451.9 433.0L1453.4 426.6L1454.9 420.4L1456.4 414.4L1457.9 408.6L1459.4 403.0L1460.9 397.6L1462.4 392.4L1463.9 387.3L1465.4 382.4L1466.9 377.6L1468.4 372.9L1469.9 368.2L1471.4 363.6L1472.9 359.1L1474.4 354.5L1475.9 349.8L1477.4 345.1L1478.9 340.3L1480.4 335.4L1481.9 330.3L1483.4 325.0L1484.9 319.5L1486.4 313.8L1487.9 308.1L1489.4 302.3L1490.9 296.7L1492.4 291.2L1493.9 285.9L1495.4 280.8L1496.9 276.1L1498.4 271.6L1499.9 267.7L1501.4 264.5L1502.9 262.3L1504.4 261.4L1505.9 261.9L1507.4 263.8L1508.9 267.0L1510.4 271.1L1511.9 275.9L1513.4 281.2L1514.9 286.9L1516.4 292.9L1517.9 299.2L1519.4 305.7L1520.9 312.2L1522.4 318.6L1523.9 324.7L1525.4 330.7L1526.9 336.4L1528.4 341.8L1529.9 347.1L1531.4 352.3L1532.9 357.4L1534.4 362.4L1535.9 367.5L1537.4 372.6L1538.9 377.8L1540.4 383.2L1541.9 388.7L1543.4 394.5L1544.9 400.6L1546.4 407.0L1547.9 413.8L1549.4 420.9L1550.9 428.3L1552.4 436.0L1553.9 444.0L1555.4 452.1L1556.9 460.4L1558.4 468.6L1559.9 476.9L1561.4 485.0L1562.9 493.1L1564.4 501.1L1565.9 509.0L1567.4 516.8L1568.9 524.5L1570.4 532.0L1571.9 539.4L1573.4 546.6L1574.9 553.4L1576.4 559.9L1577.9 566.1L1579.4 572.0L1580.9 577.5L1582.4 582.6L1583.9 587.4L1585.4 591.7L1586.9 595.8L1588.4 599.6L1589.9 603.1L1591.4 606.5L1592.9 609.7L1594.4 612.9L1595.9 616.0L1597.4 619.1L1598.9 622.1L1600.4 625.1L1601.9 628.0L1603.4 630.9L1604.9 633.8L1606.4 636.6L1607.9 639.4L1609.4 642.2L1610.9 644.9L1612.4 647.6L1613.9 650.3L1615.4 653.0L1616.9 655.7L1618.4 658.4L1619.9 661.1L1621.4 663.8L1622.9 666.5L1624.4 669.3L1625.9 672.0L1627.4 674.8L1628.9 677.6L1630.4 680.4L1631.9 683.1L1633.4 685.9L1634.9 688.6L1636.4 691.2L1637.9 693.8L1639.4 696.4L1640.9 698.9L1642.4 701.4L1643.9 703.9L1645.4 706.3L1646.9 708.7L1648.4 711.0L1649.9 713.3L1651.4 715.5L1652.9 717.7L1654.4 719.8L1655.9 721.8L1657.4 723.7L1658.9 725.5L1660.4 727.1L1661.9 728.5L1663.4 729.6L1664.9 730.2L1666.4 730.5L1667.9 730.4L1669.4 730.1L1670.9 729.5L1672.4 728.9L1673.9 728.1L1675.4 727.3L1676.9 726.5L1678.4 725.6L1679.9 724.5L1681.4 723.4L1682.9 722.2L1684.4 720.8L1685.9 719.3L1687.4 717.6L1688.9 715.8L1690.4 713.7L1691.9 711.6L1693.4 709.2L1694.9 706.5L1696.4 703.6L1697.9 700.4L1699.4 696.7L1700.9 692.7L1702.4 688.1L1703.9 682.8L1705.4 676.8L1706.9 669.8L1708.4 661.7L1709.9 652.6L1711.4 642.6L1712.9 631.8L1714.4 620.4L1715.9 608.4L1717.4 596.3L1718.9 584.1L1720.4 572.3L1721.9 560.9L1723.4 550.2L1724.9 540.0L1726.4 530.3L1727.9 521.0L1729.4 512.1L1730.9 503.3L1732.4 494.7L1733.9 486.1L1735.4 477.4L1736.9 468.8L1738.4 460.0L1739.9 451.3L1741.4 442.6L1742.9 434.3L1744.4 426.3L1745.9 418.8L1747.4 412.1L1748.9 406.0L1750.4 400.6L1751.9 395.8L1753.4 391.6L1754.9 387.8L1756.4 384.3L1757.9 381.0L1759.4 378.0L1760.9 375.0L1762.4 372.2L1763.9 369.4L1765.4 366.6L1766.9 363.9L1768.4 361.3L1769.9 358.8L1771.4 356.5L1772.9 354.6L1774.4 353.0L1775.9 351.9L1777.4 351.3L1778.9 351.3L1780.4 352.0L1781.9 353.5L1783.4 355.8L1784.9 359.2L1786.4 363.8L1787.9 370.1L1789.4 378.1L1790.9 387.6L1792.4 398.0L1793.9 408.6L1795.4 419.2L1796.9 429.5L1798.4 439.5L1799.9 449.4L1801.4 459.3L1802.9 469.3L1804.4 479.4L1805.9 489.9L1807.4 500.5L1808.9 511.3L1810.4 522.3L1811.9 533.4L1813.4 544.6L1814.9 555.7L1816.4 566.7L1817.9 577.7L1819.4 588.4L1820.9 599.0L1822.4 609.3L1823.9 619.2L1825.4 629.0L1826.9 638.4L1828.4 647.7L1829.9 656.8L1831.4 665.7L1832.9 674.6L1834.4 683.3L1835.9 691.9L1837.4 700.4L1838.9 708.7L1840.4 716.9L1841.9 724.9L1843.4 732.8L1844.9 740.5L1846.4 748.0L1847.9 755.4L1849.4 762.6L1850.9 769.6L1852.4 776.4L1853.9 783.0L1855.4 789.5L1856.9 795.7L1858.4 801.8L1859.9 807.8L1861.4 813.6L1862.9 819.2L1864.4 824.7L1865.9 830.1L1867.4 835.4L1868.9 840.6L1870.4 845.6L1871.9 850.5L1873.4 855.3L1874.9 860.0L1876.4 864.5L1877.9 869.0L1879.4 873.4L1880.9 877.7L1882.4 881.9L1883.9 886.0L1885.4 890.0L1886.9 893.9L1888.4 897.7L1889.9 901.4L1891.4 905.0L1892.9 908.5L1894.4 911.9L1895.9 915.1L1897.4 918.2L1898.9 921.2L1900.4 924.1L1901.9 926.9L1903.4 929.6L1904.9 932.2L1906.4 934.7L1907.9 937.2L1909.4 939.6L1910.9 941.9L1912.4 944.2L1913.9 946.5L1915.4 948.7L1916.9 950.8L1918.4 952.9L1919.9 955.0L1921.4 957.0L1922.9 959.0L1924.4 960.9L1925.9 962.8L1927.4 964.7L1928.9 966.6L1930.4 968.4L1931.9 970.2L1933.4 971.9L1934.9 973.7L1936.4 975.3L1937.9 977.0L1939.4 978.6L1940.9 980.2L1942.4 981.7L1943.9 983.2L1945.4 984.7L1946.9 986.2L1948.4 987.6L1949.9 989.0L1951.4 990.4L1952.9 991.7L1954.4 993.1L1955.9 994.3L1957.4 995.6L1958.9 996.8L1960.4 998.0L1961.9 999.1L1963.4 1000.2L1964.9 1001.3L1966.4 1002.3L1967.9 1003.3L1969.4 1004.3L1970.9 1005.2L1972.4 1006.1L1973.9 1006.9L1975.4 1007.8L1976.9 1008.6L1978.4 1009.4L1979.9 1010.1L1981.4 1010.9L1982.9 1011.6L1984.4 1012.3L1985.9 1012.9L1987.4 1013.5L1988.9 1014.1L1990.4 1014.7L1991.9 1015.3L1993.4 1015.8L1994.9 1016.3L1996.4 1016.8L1997.9 1017.3L1999.4 1017.8L2000.9 1018.3L2002.4 1018.7L2003.9 1019.2L2005.4 1019.6L2006.9 1020.1L2008.4 1020.5L2009.9 1021.0L2011.4 1021.4L2012.9 1021.8L2014.4 1022.3L2015.9 1022.7L2017.4 1023.1L2018.9 1023.5L2020.4 1023.9L2021.9 1024.3L2023.4 1024.7L2024.9 1025.1L2026.4 1025.4L2027.9 1025.8L2029.4 1026.1L2030.9 1026.4L2032.4 1026.7L2033.9 1027.0L2035.4 1027.3L2036.9 1027.6L2038.4 1027.9L2039.9 1028.2L2041.4 1028.4L2042.9 1028.7L2044.4 1029.0L2045.9 1029.2L2047.4 1029.5L2048.9 1029.8L2050.4 1030.0L2051.9 1030.3L2053.4 1030.5L2054.9 1030.8L2056.4 1031.0L2057.9 1031.2L2059.4 1031.5L2060.9 1031.7L2062.4 1031.9L2063.9 1032.2L2065.4 1032.4"/>
<path class="blk" d="M268.4 1041.4L269.9 1041.2L271.4 1041.1L272.9 1041.0L274.4 1040.9L275.9 1040.8L277.4 1040.8L278.9 1040.7L280.4 1040.6L281.9 1040.5L283.4 1040.4L284.9 1040.3L286.4 1040.2L287.9 1040.1L289.4 1040.0L290.9 1039.9L292.4 1039.8L293.9 1039.7L295.4 1039.6L296.9 1039.5L298.4 1039.4L299.9 1039.3L301.4 1039.2L302.9 1039.1L304.4 1039.0L305.9 1038.8L307.4 1038.7L308.9 1038.6L310.4 1038.5L311.9 1038.4L313.4 1038.3L314.9 1038.2L316.4 1038.1L317.9 1038.0L319.4 1037.9L320.9 1037.8L322.4 1037.6L323.9 1037.5L325.4 1037.4L326.9 1037.3L328.4 1037.2L329.9 1037.1L331.4 1036.9L332.9 1036.8L334.4 1036.7L335.9 1036.6L337.4 1036.5L338.9 1036.3L340.4 1036.2L341.9 1036.1L343.4 1036.0L344.9 1035.8L346.4 1035.7L347.9 1035.6L349.4 1035.4L350.9 1035.3L352.4 1035.2L353.9 1035.0L355.4 1034.9L356.9 1034.8L358.4 1034.6L359.9 1034.5L361.4 1034.3L362.9 1034.2L364.4 1034.1L365.9 1033.9L367.4 1033.8L368.9 1033.6L370.4 1033.5L371.9 1033.3L373.4 1033.2L374.9 1033.0L376.4 1032.9L377.9 1032.7L379.4 1032.5L380.9 1032.4L382.4 1032.2L383.9 1032.1L385.4 1031.9L386.9 1031.7L388.4 1031.6L389.9 1031.4L391.4 1031.2L392.9 1031.1L394.4 1030.9L395.9 1030.7L397.4 1030.6L398.9 1030.4L400.4 1030.2L401.9 1030.1L403.4 1029.9L404.9 1029.7L406.4 1029.5L407.9 1029.4L409.4 1029.2L410.9 1029.0L412.4 1028.8L413.9 1028.6L415.4 1028.5L416.9 1028.3L418.4 1028.1L419.9 1027.9L421.4 1027.7L422.9 1027.6L424.4 1027.4L425.9 1027.2L427.4 1027.0L428.9 1026.8L430.4 1026.6L431.9 1026.4L433.4 1026.2L434.9 1026.0L436.4 1025.8L437.9 1025.6L439.4 1025.5L440.9 1025.3L442.4 1025.1L443.9 1024.9L445.4 1024.7L446.9 1024.5L448.4 1024.3L449.9 1024.0L451.4 1023.8L452.9 1023.6L454.4 1023.4L455.9 1023.2L457.4 1023.0L458.9 1022.8L460.4 1022.6L461.9 1022.4L463.4 1022.2L464.9 1022.0L466.4 1021.8L467.9 1021.5L469.4 1021.3L470.9 1021.1L472.4 1020.9L473.9 1020.7L475.4 1020.5L476.9 1020.2L478.4 1020.0L479.9 1019.8L481.4 1019.6L482.9 1019.4L484.4 1019.2L485.9 1018.9L487.4 1018.7L488.9 1018.5L490.4 1018.3L491.9 1018.0L493.4 1017.8L494.9 1017.6L496.4 1017.4L497.9 1017.1L499.4 1016.9L500.9 1016.7L502.4 1016.4L503.9 1016.2L505.4 1015.9L506.9 1015.7L508.4 1015.5L509.9 1015.2L511.4 1015.0L512.9 1014.7L514.4 1014.5L515.9 1014.2L517.4 1014.0L518.9 1013.7L520.4 1013.4L521.9 1013.2L523.4 1012.9L524.9 1012.7L526.4 1012.4L527.9 1012.1L529.4 1011.9L530.9 1011.6L532.4 1011.3L533.9 1011.1L535.4 1010.8L536.9 1010.5L538.4 1010.2L539.9 1009.9L541.4 1009.6L542.9 1009.4L544.4 1009.1L545.9 1008.8L547.4 1008.5L548.9 1008.2L550.4 1007.9L551.9 1007.5L553.4 1007.2L554.9 1006.9L556.4 1006.5L557.9 1006.2L559.4 1005.8L560.9 1005.5L562.4 1005.1L563.9 1004.7L565.4 1004.3L566.9 1003.9L568.4 1003.6L569.9 1003.1L571.4 1002.7L572.9 1002.3L574.4 1001.9L575.9 1001.5L577.4 1001.0L578.9 1000.6L580.4 1000.2L581.9 999.7L583.4 999.3L584.9 998.8L586.4 998.4L587.9 997.9L589.4 997.4L590.9 997.0L592.4 996.5L593.9 996.0L595.4 995.5L596.9 995.0L598.4 994.5L599.9 994.0L601.4 993.5L602.9 993.0L604.4 992.5L605.9 991.9L607.4 991.4L608.9 990.9L610.4 990.4L611.9 989.8L613.4 989.3L614.9 988.7L616.4 988.2L617.9 987.7L619.4 987.1L620.9 986.6L622.4 986.0L623.9 985.5L625.4 984.9L626.9 984.3L628.4 983.8L629.9 983.2L631.4 982.7L632.9 982.1L634.4 981.5L635.9 981.0L637.4 980.4L638.9 979.8L640.4 979.3L641.9 978.7L643.4 978.1L644.9 977.5L646.4 977.0L647.9 976.4L649.4 975.8L650.9 975.2L652.4 974.6L653.9 974.1L655.4 973.5L656.9 972.9L658.4 972.3L659.9 971.7L661.4 971.2L662.9 970.6L664.4 970.0L665.9 969.4L667.4 968.8L668.9 968.3L670.4 967.7L671.9 967.1L673.4 966.5L674.9 966.0L676.4 965.4L677.9 964.8L679.4 964.2L680.9 963.6L682.4 963.1L683.9 962.5L685.4 961.9L686.9 961.3L688.4 960.7L689.9 960.2L691.4 959.6L692.9 959.0L694.4 958.4L695.9 957.8L697.4 957.2L698.9 956.6L700.4 956.0L701.9 955.4L703.4 954.9L704.9 954.3L706.4 953.7L707.9 953.1L709.4 952.6L710.9 952.0L712.4 951.4L713.9 950.9L715.4 950.3L716.9 949.7L718.4 949.2L719.9 948.6L721.4 948.1L722.9 947.5L724.4 947.0L725.9 946.4L727.4 945.9L728.9 945.4L730.4 944.8L731.9 944.3L733.4 943.7L734.9 943.2L736.4 942.6L737.9 942.1L739.4 941.5L740.9 940.9L742.4 940.4L743.9 939.8L745.4 939.2L746.9 938.7L748.4 938.1L749.9 937.5L751.4 936.9L752.9 936.3L754.4 935.7L755.9 935.1L757.4 934.5L758.9 933.9L760.4 933.3L761.9 932.7L763.4 932.1L764.9 931.5L766.4 930.9L767.9 930.3L769.4 929.7L770.9 929.0L772.4 928.4L773.9 927.8L775.4 927.2L776.9 926.6L778.4 926.0L779.9 925.3L781.4 924.7L782.9 924.1L784.4 923.5L785.9 922.9L787.4 922.3L788.9 921.7L790.4 921.0L791.9 920.4L793.4 919.8L794.9 919.2L796.4 918.6L797.9 918.0L799.4 917.4L800.9 916.8L802.4 916.2L803.9 915.6L805.4 914.9L806.9 914.3L808.4 913.7L809.9 913.1L811.4 912.5L812.9 911.8L814.4 911.2L815.9 910.6L817.4 910.0L818.9 909.3L820.4 908.7L821.9 908.0L823.4 907.3L824.9 906.7L826.4 905.9L827.9 905.2L829.4 904.5L830.9 903.7L832.4 902.9L833.9 902.0L835.4 901.2L836.9 900.3L838.4 899.5L839.9 898.6L841.4 897.6L842.9 896.7L844.4 895.8L845.9 894.8L847.4 893.9L848.9 892.9L850.4 891.9L851.9 890.9L853.4 890.0L854.9 889.0L856.4 888.0L857.9 887.0L859.4 886.0L860.9 885.0L862.4 884.0L863.9 883.0L865.4 882.1L866.9 881.1L868.4 880.1L869.9 879.2L871.4 878.2L872.9 877.2L874.4 876.2L875.9 875.3L877.4 874.3L878.9 873.3L880.4 872.3L881.9 871.3L883.4 870.3L884.9 869.3L886.4 868.3L887.9 867.3L889.4 866.3L890.9 865.3L892.4 864.3L893.9 863.3L895.4 862.2L896.9 861.2L898.4 860.2L899.9 859.2L901.4 858.1L902.9 857.1L904.4 856.1L905.9 855.1L907.4 854.0L908.9 853.0L910.4 852.0L911.9 850.9L913.4 849.9L914.9 848.9L916.4 847.8L917.9 846.8L919.4 845.7L920.9 844.7L922.4 843.6L923.9 842.6L925.4 841.5L926.9 840.5L928.4 839.4L929.9 838.3L931.4 837.3L932.9 836.2L934.4 835.1L935.9 834.0L937.4 832.9L938.9 831.8L940.4 830.7L941.9 829.6L943.4 828.5L944.9 827.3L946.4 826.2L947.9 825.0L949.4 823.8L950.9 822.6L952.4 821.4L953.9 820.2L955.4 818.9L956.9 817.6L958.4 816.3L959.9 815.0L961.4 813.7L962.9 812.3L964.4 811.0L965.9 809.7L967.4 808.4L968.9 807.0L970.4 805.7L971.9 804.5L973.4 803.2L974.9 801.9L976.4 800.7L977.9 799.5L979.4 798.4L980.9 797.3L982.4 796.2L983.9 795.1L985.4 794.1L986.9 793.2L988.4 792.2L989.9 791.3L991.4 790.4L992.9 789.5L994.4 788.6L995.9 787.7L997.4 786.9L998.9 786.0L1000.4 785.3L1001.9 784.5L1003.4 783.8L1004.9 783.1L1006.4 782.5L1007.9 782.0L1009.4 781.5L1010.9 781.0L1012.4 780.6L1013.9 780.3L1015.4 779.9L1016.9 779.6L1018.4 779.3L1019.9 779.0L1021.4 778.7L1022.9 778.5L1024.4 778.2L1025.9 778.0L1027.4 777.8L1028.9 777.6L1030.4 777.3L1031.9 777.1L1033.4 777.0L1034.9 776.8L1036.4 776.6L1037.9 776.5L1039.4 776.3L1040.9 776.2L1042.4 776.0L1043.9 775.9L1045.4 775.8L1046.9 775.7L1048.4 775.6L1049.9 775.4L1051.4 775.3L1052.9 775.2L1054.4 775.0L1055.9 774.8L1057.4 774.6L1058.9 774.3L1060.4 774.0L1061.9 773.7L1063.4 773.3L1064.9 772.9L1066.4 772.4L1067.9 771.8L1069.4 771.1L1070.9 770.4L1072.4 769.6L1073.9 768.7L1075.4 767.6L1076.9 766.5L1078.4 765.2L1079.9 763.9L1081.4 762.5L1082.9 761.1L1084.4 759.5L1085.9 757.9L1087.4 756.3L1088.9 754.6L1090.4 752.9L1091.9 751.2L1093.4 749.5L1094.9 747.8L1096.4 746.2L1097.9 744.5L1099.4 742.9L1100.9 741.2L1102.4 739.6L1103.9 738.0L1105.4 736.4L1106.9 734.7L1108.4 733.1L1109.9 731.5L1111.4 729.9L1112.9 728.3L1114.4 726.7L1115.9 725.1L1117.4 723.4L1118.9 721.8L1120.4 720.2L1121.9 718.6L1123.4 716.9L1124.9 715.3L1126.4 713.6L1127.9 712.0L1129.4 710.3L1130.9 708.6L1132.4 707.0L1133.9 705.4L1135.4 703.8L1136.9 702.2L1138.4 700.7L1139.9 699.1L1141.4 697.6L1142.9 696.1L1144.4 694.6L1145.9 693.2L1147.4 691.7L1148.9 690.3L1150.4 688.9L1151.9 687.5L1153.4 686.1L1154.9 684.8L1156.4 683.5L1157.9 682.2L1159.4 680.9L1160.9 679.5L1162.4 678.2L1163.9 676.9L1165.4 675.5L1166.9 674.2L1168.4 672.8L1169.9 671.3L1171.4 669.9L1172.9 668.4L1174.4 666.8L1175.9 665.2L1177.4 663.4L1178.9 661.5L1180.4 659.5L1181.9 657.3L1183.4 655.0L1184.9 652.6L1186.4 650.0L1187.9 647.3L1189.4 644.5L1190.9 641.6L1192.4 638.5L1193.9 635.4L1195.4 632.1L1196.9 628.8L1198.4 625.4L1199.9 622.0L1201.4 618.5L1202.9 615.0L1204.4 611.5L1205.9 607.9L1207.4 604.3L1208.9 600.7L1210.4 597.1L1211.9 593.6L1213.4 590.1L1214.9 586.7L1216.4 583.3L1217.9 579.9L1219.4 576.7L1220.9 573.4L1222.4 570.3L1223.9 567.4L1225.4 564.6L1226.9 562.0L1228.4 559.5L1229.9 557.2L1231.4 555.0L1232.9 553.0L1234.4 551.1L1235.9 549.4L1237.4 547.8L1238.9 546.4L1240.4 545.1L1241.9 543.8L1243.4 542.6L1244.9 541.5L1246.4 540.5L1247.9 539.5L1249.4 538.6L1250.9 537.8L1252.4 537.2L1253.9 536.7L1255.4 536.3L1256.9 536.1L1258.4 536.1L1259.9 536.3L1261.4 536.7L1262.9 537.3L1264.4 538.1L1265.9 539.0L1267.4 540.1L1268.9 541.4L1270.4 542.9L1271.9 544.7L1273.4 546.9L1274.9 549.5L1276.4 552.3L1277.9 555.3L1279.4 558.3L1280.9 561.3L1282.4 564.3L1283.9 567.2L1285.4 570.1L1286.9 572.9L1288.4 575.7L1289.9 578.5L1291.4 581.2L1292.9 583.8L1294.4 586.3L1295.9 588.6L1297.4 590.7L1298.9 592.5L1300.4 594.2L1301.9 595.6L1303.4 596.9L1304.9 598.1L1306.4 599.2L1307.9 600.2L1309.4 601.2L1310.9 602.1L1312.4 602.9L1313.9 603.6L1315.4 604.3L1316.9 605.0L1318.4 605.6L1319.9 606.2L1321.4 606.7L1322.9 607.2L1324.4 607.7L1325.9 608.2L1327.4 608.6L1328.9 609.0L1330.4 609.4L1331.9 609.7L1333.4 610.0L1334.9 610.2L1336.4 610.3L1337.9 610.3L1339.4 610.3L1340.9 610.2L1342.4 610.1L1343.9 609.9L1345.4 609.6L1346.9 609.4L1348.4 609.0L1349.9 608.7L1351.4 608.3L1352.9 607.9L1354.4 607.3L1355.9 606.7L1357.4 605.9L1358.9 605.0L1360.4 603.9L1361.9 602.6L1363.4 601.3L1364.9 599.8L1366.4 598.2L1367.9 596.7L1369.4 595.1L1370.9 593.6L1372.4 592.1L1373.9 590.7L1375.4 589.3L1376.9 588.1L1378.4 586.9L1379.9 585.7L1381.4 584.6L1382.9 583.6L1384.4 582.6L1385.9 581.7L1387.4 581.0L1388.9 580.3L1390.4 579.7L1391.9 579.2L1393.4 578.7L1394.9 578.2L1396.4 577.8L1397.9 577.3L1399.4 576.9L1400.9 576.5L1402.4 576.1L1403.9 575.7L1405.4 575.3L1406.9 574.9L1408.4 574.5L1409.9 574.1L1411.4 573.7L1412.9 573.1L1414.4 572.5L1415.9 571.6L1417.4 570.4L1418.9 568.8L1420.4 566.5L1421.9 563.7L1423.4 560.2L1424.9 556.1L1426.4 551.2L1427.9 545.6L1429.4 539.3L1430.9 532.3L1432.4 524.8L1433.9 517.1L1435.4 509.3L1436.9 501.7L1438.4 494.2L1439.9 486.8L1441.4 479.5L1442.9 472.3L1444.4 465.1L1445.9 458.0L1447.4 451.0L1448.9 444.1L1450.4 437.4L1451.9 430.7L1453.4 424.2L1454.9 417.9L1456.4 411.8L1457.9 405.8L1459.4 400.1L1460.9 394.5L1462.4 389.2L1463.9 384.0L1465.4 379.0L1466.9 374.1L1468.4 369.3L1469.9 364.5L1471.4 359.8L1472.9 355.2L1474.4 350.5L1475.9 345.7L1477.4 340.9L1478.9 336.0L1480.4 330.9L1481.9 325.7L1483.4 320.3L1484.9 314.7L1486.4 308.9L1487.9 303.1L1489.4 297.2L1490.9 291.4L1492.4 285.7L1493.9 280.3L1495.4 275.2L1496.9 270.3L1498.4 265.8L1499.9 261.8L1501.4 258.5L1502.9 256.2L1504.4 255.3L1505.9 255.8L1507.4 257.8L1508.9 261.1L1510.4 265.3L1511.9 270.2L1513.4 275.6L1514.9 281.4L1516.4 287.5L1517.9 294.0L1519.4 300.6L1520.9 307.2L1522.4 313.7L1523.9 320.1L1525.4 326.1L1526.9 332.0L1528.4 337.5L1529.9 342.9L1531.4 348.2L1532.9 353.4L1534.4 358.6L1535.9 363.7L1537.4 369.0L1538.9 374.3L1540.4 379.8L1541.9 385.5L1543.4 391.4L1544.9 397.6L1546.4 404.1L1547.9 411.0L1549.4 418.3L1550.9 425.9L1552.4 433.8L1553.9 442.0L1555.4 450.3L1556.9 458.7L1558.4 467.1L1559.9 475.6L1561.4 483.9L1562.9 492.2L1564.4 500.3L1565.9 508.4L1567.4 516.3L1568.9 524.2L1570.4 531.9L1571.9 539.5L1573.4 546.8L1574.9 553.8L1576.4 560.5L1577.9 566.8L1579.4 572.8L1580.9 578.4L1582.4 583.6L1583.9 588.5L1585.4 593.0L1586.9 597.1L1588.4 601.0L1589.9 604.6L1591.4 608.0L1592.9 611.3L1594.4 614.6L1595.9 617.8L1597.4 620.9L1598.9 624.0L1600.4 627.0L1601.9 630.0L1603.4 633.0L1604.9 635.9L1606.4 638.8L1607.9 641.6L1609.4 644.5L1610.9 647.3L1612.4 650.1L1613.9 652.8L1615.4 655.6L1616.9 658.3L1618.4 661.1L1619.9 663.8L1621.4 666.6L1622.9 669.4L1624.4 672.2L1625.9 675.0L1627.4 677.8L1628.9 680.7L1630.4 683.5L1631.9 686.4L1633.4 689.1L1634.9 691.9L1636.4 694.6L1637.9 697.3L1639.4 699.9L1640.9 702.5L1642.4 705.0L1643.9 707.5L1645.4 710.0L1646.9 712.4L1648.4 714.8L1649.9 717.2L1651.4 719.4L1652.9 721.7L1654.4 723.8L1655.9 725.9L1657.4 727.8L1658.9 729.7L1660.4 731.3L1661.9 732.7L1663.4 733.8L1664.9 734.5L1666.4 734.8L1667.9 734.7L1669.4 734.3L1670.9 733.7L1672.4 733.1L1673.9 732.3L1675.4 731.5L1676.9 730.6L1678.4 729.7L1679.9 728.6L1681.4 727.5L1682.9 726.2L1684.4 724.8L1685.9 723.2L1687.4 721.5L1688.9 719.6L1690.4 717.6L1691.9 715.3L1693.4 712.9L1694.9 710.2L1696.4 707.2L1697.9 703.8L1699.4 700.1L1700.9 696.0L1702.4 691.3L1703.9 685.9L1705.4 679.7L1706.9 672.5L1708.4 664.3L1709.9 655.0L1711.4 644.8L1712.9 633.7L1714.4 622.0L1715.9 609.8L1717.4 597.3L1718.9 584.9L1720.4 572.8L1721.9 561.2L1723.4 550.2L1724.9 539.8L1726.4 529.9L1727.9 520.4L1729.4 511.2L1730.9 502.2L1732.4 493.4L1733.9 484.6L1735.4 475.7L1736.9 466.9L1738.4 457.9L1739.9 449.0L1741.4 440.1L1742.9 431.5L1744.4 423.4L1745.9 415.7L1747.4 408.8L1748.9 402.5L1750.4 397.0L1751.9 392.2L1753.4 387.8L1754.9 383.9L1756.4 380.3L1757.9 376.9L1759.4 373.8L1760.9 370.8L1762.4 367.8L1763.9 365.0L1765.4 362.1L1766.9 359.3L1768.4 356.6L1769.9 354.1L1771.4 351.7L1772.9 349.7L1774.4 348.1L1775.9 346.9L1777.4 346.2L1778.9 346.2L1780.4 346.9L1781.9 348.4L1783.4 350.8L1784.9 354.2L1786.4 359.0L1787.9 365.4L1789.4 373.5L1790.9 383.2L1792.4 393.7L1793.9 404.6L1795.4 415.4L1796.9 425.9L1798.4 436.1L1799.9 446.2L1801.4 456.2L1802.9 466.4L1804.4 476.8L1805.9 487.4L1807.4 498.3L1808.9 509.3L1810.4 520.5L1811.9 531.8L1813.4 543.2L1814.9 554.5L1816.4 565.8L1817.9 576.9L1819.4 587.9L1820.9 598.6L1822.4 609.1L1823.9 619.3L1825.4 629.2L1826.9 638.8L1828.4 648.3L1829.9 657.6L1831.4 666.7L1832.9 675.7L1834.4 684.7L1835.9 693.4L1837.4 702.1L1838.9 710.6L1840.4 719.0L1841.9 727.3L1843.4 735.3L1844.9 743.2L1846.4 751.0L1847.9 758.6L1849.4 766.0L1850.9 773.2L1852.4 780.2L1853.9 787.0L1855.4 793.6L1856.9 800.1L1858.4 806.3L1859.9 812.5L1861.4 818.5L1862.9 824.3L1864.4 830.0L1865.9 835.6L1867.4 841.1L1868.9 846.4L1870.4 851.6L1871.9 856.7L1873.4 861.7L1874.9 866.6L1876.4 871.3L1877.9 876.0L1879.4 880.5L1880.9 885.0L1882.4 889.3L1883.9 893.6L1885.4 897.8L1886.9 901.9L1888.4 905.9L1889.9 909.7L1891.4 913.5L1892.9 917.2L1894.4 920.7L1895.9 924.1L1897.4 927.3L1898.9 930.5L1900.4 933.5L1901.9 936.4L1903.4 939.2L1904.9 942.0L1906.4 944.6L1907.9 947.1L1909.4 949.6L1910.9 952.0L1912.4 954.2L1913.9 956.5L1915.4 958.6L1916.9 960.7L1918.4 962.8L1919.9 964.8L1921.4 966.7L1922.9 968.6L1924.4 970.5L1925.9 972.3L1927.4 974.0L1928.9 975.8L1930.4 977.5L1931.9 979.2L1933.4 980.8L1934.9 982.4L1936.4 984.0L1937.9 985.5L1939.4 987.0L1940.9 988.5L1942.4 989.9L1943.9 991.4L1945.4 992.8L1946.9 994.2L1948.4 995.6L1949.9 997.0L1951.4 998.4L1952.9 999.8L1954.4 1001.2L1955.9 1002.6L1957.4 1003.9L1958.9 1005.3L1960.4 1006.6L1961.9 1007.8L1963.4 1009.1L1964.9 1010.3L1966.4 1011.4L1967.9 1012.6L1969.4 1013.7L1970.9 1014.8L1972.4 1015.8L1973.9 1016.9L1975.4 1017.9L1976.9 1018.9L1978.4 1019.9L1979.9 1020.8L1981.4 1021.7L1982.9 1022.6L1984.4 1023.5L1985.9 1024.3L1987.4 1025.2L1988.9 1025.9L1990.4 1026.7L1991.9 1027.5L1993.4 1028.2L1994.9 1028.9L1996.4 1029.5L1997.9 1030.2L1999.4 1030.8L2000.9 1031.5L2002.4 1032.1L2003.9 1032.7L2005.4 1033.3L2006.9 1033.9L2008.4 1034.5L2009.9 1035.0L2011.4 1035.6L2012.9 1036.2L2014.4 1036.8L2015.9 1037.3L2017.4 1037.9L2018.9 1038.4L2020.4 1038.9L2021.9 1039.5L2023.4 1040.0L2024.9 1040.5L2026.4 1041.0L2027.9 1041.4L2029.4 1041.9L2030.9 1042.4L2032.4 1042.8L2033.9 1043.2L2035.4 1043.6L2036.9 1044.1L2038.4 1044.5L2039.9 1044.9L2041.4 1045.3L2042.9 1045.6L2044.4 1046.0L2045.9 1046.4L2047.4 1046.8L2048.9 1047.1L2050.4 1047.5L2051.9 1047.9L2053.4 1048.2L2054.9 1048.6L2056.4 1048.9L2057.9 1049.3L2059.4 1049.6L2060.9 1050.0L2062.4 1050.3L2063.9 1050.5L2065.4 1050.8"/>
<path class="blk" d="M268.4 944.1L269.9 943.9L271.4 943.9L272.9 943.9L274.4 944.0L275.9 944.0L277.4 944.0L278.9 944.1L280.4 944.1L281.9 944.1L283.4 944.1L284.9 944.1L286.4 944.2L287.9 944.2L289.4 944.2L290.9 944.2L292.4 944.2L293.9 944.3L295.4 944.3L296.9 944.3L298.4 944.3L299.9 944.3L301.4 944.3L302.9 944.3L304.4 944.3L305.9 944.3L307.4 944.3L308.9 944.4L310.4 944.4L311.9 944.4L313.4 944.4L314.9 944.4L316.4 944.4L317.9 944.4L319.4 944.4L320.9 944.4L322.4 944.4L323.9 944.3L325.4 944.3L326.9 944.3L328.4 944.3L329.9 944.3L331.4 944.3L332.9 944.3L334.4 944.3L335.9 944.2L337.4 944.2L338.9 944.2L340.4 944.2L341.9 944.2L343.4 944.1L344.9 944.1L346.4 944.1L347.9 944.1L349.4 944.0L350.9 944.0L352.4 943.9L353.9 943.9L355.4 943.9L356.9 943.8L358.4 943.8L359.9 943.7L361.4 943.7L362.9 943.6L364.4 943.6L365.9 943.5L367.4 943.5L368.9 943.4L370.4 943.4L371.9 943.3L373.4 943.2L374.9 943.2L376.4 943.1L377.9 943.1L379.4 943.0L380.9 942.9L382.4 942.8L383.9 942.8L385.4 942.7L386.9 942.6L388.4 942.5L389.9 942.4L391.4 942.4L392.9 942.3L394.4 942.2L395.9 942.1L397.4 942.0L398.9 941.9L400.4 941.8L401.9 941.7L403.4 941.6L404.9 941.5L406.4 941.4L407.9 941.3L409.4 941.2L410.9 941.1L412.4 941.0L413.9 940.8L415.4 940.7L416.9 940.6L418.4 940.5L419.9 940.4L421.4 940.3L422.9 940.1L424.4 940.0L425.9 939.9L427.4 939.8L428.9 939.6L430.4 939.5L431.9 939.4L433.4 939.2L434.9 939.1L436.4 939.0L437.9 938.8L439.4 938.7L440.9 938.6L442.4 938.4L443.9 938.3L445.4 938.1L446.9 938.0L448.4 937.8L449.9 937.7L451.4 937.5L452.9 937.4L454.4 937.2L455.9 937.1L457.4 936.9L458.9 936.8L460.4 936.6L461.9 936.5L463.4 936.3L464.9 936.1L466.4 936.0L467.9 935.8L469.4 935.7L470.9 935.5L472.4 935.3L473.9 935.2L475.4 935.0L476.9 934.8L478.4 934.7L479.9 934.5L481.4 934.3L482.9 934.2L484.4 934.0L485.9 933.8L487.4 933.7L488.9 933.5L490.4 933.3L491.9 933.1L493.4 933.0L494.9 932.8L496.4 932.6L497.9 932.4L499.4 932.3L500.9 932.1L502.4 931.9L503.9 931.7L505.4 931.5L506.9 931.3L508.4 931.1L509.9 931.0L511.4 930.8L512.9 930.6L514.4 930.4L515.9 930.2L517.4 930.0L518.9 929.8L520.4 929.6L521.9 929.4L523.4 929.2L524.9 929.0L526.4 928.8L527.9 928.6L529.4 928.4L530.9 928.1L532.4 927.9L533.9 927.7L535.4 927.5L536.9 927.3L538.4 927.1L539.9 926.8L541.4 926.6L542.9 926.4L544.4 926.2L545.9 925.9L547.4 925.7L548.9 925.5L550.4 925.2L551.9 925.0L553.4 924.7L554.9 924.5L556.4 924.2L557.9 924.0L559.4 923.7L560.9 923.5L562.4 923.2L563.9 922.9L565.4 922.7L566.9 922.4L568.4 922.1L569.9 921.8L571.4 921.6L572.9 921.3L574.4 921.0L575.9 920.7L577.4 920.4L578.9 920.1L580.4 919.8L581.9 919.5L583.4 919.2L584.9 918.9L586.4 918.6L587.9 918.3L589.4 918.0L590.9 917.7L592.4 917.4L593.9 917.1L595.4 916.7L596.9 916.4L598.4 916.1L599.9 915.8L601.4 915.4L602.9 915.1L604.4 914.8L605.9 914.4L607.4 914.1L608.9 913.8L610.4 913.4L611.9 913.1L613.4 912.7L614.9 912.4L616.4 912.0L617.9 911.7L619.4 911.3L620.9 910.9L622.4 910.6L623.9 910.2L625.4 909.9L626.9 909.5L628.4 909.1L629.9 908.8L631.4 908.4L632.9 908.1L634.4 907.7L635.9 907.3L637.4 906.9L638.9 906.6L640.4 906.2L641.9 905.8L643.4 905.4L644.9 905.1L646.4 904.7L647.9 904.3L649.4 903.9L650.9 903.5L652.4 903.1L653.9 902.8L655.4 902.4L656.9 902.0L658.4 901.6L659.9 901.2L661.4 900.8L662.9 900.4L664.4 900.0L665.9 899.6L667.4 899.2L668.9 898.8L670.4 898.4L671.9 898.0L673.4 897.6L674.9 897.2L676.4 896.8L677.9 896.4L679.4 896.0L680.9 895.5L682.4 895.1L683.9 894.7L685.4 894.3L686.9 893.9L688.4 893.5L689.9 893.0L691.4 892.6L692.9 892.2L694.4 891.8L695.9 891.4L697.4 890.9L698.9 890.5L700.4 890.1L701.9 889.7L703.4 889.3L704.9 888.9L706.4 888.5L707.9 888.1L709.4 887.7L710.9 887.3L712.4 886.9L713.9 886.6L715.4 886.2L716.9 885.8L718.4 885.5L719.9 885.1L721.4 884.7L722.9 884.4L724.4 884.0L725.9 883.7L727.4 883.3L728.9 883.0L730.4 882.6L731.9 882.3L733.4 881.9L734.9 881.6L736.4 881.2L737.9 880.8L739.4 880.5L740.9 880.1L742.4 879.7L743.9 879.3L745.4 879.0L746.9 878.6L748.4 878.2L749.9 877.8L751.4 877.4L752.9 877.0L754.4 876.6L755.9 876.2L757.4 875.8L758.9 875.4L760.4 874.9L761.9 874.5L763.4 874.1L764.9 873.6L766.4 873.2L767.9 872.8L769.4 872.3L770.9 871.9L772.4 871.4L773.9 871.0L775.4 870.5L776.9 870.1L778.4 869.6L779.9 869.2L781.4 868.7L782.9 868.3L784.4 867.8L785.9 867.4L787.4 866.9L788.9 866.4L790.4 866.0L791.9 865.5L793.4 865.0L794.9 864.5L796.4 864.1L797.9 863.6L799.4 863.1L800.9 862.6L802.4 862.1L803.9 861.6L805.4 861.1L806.9 860.6L808.4 860.1L809.9 859.6L811.4 859.0L812.9 858.5L814.4 858.0L815.9 857.4L817.4 856.9L818.9 856.4L820.4 855.8L821.9 855.3L823.4 854.7L824.9 854.1L826.4 853.5L827.9 852.8L829.4 852.1L830.9 851.5L832.4 850.7L833.9 850.0L835.4 849.3L836.9 848.5L838.4 847.7L839.9 846.9L841.4 846.1L842.9 845.2L844.4 844.4L845.9 843.5L847.4 842.7L848.9 841.8L850.4 840.9L851.9 840.0L853.4 839.1L854.9 838.2L856.4 837.3L857.9 836.4L859.4 835.5L860.9 834.6L862.4 833.7L863.9 832.8L865.4 831.8L866.9 831.0L868.4 830.1L869.9 829.2L871.4 828.3L872.9 827.3L874.4 826.4L875.9 825.5L877.4 824.6L878.9 823.7L880.4 822.8L881.9 821.8L883.4 820.9L884.9 820.0L886.4 819.0L887.9 818.1L889.4 817.1L890.9 816.2L892.4 815.2L893.9 814.3L895.4 813.3L896.9 812.3L898.4 811.3L899.9 810.4L901.4 809.4L902.9 808.4L904.4 807.4L905.9 806.4L907.4 805.5L908.9 804.5L910.4 803.5L911.9 802.5L913.4 801.5L914.9 800.5L916.4 799.5L917.9 798.5L919.4 797.5L920.9 796.4L922.4 795.4L923.9 794.4L925.4 793.4L926.9 792.3L928.4 791.3L929.9 790.3L931.4 789.2L932.9 788.1L934.4 787.1L935.9 786.0L937.4 784.9L938.9 783.8L940.4 782.7L941.9 781.6L943.4 780.5L944.9 779.3L946.4 778.2L947.9 777.0L949.4 775.8L950.9 774.5L952.4 773.3L953.9 772.0L955.4 770.7L956.9 769.4L958.4 768.0L959.9 766.6L961.4 765.3L962.9 763.9L964.4 762.5L965.9 761.1L967.4 759.8L968.9 758.4L970.4 757.0L971.9 755.7L973.4 754.3L974.9 753.0L976.4 751.7L977.9 750.5L979.4 749.2L980.9 748.0L982.4 746.9L983.9 745.7L985.4 744.6L986.9 743.6L988.4 742.5L989.9 741.5L991.4 740.5L992.9 739.5L994.4 738.5L995.9 737.6L997.4 736.6L998.9 735.7L1000.4 734.9L1001.9 734.0L1003.4 733.2L1004.9 732.5L1006.4 731.8L1007.9 731.2L1009.4 730.6L1010.9 730.0L1012.4 729.5L1013.9 729.1L1015.4 728.7L1016.9 728.3L1018.4 727.9L1019.9 727.5L1021.4 727.2L1022.9 726.9L1024.4 726.6L1025.9 726.3L1027.4 726.0L1028.9 725.7L1030.4 725.5L1031.9 725.3L1033.4 725.1L1034.9 724.9L1036.4 724.7L1037.9 724.5L1039.4 724.4L1040.9 724.2L1042.4 724.1L1043.9 724.0L1045.4 723.9L1046.9 723.8L1048.4 723.7L1049.9 723.6L1051.4 723.5L1052.9 723.4L1054.4 723.3L1055.9 723.2L1057.4 723.0L1058.9 722.8L1060.4 722.6L1061.9 722.3L1063.4 722.0L1064.9 721.7L1066.4 721.2L1067.9 720.8L1069.4 720.2L1070.9 719.6L1072.4 718.9L1073.9 718.1L1075.4 717.2L1076.9 716.2L1078.4 715.1L1079.9 713.9L1081.4 712.7L1082.9 711.4L1084.4 710.0L1085.9 708.6L1087.4 707.1L1088.9 705.5L1090.4 704.0L1091.9 702.5L1093.4 700.9L1094.9 699.4L1096.4 697.9L1097.9 696.4L1099.4 695.0L1100.9 693.5L1102.4 692.0L1103.9 690.5L1105.4 689.0L1106.9 687.6L1108.4 686.1L1109.9 684.6L1111.4 683.2L1112.9 681.7L1114.4 680.3L1115.9 678.8L1117.4 677.4L1118.9 675.9L1120.4 674.5L1121.9 673.0L1123.4 671.5L1124.9 670.0L1126.4 668.5L1127.9 667.0L1129.4 665.5L1130.9 664.1L1132.4 662.6L1133.9 661.1L1135.4 659.7L1136.9 658.3L1138.4 656.9L1139.9 655.5L1141.4 654.2L1142.9 652.8L1144.4 651.5L1145.9 650.1L1147.4 648.8L1148.9 647.5L1150.4 646.3L1151.9 645.0L1153.4 643.7L1154.9 642.5L1156.4 641.3L1157.9 640.1L1159.4 638.9L1160.9 637.7L1162.4 636.5L1163.9 635.2L1165.4 633.9L1166.9 632.6L1168.4 631.3L1169.9 630.0L1171.4 628.6L1172.9 627.2L1174.4 625.7L1175.9 624.2L1177.4 622.5L1178.9 620.7L1180.4 618.8L1181.9 616.7L1183.4 614.6L1184.9 612.2L1186.4 609.8L1187.9 607.2L1189.4 604.6L1190.9 601.8L1192.4 599.0L1193.9 596.0L1195.4 592.9L1196.9 589.8L1198.4 586.6L1199.9 583.3L1201.4 580.0L1202.9 576.7L1204.4 573.3L1205.9 570.0L1207.4 566.6L1208.9 563.2L1210.4 559.8L1211.9 556.5L1213.4 553.2L1214.9 549.9L1216.4 546.7L1217.9 543.5L1219.4 540.4L1220.9 537.4L1222.4 534.4L1223.9 531.6L1225.4 529.0L1226.9 526.5L1228.4 524.2L1229.9 522.0L1231.4 520.0L1232.9 518.0L1234.4 516.3L1235.9 514.6L1237.4 513.1L1238.9 511.8L1240.4 510.5L1241.9 509.4L1243.4 508.2L1244.9 507.2L1246.4 506.2L1247.9 505.3L1249.4 504.4L1250.9 503.7L1252.4 503.1L1253.9 502.6L1255.4 502.2L1256.9 502.1L1258.4 502.1L1259.9 502.3L1261.4 502.6L1262.9 503.2L1264.4 503.9L1265.9 504.8L1267.4 505.8L1268.9 507.0L1270.4 508.5L1271.9 510.3L1273.4 512.3L1274.9 514.7L1276.4 517.4L1277.9 520.2L1279.4 523.1L1280.9 526.0L1282.4 528.8L1283.9 531.5L1285.4 534.2L1286.9 536.9L1288.4 539.6L1289.9 542.3L1291.4 544.8L1292.9 547.3L1294.4 549.6L1295.9 551.8L1297.4 553.7L1298.9 555.5L1300.4 557.1L1301.9 558.5L1303.4 559.7L1304.9 560.8L1306.4 561.8L1307.9 562.8L1309.4 563.7L1310.9 564.5L1312.4 565.3L1313.9 566.0L1315.4 566.7L1316.9 567.3L1318.4 567.9L1319.9 568.4L1321.4 569.0L1322.9 569.4L1324.4 569.9L1325.9 570.4L1327.4 570.8L1328.9 571.2L1330.4 571.5L1331.9 571.8L1333.4 572.1L1334.9 572.2L1336.4 572.3L1337.9 572.4L1339.4 572.4L1340.9 572.3L1342.4 572.1L1343.9 572.0L1345.4 571.7L1346.9 571.5L1348.4 571.2L1349.9 570.8L1351.4 570.5L1352.9 570.0L1354.4 569.5L1355.9 568.9L1357.4 568.2L1358.9 567.3L1360.4 566.3L1361.9 565.1L1363.4 563.8L1364.9 562.4L1366.4 560.9L1367.9 559.5L1369.4 558.0L1370.9 556.5L1372.4 555.1L1373.9 553.8L1375.4 552.5L1376.9 551.3L1378.4 550.2L1379.9 549.1L1381.4 548.0L1382.9 547.0L1384.4 546.1L1385.9 545.3L1387.4 544.6L1388.9 544.0L1390.4 543.4L1391.9 542.9L1393.4 542.4L1394.9 542.0L1396.4 541.5L1397.9 541.1L1399.4 540.7L1400.9 540.3L1402.4 539.9L1403.9 539.6L1405.4 539.2L1406.9 538.8L1408.4 538.5L1409.9 538.1L1411.4 537.7L1412.9 537.2L1414.4 536.5L1415.9 535.7L1417.4 534.6L1418.9 533.0L1420.4 530.9L1421.9 528.2L1423.4 524.9L1424.9 521.0L1426.4 516.4L1427.9 511.1L1429.4 505.1L1430.9 498.5L1432.4 491.4L1433.9 484.1L1435.4 476.8L1436.9 469.5L1438.4 462.4L1439.9 455.4L1441.4 448.5L1442.9 441.7L1444.4 434.9L1445.9 428.2L1447.4 421.5L1448.9 415.0L1450.4 408.6L1451.9 402.3L1453.4 396.2L1454.9 390.2L1456.4 384.4L1457.9 378.7L1459.4 373.3L1460.9 368.1L1462.4 363.0L1463.9 358.1L1465.4 353.3L1466.9 348.7L1468.4 344.1L1469.9 339.6L1471.4 335.2L1472.9 330.7L1474.4 326.3L1475.9 321.8L1477.4 317.2L1478.9 312.6L1480.4 307.8L1481.9 302.9L1483.4 297.7L1484.9 292.4L1486.4 287.0L1487.9 281.4L1489.4 275.8L1490.9 270.3L1492.4 265.0L1493.9 259.9L1495.4 255.0L1496.9 250.4L1498.4 246.1L1499.9 242.3L1501.4 239.2L1502.9 237.1L1504.4 236.2L1505.9 236.7L1507.4 238.6L1508.9 241.6L1510.4 245.6L1511.9 250.3L1513.4 255.4L1514.9 260.9L1516.4 266.7L1517.9 272.8L1519.4 279.1L1520.9 285.3L1522.4 291.5L1523.9 297.5L1525.4 303.3L1526.9 308.8L1528.4 314.1L1529.9 319.2L1531.4 324.2L1532.9 329.1L1534.4 334.0L1535.9 338.9L1537.4 343.8L1538.9 348.9L1540.4 354.1L1541.9 359.5L1543.4 365.1L1544.9 370.9L1546.4 377.1L1547.9 383.7L1549.4 390.6L1550.9 397.8L1552.4 405.3L1553.9 413.0L1555.4 420.8L1556.9 428.8L1558.4 436.8L1559.9 444.8L1561.4 452.7L1562.9 460.5L1564.4 468.2L1565.9 475.9L1567.4 483.4L1568.9 490.9L1570.4 498.2L1571.9 505.3L1573.4 512.2L1574.9 518.9L1576.4 525.2L1577.9 531.2L1579.4 536.8L1580.9 542.2L1582.4 547.1L1583.9 551.7L1585.4 556.0L1586.9 559.9L1588.4 563.5L1589.9 567.0L1591.4 570.2L1592.9 573.4L1594.4 576.4L1595.9 579.5L1597.4 582.4L1598.9 585.4L1600.4 588.2L1601.9 591.1L1603.4 593.9L1604.9 596.6L1606.4 599.4L1607.9 602.1L1609.4 604.8L1610.9 607.4L1612.4 610.1L1613.9 612.7L1615.4 615.3L1616.9 617.9L1618.4 620.5L1619.9 623.1L1621.4 625.7L1622.9 628.3L1624.4 631.0L1625.9 633.7L1627.4 636.4L1628.9 639.1L1630.4 641.8L1631.9 644.4L1633.4 647.1L1634.9 649.7L1636.4 652.2L1637.9 654.8L1639.4 657.3L1640.9 659.7L1642.4 662.1L1643.9 664.5L1645.4 666.8L1646.9 669.1L1648.4 671.4L1649.9 673.6L1651.4 675.8L1652.9 677.9L1654.4 679.9L1655.9 681.9L1657.4 683.7L1658.9 685.5L1660.4 687.0L1661.9 688.4L1663.4 689.4L1664.9 690.0L1666.4 690.3L1667.9 690.2L1669.4 689.9L1670.9 689.3L1672.4 688.7L1673.9 688.0L1675.4 687.2L1676.9 686.4L1678.4 685.5L1679.9 684.5L1681.4 683.4L1682.9 682.2L1684.4 680.9L1685.9 679.4L1687.4 677.8L1688.9 676.0L1690.4 674.1L1691.9 671.9L1693.4 669.6L1694.9 667.1L1696.4 664.2L1697.9 661.1L1699.4 657.6L1700.9 653.7L1702.4 649.2L1703.9 644.2L1705.4 638.3L1706.9 631.5L1708.4 623.7L1709.9 614.9L1711.4 605.2L1712.9 594.7L1714.4 583.7L1715.9 572.1L1717.4 560.3L1718.9 548.6L1720.4 537.1L1721.9 526.1L1723.4 515.7L1724.9 505.9L1726.4 496.5L1727.9 487.5L1729.4 478.8L1730.9 470.4L1732.4 462.0L1733.9 453.7L1735.4 445.3L1736.9 436.9L1738.4 428.5L1739.9 420.0L1741.4 411.7L1742.9 403.5L1744.4 395.8L1745.9 388.6L1747.4 382.0L1748.9 376.2L1750.4 370.9L1751.9 366.3L1753.4 362.2L1754.9 358.5L1756.4 355.2L1757.9 352.0L1759.4 349.0L1760.9 346.2L1762.4 343.4L1763.9 340.7L1765.4 338.1L1766.9 335.4L1768.4 332.9L1769.9 330.5L1771.4 328.3L1772.9 326.4L1774.4 324.9L1775.9 323.8L1777.4 323.2L1778.9 323.2L1780.4 323.9L1781.9 325.3L1783.4 327.6L1784.9 330.8L1786.4 335.4L1787.9 341.5L1789.4 349.2L1790.9 358.4L1792.4 368.4L1793.9 378.7L1795.4 389.0L1796.9 398.9L1798.4 408.6L1799.9 418.2L1801.4 427.7L1802.9 437.4L1804.4 447.3L1805.9 457.3L1807.4 467.6L1808.9 478.1L1810.4 488.8L1811.9 499.5L1813.4 510.3L1814.9 521.1L1816.4 531.8L1817.9 542.4L1819.4 552.8L1820.9 563.0L1822.4 572.9L1823.9 582.6L1825.4 592.0L1826.9 601.2L1828.4 610.2L1829.9 619.0L1831.4 627.7L1832.9 636.3L1834.4 644.7L1835.9 653.1L1837.4 661.3L1838.9 669.4L1840.4 677.4L1841.9 685.2L1843.4 692.9L1844.9 700.5L1846.4 707.8L1847.9 715.0L1849.4 722.1L1850.9 728.9L1852.4 735.6L1853.9 742.1L1855.4 748.4L1856.9 754.6L1858.4 760.6L1859.9 766.4L1861.4 772.1L1862.9 777.7L1864.4 783.2L1865.9 788.5L1867.4 793.7L1868.9 798.8L1870.4 803.8L1871.9 808.6L1873.4 813.4L1874.9 818.0L1876.4 822.6L1877.9 827.0L1879.4 831.4L1880.9 835.6L1882.4 839.8L1883.9 843.9L1885.4 847.9L1886.9 851.8L1888.4 855.7L1889.9 859.4L1891.4 863.0L1892.9 866.5L1894.4 869.9L1895.9 873.1L1897.4 876.3L1898.9 879.3L1900.4 882.2L1901.9 885.0L1903.4 887.7L1904.9 890.4L1906.4 893.0L1907.9 895.6L1909.4 898.1L1910.9 900.6L1912.4 903.1L1913.9 905.5L1915.4 907.9L1916.9 910.2L1918.4 912.5L1919.9 914.8L1921.4 917.0L1922.9 919.2L1924.4 921.4L1925.9 923.6L1927.4 925.7L1928.9 927.8L1930.4 929.8L1931.9 931.8L1933.4 933.8L1934.9 935.7L1936.4 937.6L1937.9 939.4L1939.4 941.2L1940.9 942.9L1942.4 944.6L1943.9 946.2L1945.4 947.8L1946.9 949.3L1948.4 950.8L1949.9 952.2L1951.4 953.6L1952.9 955.0L1954.4 956.3L1955.9 957.6L1957.4 958.8L1958.9 960.0L1960.4 961.2L1961.9 962.3L1963.4 963.4L1964.9 964.4L1966.4 965.4L1967.9 966.3L1969.4 967.3L1970.9 968.1L1972.4 969.0L1973.9 969.8L1975.4 970.6L1976.9 971.4L1978.4 972.1L1979.9 972.8L1981.4 973.5L1982.9 974.1L1984.4 974.8L1985.9 975.4L1987.4 976.0L1988.9 976.5L1990.4 977.0L1991.9 977.5L1993.4 978.0L1994.9 978.5L1996.4 979.0L1997.9 979.4L1999.4 979.9L2000.9 980.3L2002.4 980.7L2003.9 981.1L2005.4 981.6L2006.9 982.0L2008.4 982.4L2009.9 982.8L2011.4 983.2L2012.9 983.6L2014.4 984.0L2015.9 984.4L2017.4 984.7L2018.9 985.1L2020.4 985.5L2021.9 985.8L2023.4 986.1L2024.9 986.5L2026.4 986.8L2027.9 987.1L2029.4 987.4L2030.9 987.7L2032.4 987.9L2033.9 988.2L2035.4 988.4L2036.9 988.7L2038.4 988.9L2039.9 989.2L2041.4 989.4L2042.9 989.6L2044.4 989.8L2045.9 990.0L2047.4 990.2L2048.9 990.4L2050.4 990.7L2051.9 990.8L2053.4 991.0L2054.9 991.2L2056.4 991.4L2057.9 991.6L2059.4 991.8L2060.9 991.9L2062.4 992.1L2063.9 992.4L2065.4 992.6"/>
</g>
<g id="annot">
<rect x="1723" y="231" width="5" height="381" fill="#ff0000"/>
<polygon points="1699.8,610 1751.2,610 1725.4,661.2" fill="#ff0000"/>
<text class="note" x="606.7" y="190.8" textLength="699" lengthAdjust="spacingAndGlyphs">From 0 eq (free-phenol)</text>
<text class="note" x="607.6" y="326.3" textLength="60.3" lengthAdjust="spacingAndGlyphs">to</text>
<text class="note" x="605.7" y="461.8" textLength="313.7" lengthAdjust="spacingAndGlyphs">1.8eq of IL</text>
</g>
</svg>
</body>
</html>
